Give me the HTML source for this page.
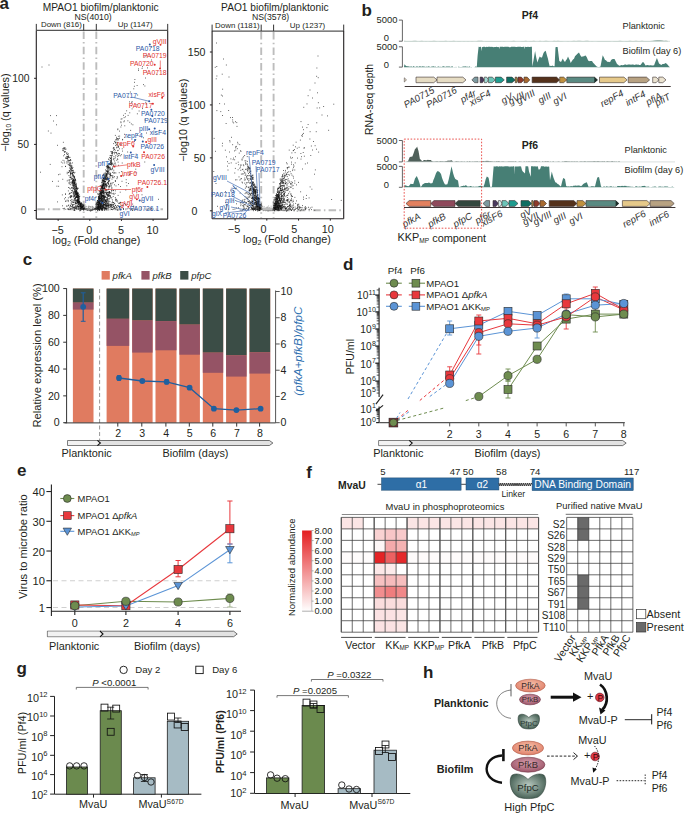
<!DOCTYPE html>
<html><head><meta charset="utf-8"><style>
html,body{margin:0;padding:0;background:#fff;width:685px;height:813px;overflow:hidden}
svg{display:block;font-family:"Liberation Sans",sans-serif}
</style></head><body>
<svg width="685" height="813" viewBox="0 0 685 813">
<rect width="685" height="813" fill="#fff"/>
<text x="-0.40" y="9.40" font-size="17.00" font-weight="bold" fill="#231f20">a</text>
<text x="100.60" y="10.57" font-size="10.20" text-anchor="middle" fill="#231f20">MPAO1 biofilm/planktonic</text>
<text x="93.10" y="19.64" font-size="8.70" text-anchor="middle" fill="#231f20">NS(4010)</text>
<text x="61.40" y="26.96" font-size="7.90" text-anchor="middle" fill="#231f20">Down (816)</text>
<text x="135.20" y="27.00" font-size="8.00" text-anchor="middle" fill="#231f20">Up (1147)</text>
<line x1="83.70" y1="31.40" x2="83.70" y2="218.10" stroke="#bdbdbd" stroke-width="1.90" stroke-dasharray="7.5 3.2 1.5 3.2"/>
<line x1="96.30" y1="31.40" x2="96.30" y2="218.10" stroke="#bdbdbd" stroke-width="1.90" stroke-dasharray="7.5 3.2 1.5 3.2"/>
<line x1="37.30" y1="209.30" x2="163.00" y2="209.30" stroke="#bdbdbd" stroke-width="1.90" stroke-dasharray="7.5 3.2 1.5 3.2"/>
<path d="M91.1 209.7h0M89.5 209.1h0M85.3 208.9h0M86.5 209.4h0M86.5 208.9h0M95.5 208.4h0M87.1 209.4h0M86.0 209.3h0M92.7 209.3h0M94.2 209.0h0M92.6 209.0h0M92.3 210.0h0M89.7 210.3h0M95.9 208.8h0M88.8 209.6h0M93.8 209.2h0M94.9 208.6h0M90.6 210.2h0M87.3 209.5h0M92.7 209.9h0M90.5 211.1h0M95.0 208.6h0M95.9 208.6h0M85.8 208.8h0M96.3 208.9h0M91.9 209.3h0M89.6 209.6h0M91.0 210.0h0M87.6 210.2h0M91.3 210.6h0M95.1 208.7h0M87.6 210.2h0M94.5 209.3h0M91.1 210.6h0M88.2 210.2h0M90.7 210.2h0M94.3 209.3h0M88.0 209.9h0M94.2 209.3h0M84.6 209.2h0M85.2 208.6h0M85.6 208.3h0M90.1 210.4h0M91.1 209.7h0M89.4 209.7h0M95.1 208.9h0M91.4 209.6h0M86.5 209.5h0M95.8 208.9h0M91.7 209.4h0M91.1 209.9h0M93.3 209.6h0M86.2 209.0h0M84.5 208.4h0M86.2 208.7h0M96.5 207.8h0M92.4 209.6h0M96.1 208.5h0M90.3 210.0h0M94.6 209.0h0M90.1 210.0h0M85.1 209.2h0M91.4 210.0h0M86.4 209.9h0M92.8 209.0h0M96.0 208.0h0M87.9 209.4h0M95.3 208.4h0M94.4 209.2h0M87.4 208.8h0M95.5 210.0h0M88.4 209.5h0M94.4 208.7h0M94.1 208.4h0M89.8 209.2h0M92.3 210.3h0M90.9 210.0h0M84.4 208.3h0M90.0 210.7h0M85.3 209.3h0M95.1 208.9h0M93.5 209.7h0M92.6 209.1h0M91.1 210.2h0M96.0 207.9h0M89.9 209.9h0M89.3 209.7h0M92.8 209.4h0M95.7 208.7h0M88.6 209.1h0" stroke="#555" stroke-width="0.90" stroke-linecap="round" fill="none"/>
<path d="M85.0 206.4h0M89.4 209.5h0M92.7 206.7h0M91.5 209.2h0M88.8 209.4h0M85.9 207.3h0M89.1 208.9h0M88.5 207.2h0M92.7 207.6h0M88.2 206.9h0M88.8 208.8h0M87.6 208.6h0M88.9 206.0h0M93.6 207.2h0M89.5 209.8h0M86.1 206.3h0M86.1 206.6h0M92.5 208.1h0M84.4 207.1h0M89.1 206.7h0M87.1 209.6h0M88.4 206.9h0M90.0 206.5h0M89.2 208.6h0M84.9 208.2h0M87.1 209.0h0M90.2 209.6h0M90.1 206.7h0M85.9 208.8h0M92.1 206.3h0M88.2 207.1h0M88.7 209.5h0M89.6 209.0h0M91.6 207.1h0M90.2 207.5h0M88.7 208.1h0M90.7 206.7h0M92.4 206.6h0M87.1 209.4h0M93.9 207.5h0" stroke="#9a9a9a" stroke-width="1.00" stroke-linecap="round" fill="none"/>
<path d="M78.5 201.7h0M75.9 192.8h0M83.5 208.8h0M78.6 197.8h0M76.3 188.8h0M83.4 207.2h0M80.8 206.6h0M76.2 190.3h0M78.1 208.8h0M76.1 197.2h0M80.6 202.2h0M74.8 189.8h0M78.8 202.6h0M73.5 179.1h0M73.9 185.6h0M78.1 201.2h0M79.0 197.2h0M74.1 186.7h0M67.1 158.7h0M83.4 208.9h0M83.1 208.5h0M77.8 199.1h0M74.9 193.1h0M72.5 202.1h0M78.2 200.6h0M78.4 194.8h0M70.2 197.3h0M73.8 183.2h0M74.3 209.4h0M72.5 174.2h0M76.0 187.9h0M82.6 205.8h0M82.7 206.7h0M71.0 163.9h0M73.6 200.2h0M74.6 180.7h0M77.3 200.5h0M83.7 210.0h0M69.9 193.3h0M71.5 165.9h0M77.7 205.9h0M65.5 201.2h0M71.6 168.1h0M81.3 203.6h0M77.0 209.1h0M71.9 183.7h0M78.1 199.9h0M75.8 203.9h0M79.2 194.8h0M74.9 186.9h0M76.0 196.0h0M72.8 174.9h0M70.6 165.0h0M67.5 158.2h0M70.9 168.6h0M80.2 210.3h0M63.6 149.0h0M80.3 204.6h0M75.9 190.3h0M66.8 156.4h0M67.1 157.0h0M76.5 193.0h0M82.4 206.4h0M78.5 195.6h0M77.9 192.7h0M73.8 191.7h0M73.1 193.3h0M77.4 196.4h0M74.1 183.1h0M72.9 167.5h0M77.9 192.8h0M81.9 206.7h0M73.7 207.6h0M83.6 205.9h0M66.9 163.0h0M73.7 196.8h0M80.4 205.3h0M80.8 204.6h0M76.5 191.9h0M69.4 188.1h0M73.3 175.9h0M84.2 209.0h0M79.2 198.7h0M78.8 206.9h0M81.0 208.6h0M76.5 208.9h0M74.4 208.0h0M71.3 196.1h0M79.5 203.4h0M82.3 207.4h0M77.2 201.2h0M77.3 194.8h0M79.1 204.4h0M80.7 203.8h0M69.7 171.6h0M68.3 197.9h0M77.9 201.0h0M78.3 198.3h0M83.8 208.2h0M80.2 208.5h0M77.6 202.5h0M68.6 205.6h0M70.8 175.9h0M77.7 200.7h0M77.0 194.6h0M80.7 203.6h0M78.7 209.2h0M76.4 193.2h0M64.7 162.9h0M84.1 206.1h0M71.4 170.8h0M71.2 173.5h0M72.8 170.5h0M70.9 160.3h0M83.0 209.5h0M71.2 169.3h0M73.3 184.6h0M72.7 178.7h0M84.3 208.3h0M76.8 203.0h0M71.9 178.7h0M74.7 177.1h0M80.0 206.3h0M76.7 191.6h0M76.6 185.0h0M77.2 193.2h0M64.2 161.0h0M64.3 208.3h0M71.1 196.6h0M79.3 204.3h0M74.1 201.9h0M72.5 183.2h0M80.9 209.9h0M78.3 202.2h0M69.9 170.5h0M73.8 207.8h0M57.4 201.9h0M75.6 189.8h0M81.4 209.6h0M65.1 149.5h0M71.5 204.1h0M70.3 172.1h0M75.2 192.2h0M79.0 196.6h0M81.0 209.0h0M67.1 200.2h0M78.5 202.9h0M78.0 198.9h0M65.9 157.4h0M74.6 182.2h0M78.4 201.0h0M77.4 192.0h0M77.8 197.5h0M81.0 208.1h0M78.5 193.6h0M77.8 202.9h0M69.1 157.3h0M74.7 183.1h0M72.8 208.7h0M71.8 167.7h0M70.6 205.2h0M75.2 181.0h0M76.7 193.2h0M68.5 153.9h0M81.3 202.8h0M81.3 207.4h0M80.5 204.2h0M74.0 197.1h0M70.4 195.7h0M74.1 182.9h0M73.8 184.7h0M67.0 152.8h0M75.3 197.6h0M69.4 179.8h0M79.6 201.8h0M71.0 177.9h0M77.3 205.3h0M68.3 200.4h0M81.0 206.6h0M63.0 160.3h0M63.0 150.6h0M73.8 180.5h0M78.7 199.3h0M77.5 201.7h0M73.0 196.2h0M77.4 198.0h0M64.5 154.6h0M75.2 208.2h0M70.6 209.1h0M81.5 203.2h0M80.6 203.6h0M74.4 181.9h0M71.0 179.5h0M65.8 209.3h0M74.1 185.8h0M64.4 152.3h0M73.4 171.9h0M78.1 200.7h0M82.9 205.0h0M63.1 208.5h0M70.7 163.0h0M80.4 206.6h0M76.3 203.2h0M75.5 180.0h0M70.3 169.2h0M73.7 180.5h0M82.4 206.7h0M78.6 199.4h0M74.9 172.4h0M74.5 196.1h0M82.6 208.8h0M70.8 174.2h0M70.1 196.6h0M82.8 206.7h0M78.0 199.9h0M77.3 189.4h0M79.0 200.9h0M83.3 205.0h0M77.8 206.8h0M80.2 208.2h0M76.6 201.9h0M72.7 191.0h0M74.7 187.6h0M74.9 210.2h0M79.3 198.8h0M71.0 208.7h0M80.8 207.3h0M70.7 206.2h0M67.0 206.2h0M66.8 206.0h0M76.7 196.6h0M70.0 157.4h0M70.1 176.0h0M71.2 171.1h0M76.8 193.5h0M73.9 181.5h0M74.0 179.7h0M76.5 188.9h0M76.5 197.3h0M76.2 196.7h0M73.3 195.1h0M77.3 196.6h0M80.4 206.5h0M77.6 194.9h0M75.8 180.8h0M75.8 193.3h0M69.6 168.0h0M70.6 205.8h0M63.7 155.8h0M81.7 207.7h0M67.9 159.7h0M77.7 194.8h0M77.3 194.2h0M74.3 206.8h0M80.2 205.8h0M73.5 186.8h0M68.3 190.9h0M74.9 187.1h0M71.0 173.4h0M76.0 205.5h0M79.1 202.3h0M76.0 185.8h0M80.4 205.8h0M68.1 160.4h0M83.6 209.9h0M75.7 200.2h0M82.1 204.3h0M66.0 149.1h0M76.9 188.2h0M78.7 203.9h0M72.2 199.9h0M72.8 180.7h0M77.1 192.8h0M69.9 177.4h0M79.0 206.7h0M76.3 187.4h0M75.5 203.1h0M73.3 183.3h0M78.8 196.0h0M81.4 207.4h0M74.2 178.9h0M75.3 202.4h0M69.6 193.4h0M81.0 204.5h0M78.7 203.8h0M79.4 201.5h0M68.5 156.8h0M73.2 181.2h0M78.9 197.0h0M73.0 204.4h0M71.6 206.6h0M79.2 200.6h0M74.4 183.2h0M75.6 207.8h0M70.2 172.3h0M68.5 156.0h0M75.9 208.3h0M77.1 188.1h0M82.1 208.3h0M78.7 201.2h0M79.8 202.4h0M75.3 179.1h0M77.0 197.1h0M72.4 182.6h0M84.3 207.9h0M84.9 205.0h0M77.3 193.9h0M75.8 194.1h0M74.8 192.4h0M76.5 207.1h0M76.1 183.7h0M77.3 197.5h0M69.9 162.0h0M66.5 158.3h0M75.6 203.2h0M74.4 178.7h0M78.6 206.6h0M78.1 204.8h0M81.1 205.6h0M73.6 204.8h0M80.9 206.4h0M76.7 193.8h0M69.9 165.9h0M76.0 200.2h0M77.2 197.5h0M80.0 204.6h0M73.0 175.1h0M76.4 196.6h0M74.0 180.6h0M72.2 179.0h0M69.7 163.3h0M75.9 184.3h0M73.5 188.5h0M74.8 182.0h0M76.4 196.0h0M64.2 151.6h0M78.4 197.3h0M70.8 193.1h0M75.6 194.3h0M72.4 181.2h0M75.8 192.3h0M74.4 183.6h0M75.5 188.2h0M77.0 209.0h0M74.9 200.2h0M64.1 147.5h0M74.7 198.9h0M72.5 172.9h0M78.7 204.7h0M73.3 172.5h0M75.6 193.1h0M70.6 167.9h0M75.5 197.6h0M77.5 202.6h0M78.5 196.9h0M65.4 151.8h0M67.4 157.9h0M71.4 187.8h0M75.6 186.3h0M81.9 204.0h0M67.0 158.3h0M74.2 189.4h0M72.5 175.9h0M74.3 193.1h0M76.4 191.9h0M77.5 195.5h0M73.6 194.2h0M80.3 210.0h0M76.0 186.0h0M83.0 204.6h0M77.9 188.5h0M73.6 176.9h0M72.6 181.6h0M74.8 199.0h0M78.2 204.0h0M70.1 170.9h0M69.1 194.3h0M76.4 186.6h0M75.4 201.2h0M81.8 208.7h0M83.0 208.7h0M66.6 153.2h0M68.2 156.2h0M75.8 182.8h0M75.2 184.6h0M72.8 206.4h0M72.3 185.6h0M75.5 191.6h0M70.6 200.6h0M83.6 208.4h0M72.8 172.0h0M67.7 208.9h0M72.9 180.1h0M82.0 204.6h0M74.3 185.6h0M69.4 165.1h0M81.8 203.7h0M73.7 176.8h0M81.5 207.2h0M63.1 150.5h0M74.4 210.4h0M81.5 207.6h0M70.9 166.2h0M76.2 190.1h0M70.8 174.1h0M70.3 197.1h0M73.8 175.6h0M71.0 166.4h0M68.9 157.8h0M68.0 161.0h0M70.6 160.2h0M73.9 202.4h0M68.1 162.8h0M69.0 165.0h0M74.2 173.1h0M82.8 206.8h0M73.5 179.7h0M75.2 184.5h0M75.3 179.4h0M72.6 173.7h0M69.8 160.4h0M76.2 190.4h0M73.7 182.7h0M65.5 193.9h0M74.4 200.2h0M80.1 205.6h0M79.9 210.8h0M74.6 191.3h0M72.4 162.9h0M83.2 209.1h0M81.1 207.5h0M67.0 154.1h0M80.0 207.4h0M76.1 188.1h0M65.5 197.6h0M80.5 204.7h0M70.6 159.5h0M68.9 175.6h0M68.4 209.2h0M72.4 184.7h0M82.3 207.1h0M77.3 195.6h0M75.7 185.8h0M69.8 209.4h0M70.9 165.7h0M80.2 208.6h0M75.4 196.0h0M76.0 188.3h0M72.2 182.0h0M79.2 202.7h0M70.8 169.4h0M68.2 201.6h0M83.8 209.2h0M77.0 195.4h0M72.9 202.0h0M81.4 207.2h0M72.4 180.8h0M72.6 173.4h0M71.6 170.1h0M67.5 156.5h0M83.3 205.6h0M80.2 208.7h0M75.5 203.0h0M73.1 172.7h0M73.7 180.0h0M68.6 172.6h0M76.8 196.2h0M68.2 164.5h0M76.1 200.0h0M80.2 209.1h0M75.7 206.7h0M76.3 201.1h0M82.3 209.4h0M77.8 193.2h0M77.3 196.0h0M71.1 172.7h0M79.4 205.8h0M74.0 193.4h0M74.1 182.3h0M76.4 194.5h0M83.0 205.6h0M74.5 191.1h0M63.4 148.3h0M73.1 192.3h0M77.0 200.7h0M68.5 160.9h0M69.5 207.1h0M78.4 202.7h0M76.0 193.7h0M74.0 210.4h0M64.8 148.3h0M70.1 163.1h0M70.7 184.7h0M74.6 188.4h0M75.9 191.7h0M76.8 190.6h0M78.1 195.6h0M80.8 206.5h0M74.8 204.3h0M76.8 188.3h0M73.4 181.8h0M77.1 195.7h0M76.9 193.4h0M77.7 200.5h0M74.6 194.5h0M70.8 177.4h0M77.0 197.6h0M69.7 180.9h0M73.5 180.6h0M74.1 184.2h0M76.3 193.7h0M74.2 195.8h0M76.9 206.8h0M75.2 188.9h0M78.3 198.2h0M75.3 198.7h0M77.5 201.6h0M79.3 201.5h0M77.5 197.1h0M72.6 190.7h0M71.6 201.8h0M80.4 203.6h0M71.0 208.1h0M73.2 175.0h0M77.6 193.5h0M73.0 189.1h0M76.3 193.9h0M71.6 190.6h0M65.4 194.3h0M79.0 199.5h0M78.4 202.5h0M76.7 207.9h0M67.5 154.4h0M77.4 193.6h0M68.4 187.5h0M73.8 188.1h0M78.7 201.7h0M72.3 168.4h0M75.9 194.2h0M76.8 193.9h0M81.9 207.5h0M74.6 207.8h0M77.1 189.0h0M72.0 177.0h0M72.7 205.7h0M75.3 190.2h0M68.2 209.2h0M78.9 196.7h0M64.9 151.4h0M67.2 172.3h0M77.3 195.2h0M71.2 182.0h0M78.4 195.3h0M76.3 200.7h0M75.8 192.2h0M74.3 198.7h0M77.9 200.3h0M80.5 204.7h0M82.0 206.0h0M69.2 170.6h0M70.7 174.1h0M71.3 199.8h0M76.7 194.4h0M72.1 182.7h0M77.4 199.7h0M69.5 165.0h0M78.0 202.9h0M76.2 191.1h0M79.1 205.8h0M80.4 206.7h0M79.3 202.5h0M81.7 206.7h0M68.3 157.3h0M78.0 206.7h0M73.6 185.5h0M73.1 183.4h0M72.0 188.1h0M75.0 180.6h0M80.3 206.1h0M81.9 208.6h0M72.2 168.7h0M79.4 197.0h0M73.0 170.3h0M71.5 167.3h0M72.7 207.3h0M73.2 180.1h0M75.1 179.7h0M74.3 184.3h0M73.0 170.4h0M70.8 182.8h0M78.1 206.8h0M67.2 173.7h0M76.5 187.0h0M77.9 199.7h0M83.2 206.3h0M71.1 203.1h0M77.1 199.9h0M74.3 191.0h0M71.8 178.8h0M79.8 196.3h0M79.3 202.0h0M77.4 202.9h0M80.4 206.9h0M62.6 205.8h0M68.2 180.1h0M75.7 192.1h0M72.5 205.1h0M75.9 186.1h0M80.6 203.4h0M74.3 177.3h0M78.0 188.2h0M74.5 176.5h0M81.6 205.6h0M75.5 191.4h0M75.3 208.1h0M75.9 184.1h0M75.6 194.8h0M81.4 207.8h0M81.4 204.9h0M72.4 182.7h0M62.8 163.0h0M72.1 187.6h0M74.5 177.5h0M75.6 198.6h0M76.7 203.7h0M67.2 180.9h0M52.5 181.4h0M74.6 189.8h0M57.4 145.3h0M73.6 192.8h0M69.0 183.1h0M62.3 194.9h0M73.1 186.9h0M78.6 206.4h0M74.1 185.7h0M73.1 188.0h0M76.9 206.4h0M40.5 172.2h0M68.3 172.3h0M72.3 204.9h0M81.1 205.4h0M76.7 196.6h0M64.6 198.9h0M58.3 181.2h0M62.4 148.9h0M72.1 166.1h0M71.5 195.7h0M78.7 208.2h0M61.3 162.1h0M66.0 201.2h0M74.7 183.8h0M66.9 161.7h0M58.4 174.7h0M56.9 186.2h0M78.9 209.2h0M65.1 147.9h0M65.7 158.4h0M68.8 205.0h0M73.1 182.0h0M63.3 142.3h0M74.6 195.6h0M75.8 197.5h0M82.7 207.5h0M80.8 204.8h0M70.3 188.9h0M50.4 115.6h0M65.6 166.3h0M62.8 179.3h0M64.5 148.8h0M65.6 166.5h0M78.3 196.3h0M71.5 196.7h0M74.7 196.1h0M79.0 206.6h0M76.3 191.6h0M73.9 207.6h0M58.7 186.3h0M69.3 183.9h0M60.0 174.2h0M80.7 206.4h0M77.4 201.2h0M70.6 173.4h0M74.8 182.7h0M72.2 170.9h0M69.5 160.5h0M73.5 202.4h0M51.0 133.1h0M70.4 177.6h0M76.8 207.9h0M76.4 196.8h0M71.5 192.5h0M79.4 203.5h0M72.8 207.0h0M79.0 207.2h0M69.2 182.3h0M70.8 197.7h0M62.0 166.7h0M50.2 164.4h0M75.6 206.2h0M106.0 178.9h0M103.1 181.7h0M98.6 207.8h0M112.2 153.4h0M102.1 183.3h0M107.4 179.8h0M104.2 189.0h0M105.0 202.2h0M114.1 208.1h0M119.4 208.0h0M112.1 151.5h0M99.3 203.3h0M115.3 181.0h0M110.7 204.6h0M112.2 169.0h0M112.0 202.8h0M100.5 205.9h0M107.1 192.8h0M97.5 201.1h0M106.3 170.4h0M117.0 207.5h0M98.0 206.5h0M108.9 187.3h0M100.1 185.8h0M96.2 204.7h0M100.9 195.8h0M117.3 209.9h0M101.5 206.9h0M106.5 205.7h0M102.6 196.3h0M117.8 159.4h0M107.1 166.8h0M102.0 203.8h0M98.5 198.8h0M102.9 186.1h0M104.6 187.6h0M116.7 199.3h0M99.9 199.5h0M98.3 208.3h0M101.9 190.6h0M115.2 207.9h0M105.6 208.6h0M102.3 193.2h0M103.8 182.8h0M101.2 190.4h0M105.3 184.3h0M104.8 186.8h0M113.1 204.4h0M100.8 196.8h0M103.8 205.7h0M100.7 193.9h0M103.7 206.3h0M103.4 175.6h0M97.5 200.7h0M100.8 206.5h0M104.1 176.6h0M101.1 200.7h0M98.4 197.1h0M103.1 186.5h0M99.2 200.2h0M98.4 205.1h0M103.5 184.4h0M110.1 174.6h0M104.9 204.4h0M100.7 201.1h0M105.6 184.7h0M107.0 176.1h0M114.9 158.6h0M98.1 200.2h0M105.3 181.1h0M110.2 163.5h0M102.0 196.3h0M101.3 197.5h0M103.4 195.9h0M102.5 200.4h0M103.1 180.5h0M97.1 208.3h0M105.5 181.6h0M105.1 184.8h0M105.4 197.1h0M109.0 169.0h0M99.6 210.2h0M104.3 202.3h0M101.2 195.3h0M105.5 169.9h0M100.7 206.0h0M101.3 196.5h0M107.5 177.9h0M102.5 208.5h0M106.4 192.9h0M101.5 202.6h0M107.5 198.3h0M97.7 207.8h0M107.2 170.8h0M111.1 157.7h0M101.4 187.2h0M107.1 174.2h0M123.2 208.5h0M109.1 198.8h0M105.1 186.8h0M98.5 209.2h0M102.0 192.0h0M111.1 160.7h0M103.4 178.3h0M101.9 200.0h0M102.1 206.9h0M102.7 187.9h0M111.1 159.9h0M103.2 202.4h0M115.3 157.2h0M100.9 191.3h0M97.9 204.4h0M117.6 158.9h0M97.7 202.2h0M105.7 201.3h0M96.8 206.0h0M106.0 194.0h0M102.9 191.5h0M103.8 207.6h0M100.2 200.5h0M110.5 206.6h0M107.3 168.1h0M109.5 168.1h0M103.3 206.9h0M102.0 195.4h0M112.0 205.6h0M110.6 195.9h0M102.8 196.6h0M98.8 204.6h0M100.6 208.6h0M108.8 166.2h0M99.2 191.9h0M96.5 202.8h0M100.6 190.1h0M105.1 175.2h0M112.2 152.9h0M97.1 204.1h0M99.8 201.6h0M105.6 203.8h0M109.3 195.7h0M104.7 181.7h0M108.1 172.5h0M105.8 202.0h0M110.7 183.2h0M110.6 162.7h0M106.4 190.9h0M110.8 168.4h0M116.6 152.6h0M98.2 204.2h0M110.2 197.6h0M105.0 186.5h0M106.0 177.7h0M107.6 200.1h0M105.8 200.6h0M97.8 209.6h0M106.5 175.6h0M108.9 201.8h0M102.1 190.4h0M106.9 184.8h0M110.8 207.2h0M102.6 205.5h0M111.5 205.4h0M102.3 198.3h0M102.0 194.8h0M104.7 210.4h0M105.1 176.6h0M100.8 194.2h0M109.5 157.7h0M103.2 188.8h0M102.8 187.8h0M102.0 187.8h0M119.7 136.1h0M108.6 192.6h0M103.0 183.7h0M97.4 208.1h0M101.9 191.9h0M105.7 182.0h0M120.3 202.3h0M101.1 189.2h0M113.7 143.6h0M108.4 205.3h0M110.0 201.7h0M99.3 206.2h0M129.1 208.5h0M121.1 144.5h0M98.9 205.1h0M119.0 203.3h0M103.1 204.0h0M105.2 172.8h0M102.3 206.5h0M101.9 187.6h0M111.7 159.4h0M108.3 203.8h0M103.1 192.2h0M106.8 204.9h0M102.8 186.2h0M102.0 201.5h0M108.5 186.3h0M107.5 182.3h0M103.7 201.7h0M98.7 194.4h0M102.1 202.1h0M106.2 171.2h0M107.3 192.6h0M109.5 173.9h0M103.4 196.9h0M103.6 174.7h0M101.5 185.2h0M98.7 207.5h0M105.4 205.1h0M118.3 136.3h0M96.0 208.6h0M101.5 190.3h0M98.8 197.0h0M107.4 175.0h0M100.5 201.1h0M109.1 178.5h0M100.0 195.4h0M103.6 195.6h0M103.7 183.5h0M120.2 192.2h0M113.8 177.7h0M102.2 208.0h0M101.7 186.7h0M99.1 205.2h0M102.9 182.5h0M104.6 185.6h0M109.4 186.6h0M108.4 159.1h0M106.1 206.4h0M102.2 189.9h0M100.9 190.3h0M110.8 205.2h0M99.9 197.9h0M110.1 177.9h0M104.5 177.0h0M98.4 206.8h0M105.3 205.3h0M114.5 152.3h0M97.4 200.5h0M102.5 209.7h0M101.5 210.1h0M96.6 209.5h0M100.5 201.1h0M108.7 189.5h0M99.7 200.8h0M104.8 204.6h0M105.5 185.0h0M107.2 208.1h0M106.4 184.8h0M104.3 197.9h0M101.6 208.6h0M101.7 200.1h0M112.1 183.0h0M104.5 177.5h0M117.7 156.6h0M101.0 189.9h0M131.9 209.4h0M103.7 185.5h0M108.8 196.3h0M110.9 161.3h0M107.0 174.5h0M105.7 177.8h0M105.9 202.9h0M101.1 209.8h0M101.0 207.0h0M100.1 208.2h0M111.3 207.7h0M109.6 207.3h0M107.0 205.3h0M108.7 209.9h0M102.2 190.9h0M103.4 190.1h0M105.5 178.9h0M100.5 208.7h0M110.2 168.3h0M103.7 185.3h0M120.3 202.5h0M105.6 189.5h0M114.4 149.5h0M123.4 209.5h0M108.5 202.0h0M107.8 177.9h0M101.7 201.9h0M117.8 142.8h0M108.3 194.9h0M102.1 186.6h0M99.4 203.1h0M103.4 185.0h0M104.1 186.2h0M105.2 204.1h0M106.7 205.0h0M103.4 191.5h0M98.0 202.8h0M102.0 201.0h0M118.0 139.8h0M101.3 206.3h0M102.5 185.5h0M112.3 155.3h0M110.4 174.7h0M102.0 187.6h0M111.6 163.2h0M101.9 188.3h0M103.0 178.7h0M98.0 209.6h0M115.8 143.2h0M106.0 178.8h0M101.2 207.4h0M98.8 200.3h0M104.9 204.4h0M103.5 197.2h0M106.7 173.6h0M98.1 206.4h0M99.1 206.9h0M101.1 198.4h0M98.9 197.8h0M109.9 204.7h0M120.1 144.3h0M107.7 194.9h0M115.3 205.4h0M101.3 197.4h0M101.6 202.4h0M98.2 207.9h0M96.0 209.2h0M99.2 197.0h0M99.4 195.3h0M107.7 178.2h0M99.2 200.9h0M101.0 191.8h0M98.8 208.8h0M103.1 180.9h0M102.0 188.5h0M102.2 195.4h0M111.5 160.3h0M108.4 173.5h0M100.0 198.9h0M99.6 201.0h0M104.2 191.1h0M102.7 185.2h0M115.7 145.5h0M101.0 192.5h0M100.6 205.6h0M113.4 165.3h0M97.4 204.1h0M110.1 160.6h0M100.3 204.2h0M102.2 195.4h0M104.1 195.8h0M109.4 192.6h0M103.9 206.7h0M98.4 205.6h0M98.7 199.8h0M104.7 182.3h0M106.2 178.3h0M110.1 184.9h0M112.0 179.1h0M114.8 203.9h0M103.7 204.5h0M103.9 181.0h0M100.8 203.9h0M112.2 199.6h0M103.5 192.0h0M105.4 205.8h0M109.9 205.2h0M107.2 173.2h0M116.9 142.3h0M108.3 204.2h0M106.8 167.9h0M99.4 194.4h0M97.9 210.1h0M127.8 204.5h0M132.5 210.5h0M100.9 206.2h0M99.2 198.5h0M105.6 208.2h0M106.9 185.9h0M112.4 201.1h0M104.3 193.7h0M105.7 200.0h0M104.7 178.1h0M100.9 185.5h0M97.1 207.4h0M104.1 205.3h0M103.3 204.3h0M102.8 185.0h0M102.5 202.3h0M111.6 163.5h0M107.3 204.0h0M106.4 174.4h0M99.6 202.0h0M103.0 191.2h0M100.8 207.6h0M103.0 205.9h0M104.9 200.6h0M102.6 208.1h0M99.4 203.8h0M99.7 196.6h0M101.9 199.2h0M100.0 206.8h0M97.7 210.3h0M99.0 196.9h0M101.8 182.1h0M99.7 201.1h0M97.9 203.0h0M113.7 208.7h0M102.5 206.6h0M117.7 201.9h0M116.7 207.3h0M111.5 161.4h0M106.1 202.1h0M99.8 207.5h0M105.6 176.0h0M107.1 197.5h0M101.5 202.5h0M112.5 204.7h0M103.3 193.7h0M112.1 164.4h0M106.4 175.6h0M99.9 200.9h0M114.7 161.0h0M108.8 181.7h0M110.9 151.6h0M102.9 187.6h0M103.0 193.7h0M104.1 173.4h0M112.2 154.1h0M101.5 209.3h0M107.5 201.7h0M98.6 204.7h0M99.4 202.9h0M99.2 209.2h0M113.2 196.5h0M100.3 201.5h0M112.2 163.8h0M106.9 193.4h0M107.9 194.6h0M103.4 188.0h0M118.6 146.0h0M108.2 208.6h0M107.0 199.2h0M107.2 178.4h0M117.3 177.7h0M111.8 197.7h0M107.2 205.1h0M104.9 205.0h0M102.0 209.3h0M107.1 178.6h0M108.5 181.7h0M113.2 205.9h0M113.9 164.3h0M106.6 193.9h0M99.9 198.4h0M99.3 198.2h0M111.7 209.2h0M99.7 204.4h0M103.0 191.7h0M103.9 184.3h0M96.0 204.2h0M112.1 151.9h0M104.7 177.8h0M105.2 190.0h0M101.3 204.3h0M102.0 190.4h0M103.6 208.2h0M123.7 205.1h0M99.7 197.1h0M101.1 192.1h0M102.6 186.2h0M102.3 198.2h0M96.0 207.0h0M107.3 171.8h0M111.2 158.7h0M109.4 193.1h0M110.6 205.9h0M109.3 191.7h0M100.8 193.5h0M108.8 164.3h0M108.6 196.2h0M103.5 199.8h0M103.9 196.5h0M105.3 178.9h0M99.2 201.4h0M103.9 201.9h0M113.0 209.4h0M99.6 206.7h0M108.1 183.1h0M109.0 194.0h0M108.9 198.8h0M106.1 201.1h0M100.6 191.8h0M105.0 208.1h0M105.1 207.6h0M112.1 188.0h0M100.6 198.0h0M116.6 137.3h0M107.5 206.2h0M96.8 207.7h0M100.4 198.4h0M108.1 166.7h0M111.7 153.2h0M106.9 207.0h0M102.4 210.0h0M106.9 209.9h0M110.3 192.8h0M113.2 148.3h0M108.2 200.2h0M103.5 179.6h0M102.5 202.2h0M98.6 206.8h0M113.7 159.7h0M114.3 206.6h0M101.9 190.9h0M103.7 180.2h0M108.3 167.9h0M103.7 183.4h0M104.1 184.4h0M128.2 201.8h0M104.7 197.7h0M111.0 198.0h0M100.7 197.7h0M104.2 188.7h0M104.4 183.4h0M101.4 204.1h0M95.4 208.7h0M105.1 196.4h0M98.6 201.7h0M106.2 176.4h0M103.1 202.3h0M105.9 179.0h0M110.8 161.2h0M102.5 188.7h0M105.6 208.7h0M107.9 182.6h0M116.3 144.7h0M100.9 193.3h0M101.2 196.6h0M99.4 193.7h0M118.6 165.3h0M99.8 205.4h0M101.0 193.9h0M104.9 207.0h0M118.1 150.4h0M104.0 188.5h0M115.8 200.5h0M97.4 204.4h0M101.5 193.9h0M110.3 173.1h0M110.8 155.5h0M102.3 199.2h0M106.5 208.5h0M105.0 175.4h0M106.6 175.2h0M115.0 166.8h0M106.7 199.3h0M119.6 131.1h0M122.0 206.0h0M117.8 129.7h0M108.1 183.4h0M98.9 204.1h0M102.2 192.2h0M102.7 192.1h0M99.6 210.1h0M105.0 181.6h0M100.5 207.3h0M108.7 181.0h0M103.3 196.4h0M100.1 206.0h0M99.2 207.6h0M99.9 195.9h0M106.8 201.9h0M99.6 198.7h0M107.6 172.0h0M97.6 208.1h0M101.9 182.5h0M102.3 186.8h0M109.5 163.6h0M133.8 206.2h0M100.8 201.6h0M98.5 199.3h0M118.9 206.6h0M98.7 207.0h0M102.6 186.5h0M110.1 155.7h0M105.0 197.2h0M104.5 192.7h0M104.2 177.9h0M103.5 192.2h0M117.1 200.5h0M104.6 198.5h0M110.9 169.6h0M105.4 185.0h0M117.9 210.3h0M106.3 185.2h0M109.8 192.9h0M103.4 193.4h0M103.7 201.1h0M103.1 204.6h0M101.8 198.8h0M105.5 203.5h0M104.4 195.2h0M105.5 200.2h0M105.5 174.7h0M101.6 197.4h0M102.7 181.7h0M104.7 178.6h0M103.2 186.1h0M107.0 209.9h0M115.1 142.0h0M100.9 207.8h0M105.7 200.5h0M107.7 165.4h0M102.1 198.2h0M113.7 206.1h0M99.4 202.5h0M97.1 205.6h0M111.0 162.6h0M100.5 204.5h0M101.7 208.9h0M101.1 186.8h0M101.6 187.0h0M107.6 171.5h0M101.8 192.6h0M100.9 188.5h0M101.2 204.8h0M110.4 164.6h0M108.4 171.0h0M98.0 209.3h0M104.0 178.1h0M107.1 200.3h0M109.1 172.3h0M103.2 207.5h0M98.1 202.1h0M102.0 208.3h0M103.8 195.4h0M101.3 195.6h0M109.0 170.6h0M99.2 201.0h0M97.4 208.6h0M102.3 187.9h0M113.8 172.2h0M104.2 200.6h0M102.4 187.4h0M105.3 177.5h0M110.7 183.8h0M102.4 186.5h0M106.6 205.8h0M103.2 203.6h0M103.0 205.5h0M98.3 206.1h0M102.4 202.1h0M104.4 179.1h0M105.7 173.4h0M103.0 199.0h0M119.5 207.4h0M119.4 138.2h0M96.1 206.2h0M111.3 164.6h0M107.7 194.8h0M98.4 202.1h0M97.9 208.1h0M113.7 202.6h0M110.1 169.6h0M104.6 204.2h0M103.6 205.8h0M104.0 191.1h0M99.0 197.5h0M118.7 147.0h0M98.3 203.9h0M101.8 205.5h0M104.8 196.9h0M108.5 167.8h0M103.5 183.1h0M101.8 207.0h0M105.7 179.2h0M106.8 176.7h0M101.3 196.1h0M99.9 199.4h0M107.1 173.5h0M112.3 207.2h0M103.3 178.4h0M101.4 187.8h0M99.9 198.8h0M107.4 169.3h0M103.8 192.8h0M99.2 197.1h0M113.9 156.7h0M105.4 192.5h0M102.1 202.4h0M102.1 188.4h0M102.9 189.1h0M108.4 184.3h0M99.7 208.8h0M99.9 207.5h0M105.8 196.7h0M100.2 207.4h0M141.3 207.2h0M101.1 206.1h0M111.3 155.9h0M113.5 150.1h0M102.4 180.9h0M103.0 199.8h0M101.5 192.6h0M101.4 193.7h0M109.4 167.4h0M100.4 190.2h0M97.8 202.4h0M100.0 188.7h0M101.9 197.8h0M108.9 206.8h0M98.3 201.5h0M102.9 184.8h0M103.9 183.8h0M102.7 195.6h0M100.8 203.2h0M104.0 205.1h0M107.0 173.3h0M114.3 208.1h0M100.2 204.3h0M118.5 205.9h0M110.5 164.3h0M100.9 207.9h0M108.6 192.1h0M98.4 207.2h0M99.0 200.9h0M98.0 206.6h0M109.4 205.2h0M107.8 199.0h0M123.4 208.8h0M98.3 198.3h0M107.2 208.2h0M101.2 202.9h0M99.3 202.8h0M103.7 190.2h0M102.6 205.1h0M108.7 183.9h0M125.4 204.7h0M115.4 152.4h0M108.6 206.1h0M101.4 194.5h0M101.1 203.5h0M102.8 185.5h0M98.4 196.3h0M100.8 206.1h0M102.3 200.1h0M99.3 198.9h0M122.5 151.1h0M104.2 197.5h0M106.7 185.7h0M98.8 203.7h0M106.0 201.0h0M104.1 187.8h0M98.7 204.9h0M104.7 184.7h0M107.7 171.9h0M97.1 209.0h0M113.8 170.2h0M98.2 204.6h0M102.2 184.4h0M124.6 203.6h0M108.6 167.1h0M102.7 185.3h0M105.7 176.7h0M103.8 200.0h0M108.7 179.0h0M110.3 175.8h0M104.9 201.0h0M115.8 155.7h0M107.1 179.1h0M107.9 202.8h0M96.7 203.6h0M120.8 206.3h0M104.1 174.4h0M117.5 138.5h0M127.2 208.8h0M101.3 199.7h0M101.7 204.1h0M103.9 188.5h0M100.5 193.5h0M108.6 207.6h0M115.5 142.5h0M106.7 209.2h0M102.6 207.9h0M106.9 200.2h0M107.8 192.2h0M115.2 150.3h0M110.3 204.3h0M99.4 203.6h0M104.3 180.8h0M111.7 155.9h0M108.1 206.7h0M116.9 140.0h0M97.9 194.1h0M106.4 202.2h0M97.9 208.5h0M103.5 200.3h0M111.6 190.8h0M104.6 180.0h0M100.9 199.4h0M98.0 193.7h0M99.1 202.1h0M112.4 172.4h0M98.4 208.3h0M97.5 202.3h0M108.0 177.1h0M110.4 175.7h0M108.8 205.8h0M103.8 207.9h0M109.0 174.6h0M113.7 158.7h0M106.3 171.6h0M109.0 194.9h0M97.0 204.0h0M102.6 179.7h0M106.8 203.3h0M113.6 206.8h0M98.2 207.2h0M104.7 188.2h0M107.7 167.9h0M106.4 201.5h0M103.5 178.2h0M105.8 199.9h0M111.6 204.8h0M108.9 188.9h0M116.3 153.0h0M102.3 203.9h0M115.3 180.9h0M109.7 195.8h0M105.9 201.0h0M111.0 158.2h0M112.7 202.4h0M115.5 163.1h0M112.5 207.6h0M107.4 199.3h0M106.5 174.8h0M103.5 181.3h0M112.6 177.6h0M103.9 204.4h0M108.1 166.4h0M104.5 208.2h0M100.6 198.6h0M104.5 199.6h0M101.7 193.7h0M103.9 194.6h0M100.3 205.5h0M106.4 179.6h0M99.0 197.4h0M99.9 208.0h0M109.0 159.7h0M99.7 193.4h0M103.4 197.4h0M99.2 202.8h0M105.3 206.1h0M102.6 201.5h0M116.0 199.5h0M101.5 186.7h0M99.8 201.8h0M103.1 198.7h0M101.2 202.7h0M105.7 183.5h0M114.3 176.6h0M104.3 209.7h0M98.8 200.0h0M104.7 178.2h0M102.1 209.1h0M112.7 209.7h0M105.0 188.7h0M106.2 204.4h0M98.7 205.2h0M98.0 201.1h0M103.5 184.2h0M100.5 207.8h0M110.2 167.2h0M109.7 185.6h0M114.0 147.6h0M98.4 204.2h0M110.7 173.6h0M100.8 203.5h0M104.5 207.4h0M106.5 197.7h0M108.1 183.3h0M100.9 192.8h0M113.2 166.2h0M108.2 167.1h0M101.6 194.7h0M104.0 188.2h0M100.7 194.7h0M99.2 207.7h0M108.8 178.8h0M103.5 207.3h0M118.5 155.7h0M98.6 202.6h0M106.5 194.3h0M102.1 180.0h0M117.0 147.1h0M104.9 201.9h0M111.6 209.5h0M101.7 197.2h0M115.8 209.0h0M111.2 185.7h0M116.6 147.8h0M102.4 192.5h0M99.9 191.9h0M110.5 158.4h0M117.7 150.7h0M102.6 187.7h0M112.0 151.9h0M104.4 202.6h0M102.0 208.7h0M98.1 205.6h0M108.1 167.6h0M107.6 197.0h0M100.7 193.7h0M98.6 209.2h0M101.9 200.3h0M109.1 167.3h0M101.9 202.6h0M101.3 191.8h0M102.4 175.6h0M107.4 205.8h0M102.4 189.0h0M110.8 158.5h0M98.8 196.2h0M103.1 198.1h0M101.4 200.3h0M118.8 138.5h0M101.3 199.0h0M115.6 205.5h0M98.3 202.5h0M107.9 165.4h0M102.0 186.0h0M108.5 204.8h0M106.0 205.9h0M104.9 197.6h0M101.2 208.7h0M107.3 166.1h0M109.5 191.6h0M103.7 183.9h0M106.9 192.5h0M117.5 205.7h0M114.1 148.8h0M99.9 198.6h0M99.2 209.7h0M100.9 201.5h0M106.9 203.5h0M116.3 206.4h0M99.2 206.3h0M102.0 200.9h0M110.0 196.1h0M115.6 199.1h0M100.2 194.7h0M109.0 203.7h0M104.5 181.6h0M99.6 191.0h0M114.4 153.8h0M101.5 199.4h0M104.2 196.8h0M135.8 139.6h0M110.8 162.2h0M108.1 195.3h0M118.5 184.6h0M104.0 192.6h0M124.8 125.8h0M126.7 110.8h0M127.6 136.9h0M142.0 194.8h0M98.3 207.4h0M103.5 184.4h0M109.1 164.7h0M125.4 116.8h0M117.2 176.6h0M142.6 108.6h0M106.3 208.8h0M134.5 141.6h0M126.7 157.9h0M106.4 186.7h0M99.7 203.6h0M106.2 187.2h0M143.6 137.8h0M127.9 120.8h0M118.2 139.8h0M101.8 205.6h0M121.1 175.8h0M116.8 138.6h0M117.2 145.1h0M113.6 202.6h0M115.3 190.8h0M129.8 112.8h0M124.3 120.9h0M102.0 196.2h0M99.6 206.3h0M124.6 134.3h0M126.8 185.8h0M108.4 205.5h0M115.3 135.4h0M99.8 209.4h0M111.4 175.7h0M131.3 105.8h0M110.4 196.2h0M115.1 193.4h0M105.9 190.1h0M136.7 172.8h0M102.5 210.2h0M132.9 124.8h0M130.7 130.4h0M105.4 207.9h0M102.1 192.3h0M131.8 102.4h0M136.8 192.8h0M138.6 68.9h0M103.4 203.7h0M142.1 68.4h0M104.4 208.7h0M108.2 193.4h0M111.2 193.7h0M103.4 180.7h0M122.0 181.3h0M128.1 115.4h0M141.4 201.0h0M101.5 205.1h0M111.8 169.7h0M129.6 101.9h0M144.8 57.1h0M129.9 174.4h0M107.6 203.3h0M107.9 195.5h0M133.8 88.8h0M146.4 133.0h0M103.0 196.0h0M136.1 154.2h0M97.8 206.3h0M102.9 207.2h0M122.6 139.9h0M112.8 193.7h0M116.8 160.3h0M121.6 125.2h0M130.0 174.8h0M111.9 184.0h0M114.4 184.8h0M119.0 203.4h0M137.3 113.8h0M112.6 168.6h0M100.4 196.2h0M99.1 206.2h0M105.8 184.3h0M115.6 181.1h0M100.9 192.3h0M109.9 164.1h0M113.6 147.8h0M112.6 167.2h0M111.7 157.2h0M154.9 180.6h0M115.9 173.0h0M111.4 188.0h0M163.7 119.3h0M111.6 206.5h0M107.1 165.8h0M97.3 207.1h0M123.3 175.9h0M111.0 186.3h0M106.4 174.6h0M108.0 196.3h0M114.4 207.9h0M103.8 204.7h0M128.4 183.5h0M128.7 97.2h0M105.4 208.6h0M109.9 192.8h0M98.0 208.6h0M150.7 56.3h0M111.3 204.3h0M116.7 139.3h0M120.9 127.0h0M121.0 122.7h0M122.7 139.4h0M134.9 79.5h0M118.1 147.4h0M158.5 199.3h0M116.9 178.7h0M113.6 190.5h0M139.1 111.0h0M107.6 170.8h0M98.1 205.1h0M112.6 152.9h0M113.1 152.6h0M107.8 172.0h0M122.0 118.8h0M103.1 195.8h0M114.0 173.5h0M112.2 163.2h0M97.8 210.8h0M100.0 204.6h0M99.6 208.8h0M104.3 188.1h0M104.5 196.9h0M113.7 193.3h0M126.2 179.7h0M126.2 182.6h0M98.9 203.2h0M109.4 191.8h0M108.0 166.1h0M117.9 128.9h0M117.1 144.1h0M123.9 121.8h0M144.9 86.0h0M115.3 197.6h0M109.0 201.0h0M122.2 163.0h0M101.4 198.8h0M119.8 203.1h0M118.1 162.1h0M112.7 176.1h0M110.1 169.3h0M135.8 169.2h0M120.4 186.5h0M145.5 78.0h0M142.6 66.7h0M121.4 171.6h0M103.4 198.4h0M124.4 137.3h0M134.5 82.3h0M103.8 180.7h0M109.1 180.4h0M105.8 189.8h0M132.7 204.1h0M114.0 194.6h0M104.5 179.2h0M104.2 199.0h0M111.8 162.7h0M105.0 208.9h0M106.3 206.7h0M102.4 195.3h0M132.1 108.9h0M103.1 190.4h0M116.0 185.9h0M113.6 204.6h0M105.0 181.6h0M99.7 202.3h0M123.6 115.3h0M106.2 180.1h0M137.7 95.0h0M120.9 121.8h0M124.1 117.6h0M109.8 176.9h0M100.3 202.8h0M159.4 130.4h0M100.6 206.1h0M119.5 148.8h0M145.9 56.1h0M104.6 181.3h0M109.1 195.1h0M122.2 205.3h0M98.8 198.7h0M133.1 206.3h0M107.8 190.0h0M111.0 175.6h0M100.4 192.4h0M107.5 205.2h0M146.8 55.4h0M108.6 169.0h0M106.3 166.5h0M99.5 209.8h0M145.0 119.9h0M114.8 172.6h0M107.4 167.1h0M99.7 198.3h0M102.5 197.0h0M151.6 60.0h0M129.8 122.3h0M132.1 101.6h0M109.7 180.9h0M105.7 191.9h0M115.8 165.0h0M112.8 175.8h0M125.8 190.0h0M143.4 84.6h0M99.6 209.2h0M106.3 183.4h0M115.4 139.9h0M109.2 198.8h0M130.2 172.2h0M109.0 180.8h0M137.1 85.5h0M104.3 199.4h0M130.3 92.0h0M117.2 154.8h0M106.6 207.1h0M105.8 208.7h0M116.2 201.3h0M114.3 163.2h0M137.4 134.8h0M119.1 155.1h0M138.6 70.4h0M108.3 171.4h0M113.2 182.6h0M146.3 104.0h0M105.0 175.2h0M120.7 155.8h0M137.0 104.6h0M117.0 153.7h0M118.5 153.4h0M144.8 162.0h0M99.6 195.9h0M102.3 180.5h0M121.3 154.6h0M106.6 177.0h0M106.3 193.6h0M119.4 153.5h0M151.4 208.7h0M145.8 102.3h0M107.7 195.1h0M122.2 148.8h0M118.2 146.4h0M113.1 190.7h0M103.6 178.3h0M106.8 189.6h0M104.8 196.5h0M134.3 86.3h0M104.9 177.7h0M107.3 179.4h0M118.1 195.4h0M131.3 123.9h0M109.5 186.9h0M121.1 119.1h0M114.7 141.4h0M102.8 206.7h0M151.6 47.0h0M119.2 172.7h0M127.7 152.0h0M111.6 165.0h0M102.5 192.7h0M99.5 200.2h0M157.0 74.6h0M110.1 175.1h0M147.5 67.9h0M114.5 203.4h0M104.0 185.6h0M125.2 113.6h0M106.0 195.3h0M105.8 184.8h0M146.3 72.2h0M111.8 190.3h0M106.2 189.9h0M111.3 192.1h0M107.1 185.8h0M56.5 115.6h0M53.5 121.0h0M56.5 124.8h0M48.3 131.0h0M42.0 67.0h0M49.0 65.0h0" stroke="#111" stroke-width="0.80" stroke-linecap="round" fill="none"/>
<line x1="36.30" y1="30.40" x2="167.70" y2="30.40" stroke="#555" stroke-width="1.40"/>
<line x1="36.30" y1="30.40" x2="36.30" y2="23.90" stroke="#333" stroke-width="1.00"/>
<line x1="83.70" y1="30.40" x2="83.70" y2="23.90" stroke="#333" stroke-width="1.00"/>
<line x1="96.30" y1="30.40" x2="96.30" y2="23.90" stroke="#333" stroke-width="1.00"/>
<line x1="167.70" y1="30.40" x2="167.70" y2="23.90" stroke="#333" stroke-width="1.00"/>
<line x1="36.30" y1="30.40" x2="36.30" y2="219.10" stroke="#231f20" stroke-width="1.10"/>
<line x1="167.70" y1="30.40" x2="167.70" y2="219.10" stroke="#231f20" stroke-width="1.10"/>
<line x1="36.30" y1="219.10" x2="167.70" y2="219.10" stroke="#231f20" stroke-width="1.10"/>
<line x1="34.10" y1="78.30" x2="36.30" y2="78.30" stroke="#231f20" stroke-width="1.00"/>
<text x="29.50" y="81.90" font-size="10.30" text-anchor="end" fill="#231f20">100</text>
<line x1="34.10" y1="144.40" x2="36.30" y2="144.40" stroke="#231f20" stroke-width="1.00"/>
<text x="29.00" y="148.00" font-size="10.30" text-anchor="end" fill="#231f20">50</text>
<line x1="34.10" y1="210.50" x2="36.30" y2="210.50" stroke="#231f20" stroke-width="1.00"/>
<text x="26.60" y="214.10" font-size="10.30" text-anchor="end" fill="#231f20">0</text>
<line x1="58.15" y1="219.10" x2="58.15" y2="220.90" stroke="#231f20" stroke-width="1.00"/>
<text x="57.65" y="233.78" font-size="10.80" text-anchor="middle" fill="#231f20">−5</text>
<line x1="89.80" y1="219.10" x2="89.80" y2="220.90" stroke="#231f20" stroke-width="1.00"/>
<text x="89.30" y="233.78" font-size="10.80" text-anchor="middle" fill="#231f20">0</text>
<line x1="121.45" y1="219.10" x2="121.45" y2="220.90" stroke="#231f20" stroke-width="1.00"/>
<text x="120.95" y="233.78" font-size="10.80" text-anchor="middle" fill="#231f20">5</text>
<line x1="153.10" y1="219.10" x2="153.10" y2="220.90" stroke="#231f20" stroke-width="1.00"/>
<text x="152.60" y="233.78" font-size="10.80" text-anchor="middle" fill="#231f20">10</text>
<text x="96.5" y="243.6" font-size="10.8" text-anchor="middle" fill="#231f20">log<tspan font-size="7" dy="2">2</tspan><tspan dy="-2"> (Fold change)</tspan></text>
<text transform="translate(9.4 112.7) rotate(-90)" x="0" y="0" font-size="10.8" text-anchor="middle" fill="#231f20">−log<tspan font-size="6.5" dy="1.5">10</tspan><tspan dy="-1.5"> (q values)</tspan></text>
<line x1="160.30" y1="60.50" x2="160.30" y2="68.10" stroke="#e0312f" stroke-width="0.60"/>
<line x1="132.50" y1="97.20" x2="149.20" y2="101.30" stroke="#2a57a5" stroke-width="0.60"/>
<line x1="114.10" y1="166.50" x2="127.50" y2="164.80" stroke="#e0312f" stroke-width="0.60"/>
<line x1="105.50" y1="189.50" x2="131.00" y2="189.50" stroke="#e0312f" stroke-width="0.60"/>
<line x1="98.00" y1="200.00" x2="102.50" y2="202.90" stroke="#2a57a5" stroke-width="0.60"/>
<text x="159.70" y="44.08" font-size="6.80" text-anchor="middle" fill="#e0312f">gVIII</text>
<circle cx="160.50" cy="44.80" r="1.00" fill="#e0312f" stroke="none" stroke-width="1.00"/>
<text x="147.70" y="50.88" font-size="6.80" text-anchor="middle" fill="#2a57a5">PA0718</text>
<circle cx="149.80" cy="44.40" r="1.00" fill="#2a57a5" stroke="none" stroke-width="1.00"/>
<text x="154.70" y="58.38" font-size="6.80" text-anchor="middle" fill="#e0312f">PA0719</text>
<text x="141.80" y="66.18" font-size="6.80" text-anchor="middle" fill="#e0312f">PA0720</text>
<circle cx="154.70" cy="64.70" r="1.00" fill="#e0312f" stroke="none" stroke-width="1.00"/>
<text x="154.70" y="74.78" font-size="6.80" text-anchor="middle" fill="#e0312f">PA0718</text>
<circle cx="160.00" cy="68.50" r="1.00" fill="#e0312f" stroke="none" stroke-width="1.00"/>
<text x="156.60" y="96.58" font-size="6.80" text-anchor="middle" fill="#e0312f">xisF6</text>
<circle cx="162.10" cy="97.70" r="1.00" fill="#e0312f" stroke="none" stroke-width="1.00"/>
<text x="125.20" y="98.18" font-size="6.80" text-anchor="middle" fill="#2a57a5">PA0717</text>
<circle cx="149.20" cy="101.30" r="1.00" fill="#2a57a5" stroke="none" stroke-width="1.00"/>
<text x="140.60" y="107.68" font-size="6.80" text-anchor="middle" fill="#e0312f">PA0717</text>
<circle cx="152.90" cy="103.80" r="1.00" fill="#e0312f" stroke="none" stroke-width="1.00"/>
<text x="152.90" y="115.78" font-size="6.80" text-anchor="middle" fill="#2a57a5">PA0720</text>
<circle cx="151.40" cy="109.70" r="1.00" fill="#2a57a5" stroke="none" stroke-width="1.00"/>
<text x="156.00" y="122.78" font-size="6.80" text-anchor="middle" fill="#2a57a5">PA0719</text>
<circle cx="152.30" cy="116.10" r="1.00" fill="#2a57a5" stroke="none" stroke-width="1.00"/>
<text x="143.70" y="130.78" font-size="6.80" text-anchor="middle" fill="#2a57a5">pIII</text>
<circle cx="149.20" cy="129.20" r="1.00" fill="#2a57a5" stroke="none" stroke-width="1.00"/>
<text x="157.80" y="135.08" font-size="6.80" text-anchor="middle" fill="#2a57a5">xisF4</text>
<circle cx="154.70" cy="128.60" r="1.00" fill="#2a57a5" stroke="none" stroke-width="1.00"/>
<text x="133.80" y="138.38" font-size="6.80" text-anchor="middle" fill="#2a57a5">repF4</text>
<circle cx="135.00" cy="139.90" r="1.00" fill="#2a57a5" stroke="none" stroke-width="1.00"/>
<text x="152.30" y="142.08" font-size="6.80" text-anchor="middle" fill="#e0312f">gIII</text>
<circle cx="146.10" cy="142.10" r="1.00" fill="#e0312f" stroke="none" stroke-width="1.00"/>
<text x="125.80" y="145.98" font-size="6.80" text-anchor="middle" fill="#e0312f">repF6</text>
<circle cx="133.20" cy="146.40" r="1.00" fill="#e0312f" stroke="none" stroke-width="1.00"/>
<text x="152.30" y="149.18" font-size="6.80" text-anchor="middle" fill="#2a57a5">PA0726</text>
<circle cx="142.80" cy="141.50" r="1.00" fill="#2a57a5" stroke="none" stroke-width="1.00"/>
<text x="130.80" y="159.08" font-size="6.80" text-anchor="middle" fill="#2a57a5">intF4</text>
<circle cx="130.80" cy="152.60" r="1.00" fill="#2a57a5" stroke="none" stroke-width="1.00"/>
<text x="153.10" y="158.68" font-size="6.80" text-anchor="middle" fill="#e0312f">PA0726</text>
<circle cx="144.00" cy="152.20" r="1.00" fill="#e0312f" stroke="none" stroke-width="1.00"/>
<text x="103.40" y="165.58" font-size="6.80" text-anchor="middle" fill="#2a57a5">pfiT</text>
<circle cx="109.20" cy="163.70" r="1.00" fill="#2a57a5" stroke="none" stroke-width="1.00"/>
<text x="133.80" y="166.88" font-size="6.80" text-anchor="middle" fill="#e0312f">pfkB</text>
<circle cx="114.10" cy="166.50" r="1.00" fill="#e0312f" stroke="none" stroke-width="1.00"/>
<text x="157.60" y="172.18" font-size="6.80" text-anchor="middle" fill="#2a57a5">gVIII</text>
<circle cx="154.10" cy="164.90" r="1.00" fill="#2a57a5" stroke="none" stroke-width="1.00"/>
<text x="129.50" y="176.48" font-size="6.80" text-anchor="middle" fill="#e0312f">intF6</text>
<circle cx="121.20" cy="176.00" r="1.00" fill="#e0312f" stroke="none" stroke-width="1.00"/>
<text x="99.60" y="178.68" font-size="6.80" text-anchor="middle" fill="#2a57a5">pfiA</text>
<circle cx="108.40" cy="179.00" r="1.00" fill="#2a57a5" stroke="none" stroke-width="1.00"/>
<text x="152.30" y="185.38" font-size="6.80" text-anchor="middle" fill="#e0312f">PA0726.1</text>
<circle cx="147.40" cy="187.00" r="1.00" fill="#e0312f" stroke="none" stroke-width="1.00"/>
<text x="94.40" y="190.98" font-size="6.80" text-anchor="middle" fill="#e0312f">pfpC</text>
<circle cx="105.50" cy="189.50" r="1.00" fill="#e0312f" stroke="none" stroke-width="1.00"/>
<text x="137.50" y="191.88" font-size="6.80" text-anchor="middle" fill="#e0312f">pf6r</text>
<text x="134.40" y="198.68" font-size="6.80" text-anchor="middle" fill="#e0312f">gVI</text>
<circle cx="136.90" cy="199.30" r="1.00" fill="#e0312f" stroke="none" stroke-width="1.00"/>
<text x="147.40" y="201.08" font-size="6.80" text-anchor="middle" fill="#2a57a5">gVII</text>
<circle cx="139.70" cy="200.60" r="1.00" fill="#2a57a5" stroke="none" stroke-width="1.00"/>
<text x="90.50" y="200.98" font-size="6.80" text-anchor="middle" fill="#2a57a5">pf4r</text>
<circle cx="102.50" cy="202.90" r="1.00" fill="#2a57a5" stroke="none" stroke-width="1.00"/>
<text x="126.40" y="205.98" font-size="6.80" text-anchor="middle" fill="#e0312f">gVII</text>
<circle cx="128.30" cy="206.70" r="1.00" fill="#e0312f" stroke="none" stroke-width="1.00"/>
<text x="144.50" y="210.68" font-size="6.80" text-anchor="middle" fill="#2a57a5">PA0726.1</text>
<circle cx="119.70" cy="206.70" r="1.00" fill="#2a57a5" stroke="none" stroke-width="1.00"/>
<text x="124.60" y="216.48" font-size="6.80" text-anchor="middle" fill="#2a57a5">gVI</text>
<circle cx="120.50" cy="209.50" r="1.00" fill="#2a57a5" stroke="none" stroke-width="1.00"/>
<text x="274.80" y="10.57" font-size="10.20" text-anchor="middle" fill="#231f20">PAO1 biofilm/planktonic</text>
<text x="270.60" y="20.04" font-size="8.70" text-anchor="middle" fill="#231f20">NS(3578)</text>
<text x="237.40" y="27.96" font-size="7.90" text-anchor="middle" fill="#231f20">Down (1181)</text>
<text x="307.50" y="28.00" font-size="8.00" text-anchor="middle" fill="#231f20">Up (1237)</text>
<line x1="261.20" y1="32.10" x2="261.20" y2="217.80" stroke="#bdbdbd" stroke-width="1.90" stroke-dasharray="7.5 3.2 1.5 3.2"/>
<line x1="273.60" y1="32.10" x2="273.60" y2="217.80" stroke="#bdbdbd" stroke-width="1.90" stroke-dasharray="7.5 3.2 1.5 3.2"/>
<line x1="267.00" y1="210.30" x2="342.00" y2="210.30" stroke="#bdbdbd" stroke-width="1.90" stroke-dasharray="7.5 3.2 1.5 3.2"/>
<path d="M270.0 210.0h0M268.2 209.2h0M270.9 210.0h0M265.3 209.2h0M268.6 210.3h0M265.8 209.7h0M261.3 208.6h0M266.9 210.0h0M263.6 210.4h0M265.4 210.7h0M273.5 208.9h0M267.4 209.5h0M269.5 210.2h0M268.1 209.9h0M264.7 210.0h0M271.3 210.0h0M273.1 208.8h0M263.5 209.7h0M265.1 209.2h0M267.9 210.9h0M267.5 210.0h0M265.9 209.9h0M266.8 210.6h0M268.5 210.3h0M268.9 210.1h0M268.5 210.4h0M263.2 210.7h0M270.6 209.9h0M273.2 208.7h0M272.1 210.2h0M269.2 210.5h0M266.0 210.2h0M266.8 209.9h0M264.0 209.6h0M261.5 208.7h0M264.2 209.9h0M261.4 209.1h0M267.7 209.9h0M268.6 210.8h0M271.5 209.8h0M264.3 209.2h0M268.4 209.6h0M265.8 209.3h0M266.8 210.1h0M270.6 209.8h0M266.8 209.3h0M263.1 209.6h0M268.4 210.5h0M262.0 209.0h0M268.1 210.5h0M263.8 209.7h0M265.8 209.9h0M270.8 210.0h0M273.3 208.6h0M272.4 208.9h0M263.7 209.4h0M270.0 210.6h0M264.1 210.0h0M263.6 209.2h0M261.9 208.7h0" stroke="#666" stroke-width="0.90" stroke-linecap="round" fill="none"/>
<path d="M262.9 209.6h0M265.9 209.5h0M268.7 206.0h0M265.3 208.7h0M264.1 206.6h0M273.5 207.5h0M269.2 208.0h0M273.4 207.0h0M261.4 208.9h0M269.7 209.8h0M262.4 206.8h0M266.9 207.3h0M262.6 206.6h0M261.5 207.9h0M262.7 206.1h0M262.2 209.2h0M269.1 207.6h0M271.1 206.2h0M266.2 210.2h0M261.7 206.7h0M267.0 207.6h0M261.8 209.8h0M270.9 208.6h0M266.2 208.5h0M267.3 208.6h0M265.0 209.7h0M267.5 207.1h0M268.3 209.5h0M267.2 207.5h0M267.8 209.1h0" stroke="#a0a0a0" stroke-width="1.00" stroke-linecap="round" fill="none"/>
<path d="M248.1 166.2h0M252.0 209.8h0M260.0 210.6h0M254.6 200.2h0M242.1 160.1h0M251.9 175.8h0M254.2 204.6h0M251.7 204.5h0M255.3 209.3h0M253.7 206.0h0M252.4 197.5h0M253.1 209.5h0M252.2 203.6h0M255.0 208.7h0M246.9 205.9h0M259.2 204.2h0M254.6 199.6h0M253.6 207.8h0M260.4 205.9h0M251.7 185.1h0M248.7 181.0h0M258.0 206.3h0M246.8 176.1h0M257.7 197.4h0M257.5 199.5h0M251.9 182.9h0M259.2 198.8h0M256.4 201.9h0M259.2 209.1h0M256.1 186.6h0M242.3 169.6h0M258.9 198.4h0M257.7 206.6h0M245.7 162.7h0M250.3 204.3h0M254.5 186.3h0M254.1 207.8h0M259.7 208.2h0M245.8 209.3h0M260.0 208.2h0M256.8 199.4h0M256.3 196.5h0M255.0 203.9h0M256.6 208.2h0M248.9 182.5h0M253.9 187.7h0M257.2 205.1h0M258.0 197.6h0M249.2 205.6h0M244.9 172.9h0M253.1 182.2h0M259.9 209.3h0M258.8 205.0h0M259.6 208.2h0M262.5 209.0h0M255.2 186.3h0M245.8 184.7h0M261.1 207.4h0M254.1 208.6h0M255.5 193.6h0M251.2 178.9h0M257.3 210.1h0M255.0 195.9h0M260.0 205.0h0M258.9 199.9h0M256.6 199.0h0M257.3 199.1h0M254.9 187.2h0M257.0 204.2h0M242.9 169.3h0M259.1 206.6h0M253.1 179.0h0M252.5 185.2h0M253.4 191.8h0M259.1 207.4h0M258.1 204.4h0M253.1 194.0h0M252.5 205.5h0M248.9 178.6h0M256.2 208.8h0M233.1 209.4h0M238.5 207.8h0M257.1 190.1h0M259.7 206.9h0M249.5 207.8h0M259.4 205.6h0M252.1 203.2h0M259.2 198.7h0M252.5 208.6h0M248.5 206.9h0M255.7 192.6h0M251.8 200.8h0M253.5 193.1h0M249.7 193.7h0M246.4 202.7h0M255.1 193.5h0M258.5 209.2h0M251.9 202.9h0M251.3 176.7h0M258.2 199.4h0M254.6 208.3h0M256.4 204.5h0M251.3 176.7h0M251.6 190.7h0M253.2 196.7h0M254.9 190.6h0M256.8 187.5h0M253.5 188.8h0M246.6 208.4h0M260.0 208.0h0M252.0 177.3h0M252.1 208.1h0M249.0 167.5h0M257.7 194.9h0M259.0 208.3h0M258.2 199.0h0M254.8 193.1h0M258.5 203.5h0M251.3 207.7h0M236.3 208.0h0M255.3 191.5h0M257.3 198.5h0M256.1 202.7h0M256.1 189.7h0M255.6 191.9h0M251.8 207.3h0M240.2 210.2h0M243.3 164.8h0M252.3 201.5h0M257.9 194.7h0M258.6 198.5h0M251.8 198.2h0M247.3 161.4h0M257.3 201.0h0M248.5 207.9h0M254.8 198.9h0M256.2 201.4h0M253.0 184.7h0M235.8 200.5h0M256.8 205.1h0M254.3 198.2h0M253.1 189.5h0M257.6 198.8h0M260.0 207.9h0M257.6 202.5h0M261.6 205.7h0M255.3 190.9h0M257.4 209.7h0M253.2 192.2h0M258.1 199.0h0M256.9 207.2h0M247.3 164.1h0M260.8 208.7h0M251.0 179.3h0M255.7 202.6h0M249.6 171.0h0M247.2 182.7h0M244.7 155.5h0M252.2 206.9h0M257.6 197.8h0M243.9 171.2h0M253.9 198.9h0M255.3 195.7h0M261.3 203.9h0M255.4 200.9h0M253.3 182.2h0M257.1 197.8h0M244.3 208.9h0M249.6 168.9h0M256.2 189.4h0M253.5 189.6h0M252.9 205.6h0M255.3 189.9h0M247.8 201.2h0M260.5 204.9h0M240.1 193.1h0M249.2 190.8h0M259.4 208.6h0M257.8 202.5h0M253.9 208.7h0M258.8 202.8h0M259.7 209.3h0M245.0 199.3h0M250.3 178.6h0M248.1 199.2h0M251.7 193.4h0M242.9 205.5h0M250.5 188.6h0M252.6 208.7h0M257.9 203.3h0M255.3 193.6h0M258.1 200.6h0M241.0 202.6h0M259.6 199.7h0M240.3 202.8h0M257.1 196.9h0M256.7 203.9h0M256.4 204.7h0M253.0 189.3h0M259.1 200.5h0M252.3 181.9h0M251.9 183.5h0M253.2 203.4h0M256.8 209.3h0M244.2 204.6h0M256.0 203.3h0M261.1 204.7h0M259.7 210.3h0M242.0 201.2h0M252.9 187.0h0M252.4 178.3h0M253.0 175.2h0M252.1 196.8h0M226.2 205.4h0M251.1 195.4h0M233.4 158.1h0M252.8 201.4h0M253.8 184.9h0M252.1 187.0h0M253.7 185.3h0M257.4 203.7h0M241.9 210.8h0M252.0 209.4h0M251.1 193.3h0M250.6 188.1h0M252.8 199.4h0M253.4 189.8h0M246.0 192.6h0M253.2 187.3h0M248.1 197.1h0M220.8 209.9h0M256.3 190.9h0M254.3 209.2h0M257.5 205.9h0M253.6 198.6h0M245.0 160.8h0M257.2 195.7h0M253.6 192.6h0M257.9 195.3h0M247.6 175.6h0M248.9 175.8h0M255.6 191.1h0M249.2 203.1h0M255.7 210.4h0M248.8 194.6h0M257.9 202.7h0M251.4 181.2h0M255.5 207.8h0M258.8 206.7h0M250.7 189.5h0M255.4 204.4h0M250.0 197.0h0M257.7 211.0h0M252.5 175.3h0M250.6 195.0h0M259.7 208.5h0M255.5 210.1h0M248.0 168.4h0M256.0 194.4h0M260.7 208.8h0M243.5 209.5h0M256.2 193.0h0M243.3 208.2h0M254.6 188.8h0M251.0 193.7h0M241.0 204.2h0M257.9 203.4h0M256.9 203.8h0M259.8 204.4h0M252.8 200.6h0M257.3 206.6h0M252.3 177.6h0M244.5 201.3h0M248.2 208.6h0M253.5 204.7h0M254.4 199.8h0M258.6 205.7h0M249.8 168.7h0M260.5 208.1h0M251.5 208.5h0M257.9 203.6h0M252.0 198.2h0M255.3 192.2h0M251.8 198.4h0M254.0 202.0h0M249.9 190.0h0M253.7 209.3h0M259.3 206.9h0M258.1 198.0h0M258.0 199.0h0M256.4 207.6h0M260.0 207.5h0M254.1 209.4h0M254.9 187.9h0M251.9 192.2h0M256.8 200.5h0M259.3 206.3h0M240.8 170.3h0M255.3 192.4h0M240.8 205.7h0M259.4 206.8h0M250.4 186.6h0M246.0 202.7h0M246.1 169.6h0M252.6 195.2h0M255.6 207.3h0M226.4 209.0h0M254.3 190.1h0M258.2 197.1h0M255.0 209.5h0M251.3 186.2h0M260.9 209.1h0M244.1 207.2h0M244.2 204.7h0M256.5 205.6h0M248.6 167.2h0M259.1 209.8h0M250.7 194.5h0M252.8 182.7h0M242.0 159.2h0M258.8 210.3h0M249.2 189.2h0M250.4 175.2h0M254.9 185.1h0M259.4 203.1h0M257.9 201.6h0M254.2 191.2h0M254.7 195.1h0M256.2 198.1h0M253.2 182.9h0M250.6 179.2h0M250.6 202.2h0M257.8 201.0h0M261.0 209.5h0M255.7 205.0h0M236.3 188.2h0M253.9 198.0h0M260.7 208.4h0M255.4 187.2h0M250.5 203.5h0M248.0 192.8h0M226.6 206.9h0M256.8 209.7h0M252.4 183.4h0M256.4 189.0h0M252.8 188.4h0M243.8 165.7h0M243.2 206.1h0M252.9 198.4h0M250.8 202.6h0M256.2 202.6h0M259.9 208.2h0M252.6 197.2h0M257.2 198.4h0M258.7 210.6h0M249.3 196.1h0M253.8 185.3h0M247.2 168.3h0M250.0 183.3h0M255.6 196.3h0M249.2 190.5h0M259.5 210.4h0M254.1 184.7h0M259.3 201.7h0M259.6 206.0h0M256.8 201.7h0M256.6 203.3h0M254.8 189.4h0M254.3 197.7h0M257.7 204.0h0M249.2 175.4h0M258.6 201.5h0M253.2 209.8h0M251.8 188.9h0M257.1 198.0h0M252.6 193.2h0M253.7 208.2h0M252.4 205.2h0M257.2 192.1h0M251.5 185.5h0M252.7 201.9h0M256.8 201.9h0M260.1 209.6h0M251.2 180.0h0M258.2 202.6h0M245.1 193.6h0M257.3 208.7h0M255.4 200.4h0M255.0 195.6h0M253.2 177.7h0M258.0 203.9h0M253.5 195.9h0M257.8 207.5h0M255.5 198.5h0M226.3 204.8h0M248.9 203.6h0M256.1 203.3h0M243.7 206.1h0M246.8 197.3h0M255.0 192.9h0M255.4 208.5h0M258.9 204.9h0M248.2 167.3h0M254.8 204.3h0M248.9 201.6h0M250.1 183.1h0M254.2 209.6h0M257.9 202.7h0M257.0 209.6h0M259.1 201.8h0M250.4 176.9h0M253.1 197.7h0M257.7 205.1h0M258.5 207.8h0M257.8 190.2h0M255.8 197.6h0M258.2 202.3h0M253.8 199.6h0M252.7 183.3h0M251.7 189.0h0M253.4 198.8h0M253.2 207.0h0M248.0 209.5h0M254.1 207.1h0M253.5 191.1h0M249.4 200.8h0M259.4 204.5h0M256.4 196.9h0M257.5 190.9h0M252.6 209.4h0M255.1 199.4h0M254.0 183.5h0M255.5 191.6h0M258.9 201.7h0M240.9 165.1h0M255.2 202.1h0M242.8 203.1h0M257.1 206.5h0M253.6 190.8h0M247.5 206.7h0M252.3 208.3h0M254.8 200.1h0M257.1 205.6h0M253.2 189.3h0M251.0 176.2h0M257.9 206.6h0M241.6 178.6h0M257.8 204.0h0M253.8 194.4h0M255.3 190.0h0M259.9 207.6h0M252.0 187.6h0M259.9 209.9h0M247.6 178.3h0M251.4 202.1h0M255.4 200.7h0M256.1 199.5h0M256.7 203.7h0M247.3 198.6h0M253.8 206.2h0M260.5 204.5h0M252.8 182.3h0M258.7 198.2h0M252.5 205.9h0M255.0 190.3h0M254.5 195.9h0M245.0 208.8h0M252.8 193.9h0M255.1 202.8h0M257.8 207.9h0M250.3 171.6h0M258.6 205.8h0M254.9 191.4h0M255.0 191.7h0M259.4 210.4h0M248.7 168.9h0M252.5 203.1h0M250.6 173.4h0M253.3 194.0h0M259.9 206.1h0M250.0 188.3h0M258.2 201.3h0M254.5 191.9h0M255.8 206.2h0M259.5 208.1h0M260.8 206.8h0M250.9 171.1h0M249.3 202.1h0M247.4 206.2h0M257.3 207.0h0M255.7 206.8h0M258.0 206.7h0M255.8 187.6h0M253.1 197.5h0M252.6 197.9h0M249.5 172.5h0M255.1 200.5h0M256.3 198.9h0M254.7 207.1h0M252.9 177.0h0M249.0 180.1h0M255.6 198.0h0M256.3 191.9h0M247.8 166.7h0M259.1 198.7h0M252.4 191.5h0M259.1 207.1h0M246.1 163.9h0M257.4 192.3h0M257.8 209.1h0M254.2 203.1h0M255.2 197.4h0M252.3 205.3h0M256.8 204.1h0M258.3 198.3h0M254.2 184.8h0M245.2 202.2h0M255.1 209.0h0M247.2 156.6h0M245.5 164.1h0M216.9 110.6h0M246.7 176.8h0M254.5 202.8h0M232.7 119.9h0M228.2 211.1h0M216.2 78.8h0M246.7 192.9h0M254.9 197.1h0M257.0 201.3h0M237.0 126.4h0M252.3 179.0h0M252.8 184.4h0M214.1 138.4h0M215.2 67.3h0M237.3 148.7h0M252.9 179.4h0M249.5 190.9h0M242.8 174.0h0M222.7 89.2h0M239.8 168.2h0M254.7 190.8h0M257.0 205.7h0M220.6 195.7h0M245.3 179.8h0M237.7 142.3h0M255.5 202.2h0M258.9 208.0h0M239.2 153.1h0M235.7 146.9h0M256.8 198.0h0M258.2 209.2h0M224.6 104.0h0M247.3 165.0h0M257.2 206.8h0M247.9 171.8h0M235.4 121.7h0M259.0 208.2h0M250.4 182.4h0M245.3 188.2h0M248.1 187.1h0M219.7 103.6h0M244.8 183.1h0M231.2 162.9h0M246.5 177.9h0M248.7 187.6h0M239.0 176.9h0M252.5 201.6h0M238.7 164.7h0M234.9 209.2h0M245.9 160.9h0M249.9 168.8h0M254.6 197.0h0M233.7 122.9h0M232.8 121.9h0M230.8 190.1h0M244.3 180.0h0M240.4 167.0h0M235.5 188.8h0M227.5 166.1h0M236.6 203.8h0M236.3 146.4h0M220.7 193.9h0M253.3 188.7h0M254.5 192.3h0M229.8 140.6h0M252.5 186.7h0M253.4 192.9h0M233.1 200.2h0M225.3 150.2h0M232.7 144.7h0M248.7 209.9h0M251.2 185.9h0M256.2 206.7h0M229.6 152.0h0M216.9 76.0h0M235.8 150.1h0M256.4 206.5h0M256.1 197.9h0M235.5 156.7h0M234.4 150.9h0M251.8 184.7h0M226.1 196.0h0M236.1 163.3h0M245.7 169.3h0M252.5 198.2h0M233.4 190.9h0M249.0 197.3h0M241.3 174.1h0M247.7 170.6h0M243.8 202.4h0M242.5 200.2h0M248.4 173.5h0M258.6 200.7h0M250.4 189.1h0M250.6 190.6h0M249.4 190.0h0M247.7 169.9h0M234.8 173.0h0M253.5 189.4h0M213.8 171.5h0M220.8 111.6h0M249.7 193.7h0M249.1 187.0h0M245.1 196.7h0M247.4 179.6h0M240.8 179.0h0M253.2 190.6h0M235.8 147.9h0M246.4 186.3h0M222.2 74.2h0M239.8 144.6h0M227.4 161.7h0M236.9 179.8h0M253.4 199.9h0M254.0 195.4h0M251.7 202.3h0M238.1 169.8h0M235.4 179.9h0M230.9 158.9h0M259.5 206.0h0M248.0 169.9h0M241.0 151.3h0M221.3 95.1h0M226.1 123.5h0M250.8 209.7h0M257.5 205.4h0M257.3 208.3h0M245.2 175.4h0M247.9 193.9h0M253.4 210.7h0M248.6 201.5h0M240.4 150.8h0M244.8 178.1h0M216.8 66.5h0M243.1 173.8h0M256.8 195.4h0M222.4 115.5h0M228.6 209.2h0M255.0 186.9h0M242.0 182.1h0M241.0 165.1h0M253.1 208.7h0M247.0 198.6h0M226.4 156.9h0M251.1 207.4h0M253.6 190.6h0M228.7 110.5h0M242.9 157.9h0M222.3 145.9h0M242.4 210.0h0M256.5 196.7h0M229.0 163.4h0M234.7 159.8h0M225.6 191.7h0M217.4 206.3h0M259.1 208.8h0M225.6 202.6h0M257.2 192.7h0M230.6 117.6h0M232.5 117.5h0M216.0 183.5h0M239.9 180.0h0M245.8 174.1h0M222.6 143.3h0M235.3 168.4h0M253.6 188.9h0M231.4 137.3h0M257.7 201.5h0M253.8 193.8h0M244.7 172.8h0M254.5 203.3h0M246.4 182.9h0M251.2 205.6h0M258.6 204.6h0M258.0 209.5h0M249.2 205.4h0M238.0 143.9h0M230.0 141.9h0M252.9 203.9h0M249.8 167.7h0M246.2 187.0h0M215.4 151.3h0M243.7 156.7h0M233.1 159.6h0M255.3 194.6h0M242.4 182.9h0M228.0 170.0h0M238.2 162.2h0M236.8 122.6h0M257.9 209.1h0M244.1 199.8h0M245.6 204.8h0M257.1 199.2h0M254.5 189.6h0M276.5 203.7h0M292.7 170.6h0M280.5 186.8h0M276.3 193.9h0M285.7 182.9h0M302.5 205.6h0M293.6 207.5h0M289.4 205.4h0M278.9 196.4h0M298.8 206.1h0M292.2 209.6h0M277.1 207.9h0M287.1 167.8h0M278.5 194.2h0M285.3 172.0h0M285.6 175.8h0M275.2 209.5h0M279.4 183.5h0M276.2 198.1h0M310.3 208.0h0M281.0 206.7h0M290.9 199.9h0M277.2 201.3h0M288.4 167.2h0M276.0 210.1h0M286.9 210.8h0M274.0 208.3h0M286.0 179.4h0M284.1 198.6h0M282.8 210.2h0M286.6 208.7h0M282.0 181.3h0M281.3 190.6h0M278.9 198.4h0M274.0 203.5h0M285.3 208.3h0M279.0 195.3h0M277.9 209.8h0M283.3 191.4h0M273.9 207.0h0M283.1 208.3h0M284.6 185.9h0M276.9 199.1h0M277.8 209.7h0M287.7 200.6h0M280.2 189.0h0M274.7 209.6h0M291.5 210.4h0M278.6 210.6h0M276.4 205.0h0M295.6 209.1h0M278.0 210.0h0M275.7 201.8h0M279.5 203.9h0M288.5 189.8h0M280.0 192.6h0M278.9 203.6h0M275.2 202.1h0M306.7 208.0h0M278.6 200.8h0M277.9 207.7h0M277.0 195.4h0M275.3 204.0h0M285.0 202.3h0M274.9 204.8h0M279.9 192.2h0M287.4 206.9h0M275.4 199.3h0M280.5 188.3h0M287.6 195.4h0M278.0 206.5h0M279.8 209.8h0M287.4 210.0h0M281.1 207.5h0M275.8 205.4h0M279.3 208.0h0M284.3 204.9h0M278.4 197.9h0M278.7 208.3h0M280.4 205.5h0M279.7 191.3h0M283.6 206.9h0M287.6 204.2h0M275.8 203.6h0M281.6 182.7h0M292.4 196.4h0M289.5 204.8h0M290.8 183.4h0M277.7 207.8h0M275.6 203.3h0M279.3 205.1h0M285.6 181.2h0M280.3 202.3h0M284.5 188.0h0M280.1 200.7h0M273.9 199.8h0M280.8 188.7h0M280.6 190.3h0M278.3 208.6h0M290.1 203.4h0M293.3 201.6h0M277.1 196.0h0M277.7 191.2h0M306.2 198.5h0M283.2 201.2h0M282.6 178.8h0M277.4 207.6h0M279.4 197.3h0M274.3 208.3h0M287.3 197.5h0M279.5 198.7h0M275.7 206.0h0M282.6 207.4h0M280.0 206.7h0M276.8 194.2h0M276.5 209.6h0M281.6 209.8h0M278.9 188.0h0M290.8 184.2h0M289.1 201.4h0M281.1 178.8h0M294.2 210.7h0M287.3 172.5h0M301.1 207.7h0M286.7 204.0h0M283.2 182.7h0M281.8 176.8h0M284.1 202.5h0M283.4 189.7h0M289.0 202.3h0M284.6 193.4h0M287.7 206.5h0M277.0 195.7h0M275.0 199.7h0M276.6 199.3h0M279.6 205.3h0M277.8 194.9h0M275.1 197.9h0M278.5 207.0h0M276.3 195.8h0M281.2 204.9h0M289.7 202.2h0M277.2 197.9h0M290.8 194.0h0M284.0 198.3h0M284.4 207.1h0M277.5 205.7h0M281.1 203.8h0M280.1 179.1h0M278.5 197.0h0M292.0 175.2h0M284.4 175.5h0M277.0 210.7h0M282.3 185.7h0M279.1 204.6h0M282.8 175.4h0M274.7 203.5h0M285.3 208.4h0M274.4 207.7h0M274.5 210.4h0M278.6 207.6h0M281.5 208.9h0M278.7 188.3h0M296.5 200.9h0M276.0 197.3h0M285.1 196.7h0M289.8 205.5h0M277.1 208.3h0M278.4 202.0h0M299.9 208.0h0M287.2 201.8h0M292.9 169.2h0M283.8 199.4h0M278.4 209.0h0M276.8 203.1h0M277.7 199.4h0M291.1 210.2h0M277.6 195.8h0M278.4 207.8h0M278.5 200.6h0M275.7 204.6h0M277.8 203.3h0M278.7 203.1h0M281.1 210.5h0M277.9 206.5h0M280.6 208.6h0M281.1 196.2h0M282.3 182.9h0M278.3 207.6h0M282.9 180.4h0M278.7 201.0h0M279.9 210.6h0M290.9 209.4h0M281.6 206.0h0M277.7 194.9h0M286.9 174.1h0M293.5 167.3h0M280.6 202.2h0M287.0 185.3h0M281.6 205.6h0M278.0 206.9h0M288.3 171.8h0M274.5 208.5h0M282.7 176.9h0M276.3 208.2h0M277.0 201.3h0M277.3 206.6h0M278.8 207.9h0M284.1 191.2h0M295.2 209.1h0M277.2 205.6h0M278.4 192.5h0M282.4 188.7h0M278.4 209.1h0M280.3 194.0h0M282.6 208.2h0M281.1 206.8h0M283.1 182.5h0M280.9 204.9h0M299.0 207.4h0M279.7 202.3h0M282.2 205.7h0M273.7 205.0h0M281.6 208.9h0M279.6 206.6h0M280.3 201.4h0M314.8 210.3h0M282.7 175.9h0M277.3 195.2h0M275.0 198.9h0M292.1 207.3h0M283.9 178.5h0M282.4 192.4h0M281.8 181.7h0M280.5 183.1h0M305.5 208.5h0M275.5 207.7h0M283.6 199.1h0M280.7 208.9h0M279.9 200.9h0M284.6 189.5h0M303.2 210.0h0M273.2 202.1h0M285.5 183.6h0M278.4 205.3h0M280.7 206.5h0M276.5 201.7h0M279.6 205.8h0M297.4 208.9h0M284.4 180.7h0M274.1 210.3h0M299.0 208.9h0M279.1 191.1h0M290.5 200.7h0M280.7 198.3h0M281.8 207.4h0M276.1 197.6h0M275.1 207.4h0M284.6 194.3h0M289.5 207.8h0M277.4 206.8h0M305.3 206.6h0M281.3 197.1h0M293.1 200.2h0M277.4 202.4h0M275.6 203.0h0M273.8 207.6h0M277.5 199.5h0M276.2 200.4h0M279.8 198.6h0M283.3 178.3h0M279.6 192.8h0M279.5 200.5h0M279.9 204.0h0M281.8 203.0h0M283.3 185.3h0M275.0 197.8h0M293.4 204.0h0M283.4 197.1h0M278.7 209.2h0M276.5 194.3h0M276.1 209.2h0M280.8 186.3h0M286.7 207.9h0M292.0 206.2h0M311.5 209.6h0M280.5 203.3h0M291.2 207.3h0M293.3 205.8h0M277.5 199.7h0M290.5 208.8h0M275.7 209.5h0M278.4 196.4h0M280.4 184.9h0M304.3 207.9h0M276.1 203.9h0M275.2 209.6h0M276.0 207.8h0M278.4 195.0h0M276.8 205.3h0M297.8 204.4h0M276.4 198.6h0M285.1 188.2h0M275.5 208.3h0M278.4 188.5h0M282.3 201.7h0M275.3 208.5h0M291.2 200.7h0M278.6 193.9h0M278.4 202.1h0M285.8 188.3h0M279.9 206.3h0M281.8 192.8h0M277.7 206.7h0M283.9 186.5h0M291.0 194.1h0M277.6 189.5h0M277.6 192.2h0M288.0 200.1h0M277.3 200.9h0M292.7 208.6h0M283.9 173.3h0M274.0 202.0h0M277.4 199.0h0M278.8 195.8h0M275.9 204.0h0M278.3 196.3h0M283.3 202.2h0M285.4 208.8h0M291.3 210.3h0M297.7 206.8h0M282.4 185.9h0M275.0 206.7h0M279.2 194.7h0M283.3 207.0h0M289.2 206.5h0M296.8 208.5h0M281.7 209.3h0M286.9 179.5h0M286.2 190.4h0M281.9 202.9h0M283.6 170.5h0M278.1 189.0h0M288.8 209.2h0M278.8 195.1h0M285.5 206.8h0M281.0 188.7h0M275.4 205.1h0M277.4 188.3h0M280.5 207.1h0M284.4 177.5h0M278.5 205.2h0M279.7 195.2h0M281.7 185.4h0M286.9 208.2h0M273.4 205.7h0M281.9 198.6h0M277.4 198.5h0M300.3 210.7h0M284.5 176.3h0M283.0 176.5h0M291.5 200.1h0M276.8 199.3h0M277.6 201.4h0M279.1 209.3h0M278.0 209.4h0M282.5 204.5h0M280.1 200.6h0M284.8 208.1h0M282.6 198.2h0M281.4 199.8h0M284.5 188.8h0M287.4 199.6h0M274.7 205.7h0M289.4 209.2h0M277.9 210.1h0M282.6 190.0h0M273.0 209.2h0M286.0 175.9h0M286.5 200.4h0M276.8 202.0h0M274.4 203.3h0M275.6 207.1h0M281.8 199.0h0M305.7 209.4h0M274.1 209.4h0M297.2 211.1h0M279.3 210.3h0M276.8 206.0h0M277.3 198.8h0M279.2 208.1h0M276.3 198.1h0M277.4 196.7h0M281.4 190.4h0M281.9 180.4h0M303.4 199.3h0M275.2 203.2h0M291.2 181.8h0M281.8 192.4h0M280.5 190.7h0M276.3 200.0h0M276.8 195.0h0M279.6 199.4h0M279.7 208.0h0M282.9 202.6h0M276.1 209.3h0M297.7 207.5h0M278.3 205.9h0M281.3 190.7h0M279.9 196.9h0M276.2 208.7h0M278.6 207.3h0M276.7 196.9h0M277.2 204.7h0M278.2 199.3h0M281.9 189.9h0M279.2 205.4h0M281.8 179.6h0M290.2 205.2h0M278.8 200.8h0M288.2 206.8h0M280.1 201.2h0M278.5 208.2h0M275.9 203.4h0M281.4 196.9h0M277.3 202.2h0M281.5 196.5h0M277.5 194.6h0M280.0 199.9h0M290.6 204.6h0M275.8 195.7h0M274.1 200.4h0M277.5 201.9h0M285.6 189.1h0M277.2 203.8h0M279.5 198.8h0M309.1 209.4h0M279.9 207.9h0M280.4 208.6h0M279.4 206.3h0M278.8 188.1h0M286.9 188.4h0M282.3 207.1h0M301.4 209.8h0M283.9 182.7h0M285.6 208.7h0M277.6 192.5h0M279.1 195.9h0M286.6 174.1h0M277.1 199.2h0M282.3 196.4h0M280.8 198.4h0M279.6 192.7h0M281.8 206.1h0M285.9 209.0h0M274.3 205.6h0M282.9 195.4h0M276.3 202.8h0M273.7 207.3h0M280.8 207.9h0M285.5 204.0h0M281.3 207.9h0M277.6 199.9h0M289.7 208.2h0M281.7 193.5h0M275.4 207.8h0M299.2 206.4h0M281.3 181.3h0M275.7 209.6h0M277.5 208.5h0M287.1 187.1h0M273.2 210.0h0M291.0 183.8h0M275.1 199.7h0M275.9 195.6h0M287.8 199.8h0M283.5 201.0h0M281.0 200.9h0M280.0 209.5h0M276.1 202.4h0M277.4 206.7h0M277.7 190.3h0M279.0 193.8h0M284.9 200.6h0M279.7 199.5h0M279.0 196.8h0M287.1 189.9h0M282.9 202.4h0M282.6 205.9h0M277.7 203.7h0M275.6 203.9h0M276.4 196.7h0M276.2 203.8h0M275.6 201.5h0M276.6 207.5h0M276.2 200.2h0M278.0 206.4h0M276.6 206.3h0M280.4 205.9h0M275.9 206.5h0M277.3 203.9h0M277.2 203.1h0M280.4 182.2h0M285.1 192.2h0M276.6 204.5h0M300.3 207.3h0M280.3 205.9h0M281.1 208.3h0M282.8 190.6h0M275.6 202.1h0M274.1 208.1h0M312.0 207.2h0M294.8 183.2h0M280.9 194.4h0M283.2 196.7h0M297.4 205.6h0M284.0 204.7h0M278.4 196.2h0M276.6 198.5h0M286.0 207.6h0M289.5 175.1h0M275.3 200.4h0M277.9 205.0h0M310.1 186.9h0M294.8 170.0h0M284.5 193.8h0M275.8 205.1h0M281.3 190.9h0M282.0 195.4h0M280.7 206.9h0M281.0 183.5h0M281.1 199.7h0M293.2 176.3h0M278.5 191.3h0M284.2 193.3h0M277.2 191.9h0M283.8 200.2h0M276.1 207.8h0M275.3 207.3h0M274.4 208.5h0M277.1 200.0h0M277.5 199.2h0M275.3 205.5h0M281.2 202.4h0M285.0 174.2h0M280.0 187.1h0M284.0 206.9h0M284.7 195.4h0M283.1 185.4h0M290.5 209.2h0M290.4 187.1h0M280.6 183.0h0M277.2 196.9h0M275.4 208.8h0M286.5 174.4h0M292.9 208.9h0M295.1 207.1h0M275.3 208.1h0M278.5 196.4h0M291.6 195.6h0M278.1 205.3h0M280.9 188.2h0M305.4 207.8h0M284.3 195.8h0M277.2 204.4h0M283.2 180.2h0M275.9 203.5h0M284.9 183.9h0M279.2 186.2h0M285.9 210.1h0M283.6 191.3h0M282.8 174.5h0M278.0 207.3h0M294.2 209.6h0M275.3 206.9h0M278.0 205.6h0M282.7 200.8h0M276.4 207.2h0M282.0 195.6h0M274.6 206.0h0M277.0 209.4h0M276.6 203.4h0M287.7 200.8h0M283.4 206.3h0M279.1 203.5h0M277.6 209.8h0M282.3 187.5h0M275.8 208.4h0M289.2 167.1h0M276.8 206.5h0M283.4 193.1h0M287.5 167.5h0M298.3 209.5h0M277.8 201.8h0M274.8 211.0h0M277.4 206.0h0M274.1 210.0h0M285.3 179.7h0M280.9 200.7h0M275.8 204.8h0M280.7 190.3h0M305.1 209.7h0M292.1 205.2h0M288.0 210.1h0M274.8 205.1h0M279.8 203.3h0M280.1 200.1h0M276.0 202.3h0M286.4 211.1h0M297.2 208.1h0M274.5 203.9h0M290.5 206.8h0M288.8 188.5h0M280.5 185.1h0M276.0 198.7h0M278.4 202.4h0M277.3 197.9h0M275.9 208.2h0M274.5 207.1h0M280.9 180.6h0M291.1 158.3h0M301.8 135.6h0M275.7 205.4h0M293.2 145.2h0M295.1 152.6h0M319.7 107.9h0M288.7 193.4h0M316.7 76.3h0M314.4 174.2h0M275.6 209.6h0M318.7 152.1h0M282.1 200.1h0M277.5 202.4h0M286.8 199.9h0M293.2 150.7h0M289.8 191.8h0M309.9 139.0h0M315.3 169.9h0M287.0 184.2h0M303.4 133.4h0M296.1 142.2h0M285.0 192.1h0M302.6 134.4h0M279.1 190.9h0M288.8 199.1h0M309.1 197.9h0M341.2 200.4h0M288.0 195.0h0M303.8 107.3h0M277.1 200.6h0M278.9 193.1h0M303.4 129.7h0M293.1 185.6h0M272.5 210.0h0M281.3 199.9h0M316.8 122.8h0M299.1 147.3h0M304.3 156.2h0M291.6 162.1h0M286.3 182.7h0M279.1 206.4h0M282.5 183.0h0M289.7 205.6h0M290.6 157.1h0M276.2 205.7h0M287.0 187.6h0M287.4 168.8h0M274.4 207.8h0M298.0 204.8h0M292.0 184.0h0M312.6 98.0h0M279.4 187.5h0M302.5 127.1h0M287.2 163.9h0M278.2 194.3h0M285.6 183.6h0M318.3 102.7h0M279.6 205.6h0M280.7 201.7h0M285.2 202.4h0M289.0 180.9h0M303.6 197.1h0M306.9 127.6h0M308.5 207.3h0M284.7 206.7h0M318.2 77.7h0M304.6 147.8h0M293.0 188.6h0M294.8 180.9h0M280.6 188.9h0M294.6 149.6h0M308.1 95.7h0M301.0 121.6h0M294.9 197.4h0M292.6 157.7h0M283.9 194.9h0M295.7 203.4h0M290.2 171.7h0M295.2 162.9h0M286.5 195.8h0M282.3 205.2h0M290.6 206.3h0M277.3 196.6h0M294.0 166.1h0M278.6 197.5h0M276.6 206.9h0M286.9 188.0h0M305.3 163.9h0M298.8 204.2h0M308.1 124.5h0M307.0 103.9h0M282.3 189.5h0M280.9 208.3h0M303.9 148.1h0M298.6 182.4h0M301.5 156.7h0M278.4 204.2h0M275.3 206.1h0M295.6 146.8h0M281.4 194.3h0M301.0 159.1h0M291.9 152.9h0M300.3 140.1h0M278.6 203.6h0M289.0 186.7h0M297.2 148.2h0M289.6 182.2h0M307.6 163.0h0M284.1 185.7h0M313.6 141.5h0M284.1 179.0h0M275.8 205.5h0M280.3 180.1h0M316.5 149.2h0M283.3 183.0h0M300.9 153.5h0M276.6 209.3h0M281.8 195.6h0M276.5 204.0h0M315.1 145.7h0M285.0 190.0h0M288.2 178.8h0M311.3 146.0h0M317.1 108.0h0M283.1 181.2h0M296.6 184.9h0M287.4 190.3h0M331.7 199.5h0M279.8 197.3h0M303.2 152.5h0M292.0 196.5h0M302.6 169.0h0M284.2 202.0h0M310.1 131.7h0M280.7 209.1h0M292.6 182.4h0M277.7 197.6h0M281.4 186.1h0M293.4 178.1h0M274.6 205.1h0M291.1 187.4h0M291.2 195.9h0M279.6 207.1h0M276.5 201.8h0M311.9 189.2h0M293.5 164.8h0M310.8 155.5h0M284.1 210.4h0M274.8 207.3h0M302.3 136.3h0M287.3 176.6h0M282.4 181.6h0M278.6 198.0h0M275.2 204.5h0M328.7 130.3h0M282.2 179.8h0M279.8 184.3h0M302.2 207.8h0M293.6 150.4h0M279.5 199.9h0M284.6 199.7h0M297.6 158.1h0M306.4 195.4h0M291.1 173.7h0M286.5 162.8h0M299.5 207.9h0M317.6 92.8h0M278.3 205.0h0M276.9 207.9h0M312.6 150.0h0M285.4 170.4h0M278.5 203.4h0M323.7 106.5h0M288.6 206.2h0M282.8 204.1h0M316.2 131.7h0M287.9 180.9h0M291.5 198.3h0M288.0 183.2h0M288.7 208.6h0M283.1 183.4h0M316.9 68.0h0M300.7 191.8h0M289.2 150.1h0M291.5 164.2h0M292.2 202.0h0M279.0 197.9h0M281.5 198.6h0M277.1 201.1h0M288.2 174.6h0M333.8 104.2h0M283.4 194.5h0M327.5 115.9h0M292.0 186.0h0M280.4 186.1h0M276.0 201.3h0M277.4 207.0h0M216.5 43.0h0M223.5 59.0h0M226.3 65.0h0M229.0 77.0h0M222.5 96.0h0M318.0 56.0h0M315.0 83.0h0M310.0 90.0h0M322.0 115.0h0" stroke="#111" stroke-width="0.80" stroke-linecap="round" fill="none"/>
<rect x="262.50" y="207.50" width="10.00" height="3.00" fill="#bcbcbc" stroke="none" stroke-width="1.00"/>
<line x1="212.10" y1="31.10" x2="343.70" y2="31.10" stroke="#555" stroke-width="1.40"/>
<line x1="212.10" y1="31.10" x2="212.10" y2="24.60" stroke="#333" stroke-width="1.00"/>
<line x1="261.20" y1="31.10" x2="261.20" y2="24.60" stroke="#333" stroke-width="1.00"/>
<line x1="273.60" y1="31.10" x2="273.60" y2="24.60" stroke="#333" stroke-width="1.00"/>
<line x1="343.70" y1="31.10" x2="343.70" y2="24.60" stroke="#333" stroke-width="1.00"/>
<line x1="212.10" y1="31.10" x2="212.10" y2="218.80" stroke="#231f20" stroke-width="1.10"/>
<line x1="343.70" y1="31.10" x2="343.70" y2="218.80" stroke="#231f20" stroke-width="1.10"/>
<line x1="212.10" y1="218.80" x2="343.70" y2="218.80" stroke="#231f20" stroke-width="1.10"/>
<line x1="209.90" y1="52.00" x2="212.10" y2="52.00" stroke="#231f20" stroke-width="1.00"/>
<line x1="209.90" y1="104.93" x2="212.10" y2="104.93" stroke="#231f20" stroke-width="1.00"/>
<line x1="209.90" y1="157.87" x2="212.10" y2="157.87" stroke="#231f20" stroke-width="1.00"/>
<line x1="209.90" y1="210.80" x2="212.10" y2="210.80" stroke="#231f20" stroke-width="1.00"/>
<text x="205.50" y="55.71" font-size="10.60" text-anchor="end" fill="#231f20">150</text>
<text x="205.50" y="108.64" font-size="10.60" text-anchor="end" fill="#231f20">100</text>
<text x="205.50" y="161.58" font-size="10.60" text-anchor="end" fill="#231f20">50</text>
<text x="197.50" y="214.51" font-size="10.60" text-anchor="end" fill="#231f20">0</text>
<line x1="235.05" y1="218.80" x2="235.05" y2="220.60" stroke="#231f20" stroke-width="1.00"/>
<text x="234.00" y="233.38" font-size="10.80" text-anchor="middle" fill="#231f20">−5</text>
<line x1="266.80" y1="218.80" x2="266.80" y2="220.60" stroke="#231f20" stroke-width="1.00"/>
<text x="263.50" y="233.38" font-size="10.80" text-anchor="middle" fill="#231f20">0</text>
<line x1="298.55" y1="218.80" x2="298.55" y2="220.60" stroke="#231f20" stroke-width="1.00"/>
<text x="294.20" y="233.38" font-size="10.80" text-anchor="middle" fill="#231f20">5</text>
<line x1="330.30" y1="218.80" x2="330.30" y2="220.60" stroke="#231f20" stroke-width="1.00"/>
<text x="327.70" y="233.38" font-size="10.80" text-anchor="middle" fill="#231f20">10</text>
<text x="287" y="243.2" font-size="10.8" text-anchor="middle" fill="#231f20">log<tspan font-size="7" dy="2">2</tspan><tspan dy="-2"> (Fold change)</tspan></text>
<text transform="translate(186.5 120.2) rotate(-90)" x="0" y="0" font-size="10.8" text-anchor="middle" fill="#231f20">−log10 (q values)</text>
<text x="255.00" y="154.68" font-size="6.80" text-anchor="middle" fill="#2a57a5">repF4</text>
<text x="263.70" y="165.18" font-size="6.80" text-anchor="middle" fill="#2a57a5">PA0719</text>
<text x="267.80" y="172.48" font-size="6.80" text-anchor="middle" fill="#2a57a5">PA0717</text>
<text x="219.90" y="180.38" font-size="6.80" text-anchor="middle" fill="#2a57a5">gVIII</text>
<text x="222.90" y="197.08" font-size="6.80" text-anchor="middle" fill="#2a57a5">PA0718</text>
<text x="229.90" y="202.88" font-size="6.80" text-anchor="middle" fill="#2a57a5">gIII</text>
<text x="224.60" y="209.58" font-size="6.80" text-anchor="middle" fill="#2a57a5">gVI</text>
<text x="217.00" y="215.98" font-size="6.80" text-anchor="middle" fill="#2a57a5">gIX</text>
<text x="234.50" y="218.08" font-size="6.80" text-anchor="middle" fill="#2a57a5">PA0726</text>
<line x1="249.00" y1="156.00" x2="254.00" y2="205.00" stroke="#2a57a5" stroke-width="0.60"/>
<line x1="256.00" y1="166.00" x2="258.00" y2="206.00" stroke="#2a57a5" stroke-width="0.60"/>
<line x1="259.00" y1="173.00" x2="260.00" y2="207.00" stroke="#2a57a5" stroke-width="0.60"/>
<line x1="227.00" y1="181.00" x2="250.00" y2="193.00" stroke="#2a57a5" stroke-width="0.60"/>
<line x1="233.00" y1="186.00" x2="253.00" y2="204.00" stroke="#2a57a5" stroke-width="0.60"/>
<line x1="232.00" y1="196.00" x2="251.00" y2="206.00" stroke="#2a57a5" stroke-width="0.60"/>
<line x1="236.00" y1="201.00" x2="244.00" y2="203.00" stroke="#2a57a5" stroke-width="0.60"/>
<line x1="231.00" y1="207.00" x2="246.00" y2="210.00" stroke="#2a57a5" stroke-width="0.60"/>
<line x1="225.00" y1="213.00" x2="250.00" y2="210.00" stroke="#2a57a5" stroke-width="0.60"/>
<line x1="244.00" y1="214.00" x2="252.00" y2="205.00" stroke="#2a57a5" stroke-width="0.60"/>
<text transform="translate(232.8 189) rotate(-60)" font-size="6" text-anchor="middle" fill="#2a57a5" y="2">gV</text>
<text x="361.40" y="15.70" font-size="17.00" font-weight="bold" fill="#231f20">b</text>
<text x="530.00" y="19.48" font-size="10.50" text-anchor="middle" fill="#231f20" font-weight="bold">Pf4</text>
<text x="622.50" y="28.62" font-size="9.20" text-anchor="start" fill="#231f20">Planktonic</text>
<text x="622.50" y="53.82" font-size="9.20" text-anchor="start" fill="#231f20">Biofilm (day 6)</text>
<text x="530.00" y="148.68" font-size="10.50" text-anchor="middle" fill="#231f20" font-weight="bold">Pf6</text>
<text x="624.50" y="152.62" font-size="9.20" text-anchor="start" fill="#231f20">Planktonic</text>
<text x="624.50" y="173.32" font-size="9.20" text-anchor="start" fill="#231f20">Biofilm (day 6)</text>
<text transform="translate(369.60 99.40) rotate(-90.00)" x="0" y="3.64" font-size="10.40" text-anchor="middle" fill="#231f20">RNA-seq depth</text>
<line x1="402.40" y1="20.10" x2="402.40" y2="41.20" stroke="#555" stroke-width="0.90"/>
<line x1="398.90" y1="20.10" x2="402.40" y2="20.10" stroke="#555" stroke-width="0.90"/>
<line x1="398.90" y1="41.20" x2="402.40" y2="41.20" stroke="#555" stroke-width="0.90"/>
<text x="387.00" y="23.39" font-size="9.40" text-anchor="middle" fill="#231f20">5000</text>
<text x="386.30" y="40.89" font-size="9.40" text-anchor="middle" fill="#231f20">0</text>
<line x1="402.40" y1="46.80" x2="402.40" y2="67.10" stroke="#555" stroke-width="0.90"/>
<line x1="398.90" y1="46.80" x2="402.40" y2="46.80" stroke="#555" stroke-width="0.90"/>
<line x1="398.90" y1="67.10" x2="402.40" y2="67.10" stroke="#555" stroke-width="0.90"/>
<text x="387.00" y="50.09" font-size="9.40" text-anchor="middle" fill="#231f20">5000</text>
<text x="386.30" y="67.79" font-size="9.40" text-anchor="middle" fill="#231f20">0</text>
<path d="M404.0 41.4 L404.0 40.8 L406.0 41.0 L408.0 40.9 L410.0 41.1 L412.0 41.1 L414.0 40.7 L416.0 40.7 L418.0 41.2 L420.0 40.9 L422.0 40.8 L424.0 41.3 L426.0 41.0 L428.0 41.2 L430.0 41.0 L432.0 41.1 L434.0 40.8 L436.0 41.1 L438.0 41.2 L440.0 41.0 L442.0 41.1 L444.0 41.1 L446.0 40.7 L448.0 41.2 L450.0 41.1 L452.0 40.9 L454.0 40.7 L456.0 41.2 L458.0 41.0 L460.0 41.1 L462.0 41.2 L464.0 41.1 L466.0 41.3 L468.0 40.9 L470.0 41.2 L472.0 41.0 L474.0 41.3 L476.0 41.2 L478.0 40.8 L480.0 40.8 L482.0 40.8 L484.0 41.3 L486.0 41.0 L488.0 41.1 L490.0 40.9 L492.0 41.0 L494.0 40.9 L496.0 40.9 L498.0 41.1 L500.0 41.1 L502.0 41.2 L504.0 41.1 L506.0 41.3 L508.0 41.2 L510.0 41.3 L512.0 41.1 L514.0 40.8 L516.0 41.2 L518.0 41.3 L520.0 41.2 L522.0 41.0 L524.0 41.1 L526.0 40.8 L528.0 41.2 L530.0 41.0 L532.0 40.9 L534.0 40.7 L536.0 41.2 L538.0 41.3 L540.0 40.8 L542.0 41.2 L544.0 40.9 L546.0 40.8 L548.0 40.9 L550.0 41.2 L552.0 41.2 L554.0 40.7 L556.0 41.1 L558.0 40.7 L560.0 41.1 L562.0 40.9 L564.0 41.2 L566.0 41.3 L568.0 41.0 L570.0 41.3 L572.0 40.9 L574.0 40.7 L576.0 41.1 L578.0 40.7 L580.0 40.8 L582.0 40.9 L584.0 41.1 L586.0 40.8 L588.0 40.7 L590.0 41.2 L592.0 40.9 L594.0 41.3 L596.0 41.2 L598.0 40.9 L600.0 41.0 L602.0 41.0 L604.0 41.1 L606.0 41.1 L608.0 41.0 L610.0 41.1 L612.0 41.3 L614.0 41.0 L616.0 41.0 L618.0 41.1 L620.0 40.8 L622.0 40.9 L624.0 41.3 L626.0 41.0 L628.0 41.0 L630.0 40.7 L632.0 40.9 L634.0 41.0 L636.0 40.7 L638.0 41.1 L640.0 41.1 L642.0 40.7 L644.0 41.1 L646.0 41.0 L648.0 41.1 L650.0 40.9 L652.5 40.7 L655.0 40.3 L657.3 39.9 L659.7 39.9 L662.0 40.3 L664.0 40.7 L666.0 40.6 L668.0 41.0 L668.0 41.4 Z" fill="#9fb5ae" stroke="none" stroke-width="1.00"/>
<line x1="404.00" y1="41.30" x2="670.00" y2="41.30" stroke="#c9d6d2" stroke-width="0.80"/>
<path d="M404.0 67.2 L404.0 67.0 L404.5 64.3 L406.0 66.1 L407.0 66.2 L408.0 66.3 L409.0 66.4 L410.0 66.7 L410.9 66.4 L411.8 66.5 L412.7 66.9 L413.6 66.1 L414.5 66.7 L415.4 66.9 L416.3 66.4 L417.2 66.3 L418.1 66.9 L419.0 66.4 L419.9 66.3 L420.8 66.6 L421.7 66.8 L422.6 66.2 L423.5 66.5 L424.4 66.5 L425.3 67.0 L426.2 66.6 L427.2 67.0 L428.1 66.3 L429.0 66.5 L429.9 66.8 L430.8 67.0 L431.7 66.6 L432.6 66.4 L433.5 66.3 L434.4 66.7 L435.3 66.4 L436.2 67.0 L437.1 67.0 L438.0 66.4 L438.9 66.5 L439.8 67.0 L440.7 66.8 L441.6 67.0 L442.5 66.5 L443.4 66.3 L444.3 66.5 L445.2 67.0 L446.1 66.5 L447.0 66.6 L447.9 66.6 L448.8 66.6 L449.7 66.6 L450.6 67.1 L451.5 66.4 L452.4 66.2 L453.3 67.2 L454.2 67.1 L455.1 67.2 L456.0 66.7 L456.9 67.2 L457.8 67.2 L458.7 66.5 L459.6 67.0 L460.6 67.1 L461.5 66.9 L462.4 66.8 L463.3 66.5 L464.2 66.6 L465.1 66.5 L466.0 66.3 L466.9 66.9 L467.8 66.6 L468.7 67.1 L469.6 66.3 L470.5 67.2 L471.4 67.0 L472.3 67.2 L473.2 67.2 L474.1 67.2 L475.0 66.9 L475.9 66.3 L476.8 67.0 L477.6 55.7 L478.6 46.8 L479.8 47.0 L481.0 46.8 L481.4 51.2 L481.9 47.2 L482.8 46.9 L483.7 46.8 L484.6 46.8 L485.5 47.2 L486.5 46.8 L487.4 47.1 L488.3 46.8 L489.2 46.8 L490.1 46.8 L491.0 47.1 L491.9 46.8 L492.8 47.1 L493.7 47.2 L494.6 47.1 L495.6 47.1 L496.5 46.8 L497.4 46.9 L498.3 47.2 L499.2 46.8 L499.6 49.3 L500.0 46.8 L500.9 46.8 L501.9 46.8 L502.8 46.8 L503.7 47.1 L504.7 46.8 L505.6 46.8 L506.5 46.8 L507.5 46.8 L508.4 46.8 L509.3 47.3 L510.3 47.2 L511.2 46.8 L512.1 46.8 L513.1 46.8 L514.0 46.8 L515.0 46.8 L515.9 46.9 L516.8 46.9 L517.8 46.8 L518.7 46.8 L519.6 46.8 L520.6 46.8 L521.5 46.9 L522.4 47.0 L523.4 46.8 L524.3 46.8 L524.7 49.2 L525.1 46.8 L526.1 46.9 L527.0 47.1 L528.0 46.8 L529.0 47.1 L530.0 46.9 L530.9 46.8 L531.9 46.8 L532.3 66.5 L533.5 60.2 L535.1 51.1 L536.2 57.2 L537.4 62.5 L538.5 59.2 L539.7 56.4 L540.9 57.4 L542.0 57.6 L543.5 52.9 L544.6 51.6 L545.7 50.7 L547.0 55.4 L547.9 58.5 L548.8 62.7 L549.7 66.3 L550.7 65.8 L551.7 66.0 L552.6 65.6 L553.6 66.3 L554.6 66.2 L555.5 47.2 L556.5 47.1 L557.6 47.0 L559.3 61.0 L561.0 62.1 L562.8 58.6 L563.9 60.8 L565.0 62.0 L566.0 60.3 L567.0 59.1 L568.0 56.5 L568.9 58.4 L569.8 60.3 L570.7 62.9 L571.9 60.9 L573.0 59.5 L574.0 58.7 L575.0 56.3 L576.0 55.3 L577.0 54.2 L578.0 53.3 L579.0 52.5 L580.5 55.6 L582.0 57.3 L582.9 56.1 L583.8 56.4 L584.7 55.7 L585.6 55.5 L586.8 57.3 L588.0 60.2 L589.0 61.2 L590.0 61.1 L591.0 61.1 L592.0 61.1 L593.1 62.8 L594.1 63.7 L595.2 65.1 L597.0 66.7 L598.2 66.9 L599.3 66.9 L600.5 66.4 L601.6 60.8 L602.7 55.2 L603.9 57.5 L605.0 59.9 L606.0 60.3 L607.0 61.5 L608.0 62.1 L609.0 61.7 L610.0 62.2 L611.0 60.2 L612.0 59.2 L613.2 59.1 L614.5 58.9 L615.8 61.4 L617.0 64.0 L618.1 64.8 L619.2 65.7 L620.3 65.6 L621.4 65.1 L622.6 65.2 L623.7 64.9 L624.8 64.6 L625.8 64.5 L626.9 64.9 L627.9 64.4 L629.0 64.5 L630.0 64.5 L631.0 64.8 L632.0 64.5 L633.0 64.4 L634.0 64.8 L635.0 65.0 L636.0 64.3 L637.0 64.7 L638.2 64.5 L639.3 65.1 L640.5 64.9 L641.8 63.2 L643.0 61.7 L644.2 63.3 L645.5 65.5 L646.4 65.3 L647.3 65.1 L648.2 65.2 L649.1 65.2 L650.0 65.6 L651.0 64.9 L652.0 65.8 L653.0 65.3 L654.0 65.4 L655.0 62.8 L655.9 60.6 L656.9 58.1 L658.0 60.7 L659.0 63.5 L660.2 64.2 L661.4 64.9 L662.5 64.0 L663.5 64.0 L664.5 63.8 L665.6 63.0 L666.7 63.8 L667.9 64.9 L669.0 66.4 L669.8 67.0 L669.8 67.2 Z" fill="#477f75" stroke="none" stroke-width="1.00"/>
<polygon points="404.3,77.8 406.5,79.9 404.3,82.0" fill="#e6dcc3" stroke="#3a3030" stroke-width="0.50"/>
<polygon points="416.0,77.1 433.8,77.1 437.0,79.9 433.8,82.7 416.0,82.7" fill="#e6dcc3" stroke="#3a3030" stroke-width="0.60" stroke-linejoin="round"/>
<polygon points="437.0,77.1 462.8,77.1 466.0,79.9 462.8,82.7 437.0,82.7" fill="#e6dcc3" stroke="#3a3030" stroke-width="0.60" stroke-linejoin="round"/>
<polygon points="478.0,77.1 474.6,77.1 471.9,79.9 474.6,82.7 478.0,82.7" fill="#7d9aa0" stroke="#3a3030" stroke-width="0.60" stroke-linejoin="round"/>
<polygon points="480.1,77.1 482.4,77.1 484.3,79.9 482.4,82.7 480.1,82.7" fill="#4a3a5e" stroke="#3a3030" stroke-width="0.60" stroke-linejoin="round"/>
<polygon points="484.3,77.1 486.6,77.1 488.4,79.9 486.6,82.7 484.3,82.7" fill="#a5dcd6" stroke="#3a3030" stroke-width="0.60" stroke-linejoin="round"/>
<polygon points="488.4,77.1 492.2,77.1 495.4,79.9 492.2,82.7 488.4,82.7" fill="#6cc4b8" stroke="#3a3030" stroke-width="0.60" stroke-linejoin="round"/>
<polygon points="495.4,77.1 501.1,77.1 504.3,79.9 501.1,82.7 495.4,82.7" fill="#1f9c8f" stroke="#3a3030" stroke-width="0.60" stroke-linejoin="round"/>
<polygon points="506.6,77.1 512.0,77.1 515.2,79.9 512.0,82.7 506.6,82.7" fill="#0f6e63" stroke="#3a3030" stroke-width="0.60" stroke-linejoin="round"/>
<polygon points="515.2,77.1 516.7,77.1 518.0,79.9 516.7,82.7 515.2,82.7" fill="#a08040" stroke="#3a3030" stroke-width="0.60" stroke-linejoin="round"/>
<polygon points="518.0,77.1 521.3,77.1 524.0,79.9 521.3,82.7 518.0,82.7" fill="#8e3a2a" stroke="#3a3030" stroke-width="0.60" stroke-linejoin="round"/>
<polygon points="524.0,77.1 527.2,77.1 529.8,79.9 527.2,82.7 524.0,82.7" fill="#a86a30" stroke="#3a3030" stroke-width="0.60" stroke-linejoin="round"/>
<polygon points="532.1,77.1 556.5,77.1 559.7,79.9 556.5,82.7 532.1,82.7" fill="#55321c" stroke="#3a3030" stroke-width="0.60" stroke-linejoin="round"/>
<polygon points="559.7,77.1 563.6,77.1 566.8,79.9 563.6,82.7 559.7,82.7" fill="#c0913f" stroke="#3a3030" stroke-width="0.60" stroke-linejoin="round"/>
<polygon points="566.8,77.1 594.3,77.1 597.5,79.9 594.3,82.7 566.8,82.7" fill="#5a8a82" stroke="#3a3030" stroke-width="0.60" stroke-linejoin="round"/>
<polygon points="594.3,76.8 597.5,79.9 594.3,83.0" fill="#1e2e2a" stroke="none" stroke-width="1.00"/>
<polygon points="599.5,77.1 623.9,77.1 627.1,79.9 623.9,82.7 599.5,82.7" fill="#e6c98a" stroke="#3a3030" stroke-width="0.60" stroke-linejoin="round"/>
<polygon points="628.2,77.1 646.4,77.1 649.6,79.9 646.4,82.7 628.2,82.7" fill="#b8a282" stroke="#3a3030" stroke-width="0.60" stroke-linejoin="round"/>
<polygon points="652.7,77.1 656.1,77.1 658.8,79.9 656.1,82.7 652.7,82.7" fill="#ebe3d0" stroke="#3a3030" stroke-width="0.60" stroke-linejoin="round"/>
<polygon points="658.8,77.1 662.8,77.1 666.0,79.9 662.8,82.7 658.8,82.7" fill="#ebe3d0" stroke="#3a3030" stroke-width="0.60" stroke-linejoin="round"/>
<line x1="404.70" y1="86.50" x2="670.70" y2="86.50" stroke="#3d3535" stroke-width="1.10"/>
<text transform="translate(406.0 108.3) rotate(-29)" font-size="9.6" font-style="italic" fill="#333">PA0715</text>
<text transform="translate(428.5 108.3) rotate(-29)" font-size="9.6" font-style="italic" fill="#333">PA0716</text>
<text transform="translate(462.4 103.2) rotate(-29)" font-size="9.6" font-style="italic" fill="#333">pf4r</text>
<text transform="translate(471.6 106.2) rotate(-29)" font-size="9.6" font-style="italic" fill="#333">xisF4</text>
<text transform="translate(503.3 104.2) rotate(-29)" font-size="9.6" font-style="italic" fill="#333">gV</text>
<text transform="translate(510.4 105.2) rotate(-29)" font-size="9.6" font-style="italic" fill="#333">gVII</text>
<text transform="translate(518.6 104.6) rotate(-29)" font-size="9.6" font-style="italic" fill="#333">gVIII</text>
<text transform="translate(540.2 103.9) rotate(-29)" font-size="9.6" font-style="italic" fill="#333">gIII</text>
<text transform="translate(554.9 105.0) rotate(-29)" font-size="9.6" font-style="italic" fill="#333">gVI</text>
<text transform="translate(602.4 107.3) rotate(-29)" font-size="9.6" font-style="italic" fill="#333">repF4</text>
<text transform="translate(627.7 106.2) rotate(-29)" font-size="9.6" font-style="italic" fill="#333">intF4</text>
<text transform="translate(648.1 105.8) rotate(-29)" font-size="9.6" font-style="italic" fill="#333">pfiA</text>
<text transform="translate(657.1 106.6) rotate(-29)" font-size="9.6" font-style="italic" fill="#333">pfiT</text>
<line x1="402.40" y1="140.50" x2="402.40" y2="161.90" stroke="#555" stroke-width="0.90"/>
<line x1="398.90" y1="140.50" x2="402.40" y2="140.50" stroke="#555" stroke-width="0.90"/>
<line x1="398.90" y1="161.90" x2="402.40" y2="161.90" stroke="#555" stroke-width="0.90"/>
<text x="387.00" y="143.79" font-size="9.40" text-anchor="middle" fill="#231f20">5000</text>
<text x="386.30" y="161.79" font-size="9.40" text-anchor="middle" fill="#231f20">0</text>
<line x1="402.40" y1="166.40" x2="402.40" y2="187.30" stroke="#555" stroke-width="0.90"/>
<line x1="398.90" y1="166.40" x2="402.40" y2="166.40" stroke="#555" stroke-width="0.90"/>
<line x1="398.90" y1="187.30" x2="402.40" y2="187.30" stroke="#555" stroke-width="0.90"/>
<text x="387.00" y="169.69" font-size="9.40" text-anchor="middle" fill="#231f20">5000</text>
<text x="386.30" y="187.79" font-size="9.40" text-anchor="middle" fill="#231f20">0</text>
<path d="M404.0 162.0 L404.0 161.9 L405.0 162.0 L406.0 161.9 L407.0 161.4 L408.0 161.3 L408.9 159.1 L409.8 156.9 L411.1 156.8 L412.4 156.5 L413.7 153.0 L415.0 149.1 L416.1 148.2 L417.1 146.5 L418.5 150.9 L419.9 159.1 L420.9 159.8 L422.0 160.9 L422.9 160.9 L423.8 160.0 L424.8 160.0 L425.8 160.2 L426.8 160.2 L427.8 159.8 L428.8 160.0 L429.8 160.1 L430.8 160.1 L432.0 161.3 L433.0 161.6 L434.0 161.8 L435.0 161.5 L436.0 161.6 L437.0 161.3 L438.0 161.4 L439.0 161.7 L440.0 161.3 L441.0 161.3 L442.0 161.6 L443.0 161.3 L444.0 161.7 L445.0 161.2 L446.0 161.3 L447.0 161.1 L448.0 160.6 L449.0 160.7 L450.0 160.5 L450.9 160.6 L451.8 160.2 L453.0 161.8 L453.9 161.9 L454.8 161.7 L455.7 161.6 L456.6 161.3 L457.5 161.6 L458.4 161.5 L459.3 161.8 L460.2 161.7 L461.1 161.6 L462.0 161.4 L462.9 161.7 L463.8 161.7 L464.7 161.4 L465.6 161.9 L466.5 161.7 L467.4 161.3 L468.3 161.9 L469.2 161.3 L470.1 161.5 L471.0 161.8 L471.9 161.7 L472.8 161.6 L473.7 161.7 L474.6 161.6 L475.5 161.5 L476.4 161.4 L477.3 161.3 L478.2 161.8 L479.1 161.8 L480.0 161.6 L481.0 161.7 L482.0 161.3 L483.0 161.1 L484.0 161.1 L485.0 161.4 L486.0 160.8 L487.0 161.1 L488.0 160.8 L489.0 161.3 L490.0 161.2 L491.0 161.3 L492.0 161.5 L492.9 161.6 L493.8 161.8 L494.7 161.5 L495.6 161.8 L496.5 161.3 L497.4 161.4 L498.3 161.3 L499.2 161.3 L500.1 161.8 L501.0 161.8 L501.9 161.4 L502.8 161.4 L503.7 161.5 L504.6 161.8 L505.5 161.8 L506.4 161.8 L507.3 161.7 L508.2 161.4 L509.1 161.5 L510.0 161.4 L510.9 161.6 L511.8 161.6 L512.7 161.4 L513.6 161.4 L514.5 161.8 L515.4 161.3 L516.3 161.8 L517.2 161.9 L518.1 161.9 L519.0 161.5 L519.9 161.6 L520.8 161.7 L521.7 161.7 L522.6 161.9 L523.5 161.7 L524.5 161.5 L525.4 161.9 L526.3 161.6 L527.2 161.7 L528.1 161.8 L529.0 161.3 L529.9 161.8 L530.8 161.7 L531.7 161.6 L532.6 161.6 L533.5 161.6 L534.4 161.4 L535.3 161.6 L536.2 161.3 L537.1 161.6 L538.0 161.7 L538.9 161.6 L539.8 161.6 L540.7 161.9 L541.6 161.9 L542.5 161.3 L543.4 161.8 L544.3 161.7 L545.2 161.3 L546.1 161.5 L547.0 161.4 L547.9 161.3 L548.8 161.6 L549.7 161.9 L550.6 161.5 L551.5 161.9 L552.4 161.7 L553.3 161.3 L554.2 161.9 L555.1 161.7 L556.0 161.9 L556.9 161.8 L557.8 161.8 L558.7 161.5 L559.6 161.8 L560.5 161.9 L561.4 161.9 L562.3 161.6 L563.2 161.8 L564.1 161.6 L565.0 161.3 L565.9 161.3 L566.8 161.3 L567.7 161.4 L568.6 161.4 L569.5 161.6 L570.4 161.7 L571.3 161.6 L572.2 161.5 L573.1 161.7 L574.0 161.5 L574.9 161.6 L575.8 161.8 L576.7 161.5 L577.6 161.4 L578.5 161.9 L579.4 161.8 L580.3 161.5 L581.2 161.5 L582.1 161.6 L583.0 161.7 L583.9 161.4 L584.8 161.3 L585.7 161.4 L586.6 161.8 L587.5 161.4 L588.5 161.6 L589.4 161.4 L590.3 161.4 L591.2 161.4 L592.1 161.5 L593.0 161.4 L593.9 161.3 L594.8 161.3 L595.7 161.4 L596.6 161.6 L597.5 161.3 L598.4 161.3 L599.3 161.6 L600.2 161.5 L601.1 161.7 L602.0 161.3 L602.9 161.5 L603.8 161.5 L604.7 161.3 L605.6 161.9 L606.5 161.4 L607.4 161.3 L608.3 161.6 L609.2 161.4 L610.1 161.7 L611.0 161.5 L611.9 161.3 L612.8 161.3 L613.7 161.8 L614.6 161.4 L615.5 161.8 L616.4 161.6 L617.3 161.9 L618.2 161.5 L619.1 161.4 L620.0 161.6 L620.0 162.0 Z" fill="#4f605a" stroke="none" stroke-width="1.00"/>
<line x1="404.00" y1="161.90" x2="675.00" y2="161.90" stroke="#cfd8d5" stroke-width="0.80"/>
<path d="M404.2 187.3 L404.2 186.8 L404.6 185.1 L406.0 185.6 L407.2 185.9 L408.5 186.2 L409.6 185.2 L410.6 183.8 L412.0 183.9 L413.3 183.9 L415.0 178.6 L415.9 177.3 L416.8 176.1 L418.5 180.1 L419.6 183.3 L420.6 187.0 L421.7 186.1 L422.7 184.3 L423.8 183.8 L424.9 183.1 L425.9 183.1 L427.0 182.9 L427.9 183.1 L428.9 182.5 L429.9 183.0 L430.8 183.5 L432.5 182.9 L433.4 180.0 L434.3 178.0 L436.0 173.2 L436.9 171.7 L437.8 171.1 L439.5 171.9 L441.0 174.0 L442.0 177.7 L443.0 180.5 L444.0 182.8 L445.0 184.5 L446.2 184.6 L447.4 184.3 L448.7 179.4 L450.0 173.7 L451.5 166.3 L453.2 173.6 L454.2 176.7 L455.3 179.0 L456.6 179.7 L458.0 180.5 L459.0 187.0 L460.0 186.7 L460.9 186.6 L461.9 186.1 L462.9 186.0 L463.9 185.6 L464.8 185.9 L465.8 185.1 L467.5 186.4 L468.5 186.6 L469.4 186.6 L470.4 186.0 L471.3 186.2 L472.3 186.7 L473.2 186.5 L474.2 186.7 L475.1 186.7 L476.1 186.4 L477.0 186.8 L478.0 186.6 L479.4 186.0 L480.7 185.7 L482.0 186.0 L483.3 186.9 L484.5 183.9 L485.6 179.6 L486.8 176.5 L487.7 176.9 L488.6 177.8 L490.3 187.1 L492.0 186.8 L493.2 171.6 L493.7 166.3 L494.6 166.4 L495.6 166.4 L496.5 166.3 L497.4 166.3 L498.3 166.7 L499.3 166.3 L500.2 166.4 L501.1 166.3 L502.1 166.6 L503.0 166.4 L503.9 166.6 L504.9 166.3 L505.8 166.3 L506.7 166.3 L507.6 166.3 L508.6 166.6 L509.5 166.3 L509.8 167.6 L510.1 166.7 L511.1 166.3 L512.0 166.7 L513.0 166.3 L514.0 166.3 L514.2 174.8 L514.6 166.6 L515.5 166.4 L516.4 166.4 L517.3 166.5 L518.3 166.6 L519.2 166.3 L520.1 166.4 L521.0 166.3 L522.0 170.2 L523.0 171.8 L524.0 172.5 L525.0 173.6 L525.5 166.3 L526.4 166.3 L527.3 166.3 L528.2 166.5 L529.0 171.6 L530.8 176.7 L531.0 166.3 L532.0 166.3 L532.9 166.3 L533.9 166.5 L534.9 166.3 L535.9 166.4 L536.8 166.4 L537.8 166.3 L538.5 169.4 L539.5 169.4 L540.4 168.4 L541.0 166.3 L541.9 166.3 L542.8 166.3 L543.7 166.3 L544.6 166.7 L545.6 166.5 L546.5 166.6 L547.4 166.7 L548.3 166.4 L549.2 166.7 L550.0 180.3 L551.8 171.4 L552.7 175.0 L553.6 178.1 L555.3 182.3 L556.5 182.8 L557.6 184.0 L558.8 184.6 L559.9 185.8 L561.0 186.4 L562.1 181.7 L563.2 178.1 L565.0 179.1 L566.2 186.0 L567.2 186.6 L568.1 186.3 L569.0 186.5 L570.0 186.6 L571.1 185.9 L572.2 186.4 L573.2 185.8 L574.3 185.7 L575.4 185.5 L576.7 185.7 L578.0 185.5 L579.0 185.5 L580.0 185.7 L581.0 186.3 L582.0 185.5 L583.0 184.3 L584.0 183.5 L585.0 183.1 L586.8 182.2 L588.5 186.8 L589.4 186.8 L590.4 186.8 L591.3 186.3 L592.2 186.2 L593.1 186.3 L594.1 186.5 L595.0 186.5 L596.1 182.1 L597.3 177.6 L599.0 176.9 L600.0 181.4 L601.0 186.6 L601.9 187.0 L602.8 186.9 L603.7 186.5 L604.6 186.4 L605.5 187.0 L606.4 186.3 L607.3 186.4 L608.2 186.8 L609.1 186.8 L610.0 186.5 L610.9 186.3 L611.9 186.4 L612.8 186.9 L613.8 186.6 L614.7 187.0 L615.6 186.8 L616.6 186.9 L617.5 186.0 L618.5 186.1 L619.4 185.9 L620.4 186.2 L621.3 186.1 L622.2 185.8 L623.2 186.2 L624.1 185.7 L625.1 185.9 L626.0 185.8 L627.0 186.5 L628.0 186.3 L629.0 186.4 L630.0 186.4 L631.0 186.7 L631.9 186.8 L632.9 186.8 L633.8 187.0 L634.8 186.9 L635.7 186.3 L636.7 186.2 L637.6 186.7 L638.6 186.7 L639.6 186.4 L640.5 186.7 L641.5 186.4 L642.4 186.1 L643.4 186.0 L644.3 185.8 L645.3 186.3 L646.2 186.7 L647.2 186.8 L648.1 186.5 L649.1 186.8 L650.0 187.2 L650.9 187.1 L651.8 186.9 L652.8 186.7 L653.7 186.8 L654.6 186.5 L655.5 186.5 L656.5 186.9 L657.4 187.2 L658.3 186.8 L659.2 186.6 L660.2 186.6 L661.1 186.6 L662.0 186.9 L662.9 186.6 L663.9 187.1 L664.8 186.3 L665.7 186.5 L666.6 186.6 L667.6 186.5 L668.5 186.9 L669.4 186.9 L670.4 187.1 L671.3 186.9 L672.3 186.4 L673.2 187.0 L674.2 187.0 L674.2 187.3 Z" fill="#477f75" stroke="none" stroke-width="1.00"/>
<polygon points="430.8,200.6 409.2,200.6 406.0,203.5 409.2,206.4 430.8,206.4" fill="#e3815f" stroke="#3a3030" stroke-width="0.60" stroke-linejoin="round"/>
<polygon points="455.0,200.6 434.0,200.6 430.8,203.5 434.0,206.4 455.0,206.4" fill="#8f4a5c" stroke="#3a3030" stroke-width="0.60" stroke-linejoin="round"/>
<polygon points="480.2,200.6 458.2,200.6 455.0,203.5 458.2,206.4 480.2,206.4" fill="#34483f" stroke="#3a3030" stroke-width="0.60" stroke-linejoin="round"/>
<polygon points="489.6,200.6 486.0,200.6 483.0,203.5 486.0,206.4 489.6,206.4" fill="#7d9aa0" stroke="#3a3030" stroke-width="0.60" stroke-linejoin="round"/>
<polygon points="493.0,200.6 496.0,200.6 498.4,203.5 496.0,206.4 493.0,206.4" fill="#4a3a5e" stroke="#3a3030" stroke-width="0.60" stroke-linejoin="round"/>
<polygon points="498.4,200.6 500.4,200.6 502.0,203.5 500.4,206.4 498.4,206.4" fill="#d8efec" stroke="#3a3030" stroke-width="0.60" stroke-linejoin="round"/>
<polygon points="502.0,200.6 505.9,200.6 509.0,203.5 505.9,206.4 502.0,206.4" fill="#6cc4b8" stroke="#3a3030" stroke-width="0.60" stroke-linejoin="round"/>
<polygon points="509.0,200.6 514.8,200.6 518.0,203.5 514.8,206.4 509.0,206.4" fill="#1f9c8f" stroke="#3a3030" stroke-width="0.60" stroke-linejoin="round"/>
<polygon points="521.0,200.6 528.5,200.6 531.7,203.5 528.5,206.4 521.0,206.4" fill="#0f6e63" stroke="#3a3030" stroke-width="0.60" stroke-linejoin="round"/>
<polygon points="531.7,200.6 533.0,200.6 534.0,203.5 533.0,206.4 531.7,206.4" fill="#a08040" stroke="#3a3030" stroke-width="0.60" stroke-linejoin="round"/>
<polygon points="534.0,200.6 537.3,200.6 540.0,203.5 537.3,206.4 534.0,206.4" fill="#8e3a2a" stroke="#3a3030" stroke-width="0.60" stroke-linejoin="round"/>
<polygon points="540.0,200.6 543.6,200.6 546.5,203.5 543.6,206.4 540.0,206.4" fill="#a86a30" stroke="#3a3030" stroke-width="0.60" stroke-linejoin="round"/>
<polygon points="549.2,200.6 573.8,200.6 577.0,203.5 573.8,206.4 549.2,206.4" fill="#55321c" stroke="#3a3030" stroke-width="0.60" stroke-linejoin="round"/>
<polygon points="577.0,200.6 582.8,200.6 586.0,203.5 582.8,206.4 577.0,206.4" fill="#c0913f" stroke="#3a3030" stroke-width="0.60" stroke-linejoin="round"/>
<polygon points="586.0,200.6 615.6,200.6 618.8,203.5 615.6,206.4 586.0,206.4" fill="#5a8a82" stroke="#3a3030" stroke-width="0.60" stroke-linejoin="round"/>
<polygon points="615.6,200.3 618.8,203.5 615.6,206.7" fill="#1e2e2a" stroke="none" stroke-width="1.00"/>
<polygon points="622.4,200.6 646.9,200.6 650.1,203.5 646.9,206.4 622.4,206.4" fill="#e6c98a" stroke="#3a3030" stroke-width="0.60" stroke-linejoin="round"/>
<polygon points="650.1,200.6 671.0,200.6 674.2,203.5 671.0,206.4 650.1,206.4" fill="#b8a282" stroke="#3a3030" stroke-width="0.60" stroke-linejoin="round"/>
<line x1="404.00" y1="207.50" x2="675.40" y2="207.50" stroke="#3d3535" stroke-width="1.10"/>
<text transform="translate(404.5 227.7) rotate(-29)" font-size="9.6" font-style="italic" fill="#333">pfkA</text>
<text transform="translate(429.9 227.7) rotate(-29)" font-size="9.6" font-style="italic" fill="#333">pfkB</text>
<text transform="translate(455.3 227.7) rotate(-29)" font-size="9.6" font-style="italic" fill="#333">pfpC</text>
<text transform="translate(477.2 224.2) rotate(-29)" font-size="9.6" font-style="italic" fill="#333">pf6r</text>
<text transform="translate(483.3 226.8) rotate(-29)" font-size="9.6" font-style="italic" fill="#333">xisF6</text>
<text transform="translate(522.0 218.8) rotate(-29)" font-size="9.6" font-style="italic" fill="#333">gV</text>
<text transform="translate(524.7 225.8) rotate(-29)" font-size="9.6" font-style="italic" fill="#333">gVII</text>
<text transform="translate(535.2 225.8) rotate(-29)" font-size="9.6" font-style="italic" fill="#333">gVIII</text>
<text transform="translate(555.3 224.1) rotate(-29)" font-size="9.6" font-style="italic" fill="#333">gIII</text>
<text transform="translate(571.1 225.0) rotate(-29)" font-size="9.6" font-style="italic" fill="#333">gVI</text>
<text transform="translate(624.8 227.8) rotate(-29)" font-size="9.6" font-style="italic" fill="#333">repF6</text>
<text transform="translate(651.3 226.6) rotate(-29)" font-size="9.6" font-style="italic" fill="#333">intF6</text>
<rect x="404.20" y="139.10" width="77.40" height="89.10" fill="none" stroke="#e8413c" stroke-width="0.90" stroke-dasharray="1.6 1.6"/>
<text x="397.5" y="241.4" font-size="10.9" fill="#231f20">KKP<tspan font-size="6.6" dy="1.6">MP</tspan><tspan dy="-1.5"> component</tspan></text>
<text x="22.80" y="264.80" font-size="17.00" font-weight="bold" fill="#231f20">c</text>
<rect x="101.60" y="271.00" width="8.20" height="8.60" fill="#e07b60" stroke="none" stroke-width="1.00"/>
<text x="112.60" y="278.66" font-size="9.60" text-anchor="start" fill="#231f20" font-style="italic">pfkA</text>
<rect x="141.40" y="271.00" width="8.20" height="8.60" fill="#955365" stroke="none" stroke-width="1.00"/>
<text x="152.40" y="278.66" font-size="9.60" text-anchor="start" fill="#231f20" font-style="italic">pfkB</text>
<rect x="180.20" y="271.00" width="8.20" height="8.60" fill="#3b4d46" stroke="none" stroke-width="1.00"/>
<text x="191.20" y="278.66" font-size="9.60" text-anchor="start" fill="#231f20" font-style="italic">pfpC</text>
<rect x="72.90" y="288.55" width="20.60" height="134.15" fill="#e07b60" stroke="none" stroke-width="1.00"/>
<rect x="72.90" y="288.55" width="20.60" height="14.05" fill="#3b4d46" stroke="none" stroke-width="1.00"/>
<rect x="72.90" y="302.60" width="20.60" height="7.00" fill="#955365" stroke="none" stroke-width="1.00"/>
<rect x="106.60" y="288.55" width="22.60" height="134.15" fill="#e07b60" stroke="none" stroke-width="1.00"/>
<rect x="106.60" y="288.55" width="22.60" height="30.25" fill="#3b4d46" stroke="none" stroke-width="1.00"/>
<rect x="106.60" y="318.80" width="22.60" height="27.10" fill="#955365" stroke="none" stroke-width="1.00"/>
<rect x="132.20" y="288.55" width="20.40" height="134.15" fill="#e07b60" stroke="none" stroke-width="1.00"/>
<rect x="132.20" y="288.55" width="20.40" height="31.95" fill="#3b4d46" stroke="none" stroke-width="1.00"/>
<rect x="132.20" y="320.50" width="20.40" height="32.10" fill="#955365" stroke="none" stroke-width="1.00"/>
<rect x="155.50" y="288.55" width="21.00" height="134.15" fill="#e07b60" stroke="none" stroke-width="1.00"/>
<rect x="155.50" y="288.55" width="21.00" height="32.55" fill="#3b4d46" stroke="none" stroke-width="1.00"/>
<rect x="155.50" y="321.10" width="21.00" height="29.20" fill="#955365" stroke="none" stroke-width="1.00"/>
<rect x="179.40" y="288.55" width="20.50" height="134.15" fill="#e07b60" stroke="none" stroke-width="1.00"/>
<rect x="179.40" y="288.55" width="20.50" height="36.05" fill="#3b4d46" stroke="none" stroke-width="1.00"/>
<rect x="179.40" y="324.60" width="20.50" height="30.10" fill="#955365" stroke="none" stroke-width="1.00"/>
<rect x="202.80" y="288.55" width="20.40" height="134.15" fill="#e07b60" stroke="none" stroke-width="1.00"/>
<rect x="202.80" y="288.55" width="20.40" height="64.05" fill="#3b4d46" stroke="none" stroke-width="1.00"/>
<rect x="202.80" y="352.60" width="20.40" height="20.20" fill="#955365" stroke="none" stroke-width="1.00"/>
<rect x="226.10" y="288.55" width="20.50" height="134.15" fill="#e07b60" stroke="none" stroke-width="1.00"/>
<rect x="226.10" y="288.55" width="20.50" height="66.75" fill="#3b4d46" stroke="none" stroke-width="1.00"/>
<rect x="226.10" y="355.30" width="20.50" height="21.30" fill="#955365" stroke="none" stroke-width="1.00"/>
<rect x="249.50" y="288.55" width="20.70" height="134.15" fill="#e07b60" stroke="none" stroke-width="1.00"/>
<rect x="249.50" y="288.55" width="20.70" height="63.75" fill="#3b4d46" stroke="none" stroke-width="1.00"/>
<rect x="249.50" y="352.30" width="20.70" height="21.30" fill="#955365" stroke="none" stroke-width="1.00"/>
<line x1="99.60" y1="289.00" x2="99.60" y2="441.00" stroke="#8a8a8a" stroke-width="0.90" stroke-dasharray="4 2.5"/>
<line x1="66.60" y1="288.30" x2="66.60" y2="423.20" stroke="#333" stroke-width="1.00"/>
<line x1="63.20" y1="422.70" x2="66.60" y2="422.70" stroke="#333" stroke-width="1.00"/>
<text x="59.70" y="426.41" font-size="10.60" text-anchor="end" fill="#231f20">0</text>
<line x1="63.20" y1="395.87" x2="66.60" y2="395.87" stroke="#333" stroke-width="1.00"/>
<text x="59.70" y="399.58" font-size="10.60" text-anchor="end" fill="#231f20">20</text>
<line x1="63.20" y1="369.04" x2="66.60" y2="369.04" stroke="#333" stroke-width="1.00"/>
<text x="59.70" y="372.75" font-size="10.60" text-anchor="end" fill="#231f20">40</text>
<line x1="63.20" y1="342.21" x2="66.60" y2="342.21" stroke="#333" stroke-width="1.00"/>
<text x="59.70" y="345.92" font-size="10.60" text-anchor="end" fill="#231f20">60</text>
<line x1="63.20" y1="315.38" x2="66.60" y2="315.38" stroke="#333" stroke-width="1.00"/>
<text x="59.70" y="319.09" font-size="10.60" text-anchor="end" fill="#231f20">80</text>
<line x1="63.20" y1="288.55" x2="66.60" y2="288.55" stroke="#333" stroke-width="1.00"/>
<text x="59.70" y="292.26" font-size="10.60" text-anchor="end" fill="#231f20">100</text>
<text transform="translate(36.90 355.40) rotate(-90.00)" x="0" y="3.92" font-size="11.20" text-anchor="middle" fill="#231f20">Relative expression level (%)</text>
<line x1="64.50" y1="422.90" x2="275.60" y2="422.90" stroke="#333" stroke-width="1.00"/>
<line x1="117.80" y1="422.90" x2="117.80" y2="426.60" stroke="#333" stroke-width="1.00"/>
<text x="118.10" y="437.01" font-size="10.60" text-anchor="middle" fill="#231f20">2</text>
<line x1="141.80" y1="422.90" x2="141.80" y2="426.60" stroke="#333" stroke-width="1.00"/>
<text x="142.10" y="437.01" font-size="10.60" text-anchor="middle" fill="#231f20">3</text>
<line x1="165.90" y1="422.90" x2="165.90" y2="426.60" stroke="#333" stroke-width="1.00"/>
<text x="166.20" y="437.01" font-size="10.60" text-anchor="middle" fill="#231f20">4</text>
<line x1="189.30" y1="422.90" x2="189.30" y2="426.60" stroke="#333" stroke-width="1.00"/>
<text x="189.60" y="437.01" font-size="10.60" text-anchor="middle" fill="#231f20">5</text>
<line x1="212.80" y1="422.90" x2="212.80" y2="426.60" stroke="#333" stroke-width="1.00"/>
<text x="213.10" y="437.01" font-size="10.60" text-anchor="middle" fill="#231f20">6</text>
<line x1="236.70" y1="422.90" x2="236.70" y2="426.60" stroke="#333" stroke-width="1.00"/>
<text x="237.00" y="437.01" font-size="10.60" text-anchor="middle" fill="#231f20">7</text>
<line x1="259.60" y1="422.90" x2="259.60" y2="426.60" stroke="#333" stroke-width="1.00"/>
<text x="259.90" y="437.01" font-size="10.60" text-anchor="middle" fill="#231f20">8</text>
<line x1="275.60" y1="290.50" x2="275.60" y2="423.00" stroke="#555" stroke-width="1.00"/>
<line x1="275.60" y1="422.70" x2="279.70" y2="422.70" stroke="#555" stroke-width="1.00"/>
<text x="280.60" y="426.41" font-size="10.60" text-anchor="start" fill="#231f20">0</text>
<line x1="275.60" y1="396.46" x2="279.70" y2="396.46" stroke="#555" stroke-width="1.00"/>
<text x="280.60" y="400.17" font-size="10.60" text-anchor="start" fill="#231f20">2</text>
<line x1="275.60" y1="370.22" x2="279.70" y2="370.22" stroke="#555" stroke-width="1.00"/>
<text x="280.60" y="373.93" font-size="10.60" text-anchor="start" fill="#231f20">4</text>
<line x1="275.60" y1="343.98" x2="279.70" y2="343.98" stroke="#555" stroke-width="1.00"/>
<text x="280.60" y="347.69" font-size="10.60" text-anchor="start" fill="#231f20">6</text>
<line x1="275.60" y1="317.74" x2="279.70" y2="317.74" stroke="#555" stroke-width="1.00"/>
<text x="280.60" y="321.45" font-size="10.60" text-anchor="start" fill="#231f20">8</text>
<line x1="275.60" y1="291.50" x2="279.70" y2="291.50" stroke="#555" stroke-width="1.00"/>
<text x="280.60" y="295.21" font-size="10.60" text-anchor="start" fill="#231f20">10</text>
<text transform="translate(297.9 351.1) rotate(-90)" x="0" y="4.0" font-size="11.7" text-anchor="middle" fill="#2e6fb0" font-style="italic">(pfkA+pfkB)/pfpC</text>
<polyline points="119.0,378.0 142.3,381.0 166.6,381.8 189.6,387.7 213.9,408.7 236.4,410.1 260.6,408.7" fill="none" stroke="#1f5f9f" stroke-width="1.30"/>
<line x1="119.00" y1="375.80" x2="119.00" y2="380.20" stroke="#1f5f9f" stroke-width="1.20"/>
<line x1="117.00" y1="375.80" x2="121.00" y2="375.80" stroke="#1f5f9f" stroke-width="1.00"/>
<line x1="117.00" y1="380.20" x2="121.00" y2="380.20" stroke="#1f5f9f" stroke-width="1.00"/>
<circle cx="119.00" cy="378.00" r="2.90" fill="#1f5f9f" stroke="none" stroke-width="1.00"/>
<line x1="142.30" y1="379.80" x2="142.30" y2="382.20" stroke="#1f5f9f" stroke-width="1.20"/>
<line x1="140.30" y1="379.80" x2="144.30" y2="379.80" stroke="#1f5f9f" stroke-width="1.00"/>
<line x1="140.30" y1="382.20" x2="144.30" y2="382.20" stroke="#1f5f9f" stroke-width="1.00"/>
<circle cx="142.30" cy="381.00" r="2.90" fill="#1f5f9f" stroke="none" stroke-width="1.00"/>
<line x1="166.60" y1="379.60" x2="166.60" y2="384.00" stroke="#1f5f9f" stroke-width="1.20"/>
<line x1="164.60" y1="379.60" x2="168.60" y2="379.60" stroke="#1f5f9f" stroke-width="1.00"/>
<line x1="164.60" y1="384.00" x2="168.60" y2="384.00" stroke="#1f5f9f" stroke-width="1.00"/>
<circle cx="166.60" cy="381.80" r="2.90" fill="#1f5f9f" stroke="none" stroke-width="1.00"/>
<line x1="189.60" y1="386.20" x2="189.60" y2="389.20" stroke="#1f5f9f" stroke-width="1.20"/>
<line x1="187.60" y1="386.20" x2="191.60" y2="386.20" stroke="#1f5f9f" stroke-width="1.00"/>
<line x1="187.60" y1="389.20" x2="191.60" y2="389.20" stroke="#1f5f9f" stroke-width="1.00"/>
<circle cx="189.60" cy="387.70" r="2.90" fill="#1f5f9f" stroke="none" stroke-width="1.00"/>
<line x1="213.90" y1="407.90" x2="213.90" y2="409.50" stroke="#1f5f9f" stroke-width="1.20"/>
<line x1="211.90" y1="407.90" x2="215.90" y2="407.90" stroke="#1f5f9f" stroke-width="1.00"/>
<line x1="211.90" y1="409.50" x2="215.90" y2="409.50" stroke="#1f5f9f" stroke-width="1.00"/>
<circle cx="213.90" cy="408.70" r="2.90" fill="#1f5f9f" stroke="none" stroke-width="1.00"/>
<line x1="236.40" y1="409.50" x2="236.40" y2="410.70" stroke="#1f5f9f" stroke-width="1.20"/>
<line x1="234.40" y1="409.50" x2="238.40" y2="409.50" stroke="#1f5f9f" stroke-width="1.00"/>
<line x1="234.40" y1="410.70" x2="238.40" y2="410.70" stroke="#1f5f9f" stroke-width="1.00"/>
<circle cx="236.40" cy="410.10" r="2.90" fill="#1f5f9f" stroke="none" stroke-width="1.00"/>
<line x1="260.60" y1="408.10" x2="260.60" y2="409.30" stroke="#1f5f9f" stroke-width="1.20"/>
<line x1="258.60" y1="408.10" x2="262.60" y2="408.10" stroke="#1f5f9f" stroke-width="1.00"/>
<line x1="258.60" y1="409.30" x2="262.60" y2="409.30" stroke="#1f5f9f" stroke-width="1.00"/>
<circle cx="260.60" cy="408.70" r="2.90" fill="#1f5f9f" stroke="none" stroke-width="1.00"/>
<line x1="83.20" y1="292.80" x2="83.20" y2="321.30" stroke="#1f5f9f" stroke-width="1.20"/>
<line x1="80.80" y1="292.80" x2="85.60" y2="292.80" stroke="#1f5f9f" stroke-width="1.00"/>
<line x1="80.80" y1="321.30" x2="85.60" y2="321.30" stroke="#1f5f9f" stroke-width="1.00"/>
<circle cx="83.20" cy="306.80" r="2.90" fill="#1f5f9f" stroke="none" stroke-width="1.00"/>
<polygon points="67.6,440.5 269.4,440.5 272.9,443.0 269.4,445.5 67.6,445.5" fill="#e2e2e2" stroke="#3a3a3a" stroke-width="0.70"/>
<rect x="68.00" y="440.90" width="31.60" height="4.20" fill="#f2f2f2" stroke="none" stroke-width="1.00"/>
<polyline points="97.4,440.3 100.4,443.0 97.4,445.7" fill="none" stroke="#111" stroke-width="1.10"/>
<text x="61.50" y="457.42" font-size="10.90" text-anchor="start" fill="#231f20">Planktonic</text>
<text x="162.50" y="457.42" font-size="10.90" text-anchor="start" fill="#231f20">Biofilm (days)</text>
<text x="342.90" y="269.60" font-size="17.00" font-weight="bold" fill="#231f20">d</text>
<text x="395.20" y="274.33" font-size="9.80" text-anchor="middle" fill="#231f20">Pf4</text>
<text x="417.70" y="274.33" font-size="9.80" text-anchor="middle" fill="#231f20">Pf6</text>
<line x1="386.00" y1="283.20" x2="401.80" y2="283.20" stroke="#6e8c4f" stroke-width="1.10"/>
<circle cx="394.00" cy="283.20" r="4.00" fill="#6e8c4f" stroke="#2a2a2a" stroke-width="0.60"/>
<line x1="408.80" y1="283.20" x2="425.00" y2="283.20" stroke="#6e8c4f" stroke-width="1.10"/>
<rect x="412.00" y="279.30" width="7.80" height="7.80" fill="#6e8c4f" stroke="#2a2a2a" stroke-width="0.60"/>
<text x="426.30" y="286.56" font-size="9.60" text-anchor="start" fill="#231f20">MPAO1</text>
<line x1="386.00" y1="294.90" x2="401.80" y2="294.90" stroke="#e8383d" stroke-width="1.10"/>
<circle cx="394.00" cy="294.90" r="4.00" fill="#e8383d" stroke="#2a2a2a" stroke-width="0.60"/>
<line x1="408.80" y1="294.90" x2="425.00" y2="294.90" stroke="#e8383d" stroke-width="1.10"/>
<rect x="412.00" y="291.00" width="7.80" height="7.80" fill="#e8383d" stroke="#2a2a2a" stroke-width="0.60"/>
<text x="426.3" y="298.30" font-size="9.6" fill="#231f20">MPAO1 Δ<tspan font-style="italic">pfkA</tspan></text>
<line x1="386.00" y1="306.30" x2="401.80" y2="306.30" stroke="#5b94d6" stroke-width="1.10"/>
<circle cx="394.00" cy="306.30" r="4.00" fill="#5b94d6" stroke="#2a2a2a" stroke-width="0.60"/>
<line x1="408.80" y1="306.30" x2="425.00" y2="306.30" stroke="#5b94d6" stroke-width="1.10"/>
<rect x="412.00" y="302.40" width="7.80" height="7.80" fill="#5b94d6" stroke="#2a2a2a" stroke-width="0.60"/>
<text x="426.3" y="309.70" font-size="9.6" fill="#231f20">MPAO1 ΔKK<tspan font-size="6.0" dy="1.6">MP</tspan></text>
<line x1="379.10" y1="287.70" x2="379.10" y2="397.00" stroke="#222" stroke-width="1.10"/>
<line x1="379.10" y1="406.60" x2="379.10" y2="423.00" stroke="#222" stroke-width="1.10"/>
<line x1="375.30" y1="295.10" x2="379.10" y2="295.10" stroke="#222" stroke-width="1.30"/>
<line x1="376.70" y1="307.05" x2="379.10" y2="307.05" stroke="#222" stroke-width="0.80"/>
<line x1="376.70" y1="304.04" x2="379.10" y2="304.04" stroke="#222" stroke-width="0.80"/>
<line x1="376.70" y1="301.90" x2="379.10" y2="301.90" stroke="#222" stroke-width="0.80"/>
<line x1="376.70" y1="300.25" x2="379.10" y2="300.25" stroke="#222" stroke-width="0.80"/>
<line x1="376.70" y1="298.89" x2="379.10" y2="298.89" stroke="#222" stroke-width="0.80"/>
<line x1="376.70" y1="297.75" x2="379.10" y2="297.75" stroke="#222" stroke-width="0.80"/>
<line x1="376.70" y1="296.76" x2="379.10" y2="296.76" stroke="#222" stroke-width="0.80"/>
<line x1="376.70" y1="295.88" x2="379.10" y2="295.88" stroke="#222" stroke-width="0.80"/>
<text x="368.33" y="299.47" font-size="10.20" text-anchor="end" fill="#231f20">10</text>
<text x="368.53" y="295.19" font-size="7.00" fill="#231f20">11</text>
<line x1="375.30" y1="311.90" x2="379.10" y2="311.90" stroke="#222" stroke-width="1.30"/>
<line x1="376.70" y1="323.85" x2="379.10" y2="323.85" stroke="#222" stroke-width="0.80"/>
<line x1="376.70" y1="320.84" x2="379.10" y2="320.84" stroke="#222" stroke-width="0.80"/>
<line x1="376.70" y1="318.70" x2="379.10" y2="318.70" stroke="#222" stroke-width="0.80"/>
<line x1="376.70" y1="317.05" x2="379.10" y2="317.05" stroke="#222" stroke-width="0.80"/>
<line x1="376.70" y1="315.69" x2="379.10" y2="315.69" stroke="#222" stroke-width="0.80"/>
<line x1="376.70" y1="314.55" x2="379.10" y2="314.55" stroke="#222" stroke-width="0.80"/>
<line x1="376.70" y1="313.56" x2="379.10" y2="313.56" stroke="#222" stroke-width="0.80"/>
<line x1="376.70" y1="312.68" x2="379.10" y2="312.68" stroke="#222" stroke-width="0.80"/>
<text x="367.81" y="316.27" font-size="10.20" text-anchor="end" fill="#231f20">10</text>
<text x="368.01" y="311.99" font-size="7.00" fill="#231f20">10</text>
<line x1="375.30" y1="329.00" x2="379.10" y2="329.00" stroke="#222" stroke-width="1.30"/>
<line x1="376.70" y1="340.95" x2="379.10" y2="340.95" stroke="#222" stroke-width="0.80"/>
<line x1="376.70" y1="337.94" x2="379.10" y2="337.94" stroke="#222" stroke-width="0.80"/>
<line x1="376.70" y1="335.80" x2="379.10" y2="335.80" stroke="#222" stroke-width="0.80"/>
<line x1="376.70" y1="334.15" x2="379.10" y2="334.15" stroke="#222" stroke-width="0.80"/>
<line x1="376.70" y1="332.79" x2="379.10" y2="332.79" stroke="#222" stroke-width="0.80"/>
<line x1="376.70" y1="331.65" x2="379.10" y2="331.65" stroke="#222" stroke-width="0.80"/>
<line x1="376.70" y1="330.66" x2="379.10" y2="330.66" stroke="#222" stroke-width="0.80"/>
<line x1="376.70" y1="329.78" x2="379.10" y2="329.78" stroke="#222" stroke-width="0.80"/>
<text x="371.71" y="333.37" font-size="10.20" text-anchor="end" fill="#231f20">10</text>
<text x="371.91" y="329.09" font-size="7.00" fill="#231f20">9</text>
<line x1="375.30" y1="346.10" x2="379.10" y2="346.10" stroke="#222" stroke-width="1.30"/>
<line x1="376.70" y1="358.05" x2="379.10" y2="358.05" stroke="#222" stroke-width="0.80"/>
<line x1="376.70" y1="355.04" x2="379.10" y2="355.04" stroke="#222" stroke-width="0.80"/>
<line x1="376.70" y1="352.90" x2="379.10" y2="352.90" stroke="#222" stroke-width="0.80"/>
<line x1="376.70" y1="351.25" x2="379.10" y2="351.25" stroke="#222" stroke-width="0.80"/>
<line x1="376.70" y1="349.89" x2="379.10" y2="349.89" stroke="#222" stroke-width="0.80"/>
<line x1="376.70" y1="348.75" x2="379.10" y2="348.75" stroke="#222" stroke-width="0.80"/>
<line x1="376.70" y1="347.76" x2="379.10" y2="347.76" stroke="#222" stroke-width="0.80"/>
<line x1="376.70" y1="346.88" x2="379.10" y2="346.88" stroke="#222" stroke-width="0.80"/>
<text x="371.71" y="350.47" font-size="10.20" text-anchor="end" fill="#231f20">10</text>
<text x="371.91" y="346.19" font-size="7.00" fill="#231f20">8</text>
<line x1="375.30" y1="363.20" x2="379.10" y2="363.20" stroke="#222" stroke-width="1.30"/>
<line x1="376.70" y1="375.15" x2="379.10" y2="375.15" stroke="#222" stroke-width="0.80"/>
<line x1="376.70" y1="372.14" x2="379.10" y2="372.14" stroke="#222" stroke-width="0.80"/>
<line x1="376.70" y1="370.00" x2="379.10" y2="370.00" stroke="#222" stroke-width="0.80"/>
<line x1="376.70" y1="368.35" x2="379.10" y2="368.35" stroke="#222" stroke-width="0.80"/>
<line x1="376.70" y1="366.99" x2="379.10" y2="366.99" stroke="#222" stroke-width="0.80"/>
<line x1="376.70" y1="365.85" x2="379.10" y2="365.85" stroke="#222" stroke-width="0.80"/>
<line x1="376.70" y1="364.86" x2="379.10" y2="364.86" stroke="#222" stroke-width="0.80"/>
<line x1="376.70" y1="363.98" x2="379.10" y2="363.98" stroke="#222" stroke-width="0.80"/>
<text x="371.71" y="367.57" font-size="10.20" text-anchor="end" fill="#231f20">10</text>
<text x="371.91" y="363.29" font-size="7.00" fill="#231f20">7</text>
<line x1="375.30" y1="381.10" x2="379.10" y2="381.10" stroke="#222" stroke-width="1.30"/>
<line x1="376.70" y1="393.05" x2="379.10" y2="393.05" stroke="#222" stroke-width="0.80"/>
<line x1="376.70" y1="390.04" x2="379.10" y2="390.04" stroke="#222" stroke-width="0.80"/>
<line x1="376.70" y1="387.90" x2="379.10" y2="387.90" stroke="#222" stroke-width="0.80"/>
<line x1="376.70" y1="386.25" x2="379.10" y2="386.25" stroke="#222" stroke-width="0.80"/>
<line x1="376.70" y1="384.89" x2="379.10" y2="384.89" stroke="#222" stroke-width="0.80"/>
<line x1="376.70" y1="383.75" x2="379.10" y2="383.75" stroke="#222" stroke-width="0.80"/>
<line x1="376.70" y1="382.76" x2="379.10" y2="382.76" stroke="#222" stroke-width="0.80"/>
<line x1="376.70" y1="381.88" x2="379.10" y2="381.88" stroke="#222" stroke-width="0.80"/>
<text x="371.71" y="385.47" font-size="10.20" text-anchor="end" fill="#231f20">10</text>
<text x="371.91" y="381.19" font-size="7.00" fill="#231f20">6</text>
<line x1="376.70" y1="289.95" x2="379.10" y2="289.95" stroke="#222" stroke-width="0.80"/>
<text x="371.71" y="396.57" font-size="10.20" text-anchor="end" fill="#231f20">10</text>
<text x="371.91" y="392.29" font-size="7.00" fill="#231f20">5</text>
<line x1="376.10" y1="409.20" x2="379.10" y2="409.20" stroke="#222" stroke-width="1.20"/>
<line x1="376.10" y1="422.60" x2="379.10" y2="422.60" stroke="#222" stroke-width="1.20"/>
<line x1="376.70" y1="418.57" x2="379.10" y2="418.57" stroke="#222" stroke-width="0.80"/>
<line x1="376.70" y1="416.21" x2="379.10" y2="416.21" stroke="#222" stroke-width="0.80"/>
<line x1="376.70" y1="414.53" x2="379.10" y2="414.53" stroke="#222" stroke-width="0.80"/>
<line x1="376.70" y1="413.23" x2="379.10" y2="413.23" stroke="#222" stroke-width="0.80"/>
<line x1="376.70" y1="412.17" x2="379.10" y2="412.17" stroke="#222" stroke-width="0.80"/>
<line x1="376.70" y1="411.28" x2="379.10" y2="411.28" stroke="#222" stroke-width="0.80"/>
<line x1="376.70" y1="410.50" x2="379.10" y2="410.50" stroke="#222" stroke-width="0.80"/>
<line x1="376.70" y1="409.81" x2="379.10" y2="409.81" stroke="#222" stroke-width="0.80"/>
<text x="371.71" y="412.57" font-size="10.20" text-anchor="end" fill="#231f20">10</text>
<text x="371.91" y="408.29" font-size="7.00" fill="#231f20">1</text>
<text x="371.71" y="426.37" font-size="10.20" text-anchor="end" fill="#231f20">10</text>
<text x="371.91" y="422.09" font-size="7.00" fill="#231f20">0</text>
<line x1="375.90" y1="404.20" x2="383.10" y2="394.60" stroke="#222" stroke-width="1.10"/>
<line x1="375.90" y1="411.00" x2="383.10" y2="405.40" stroke="#222" stroke-width="1.10"/>
<text transform="translate(350.60 356.60) rotate(-90.00)" x="0" y="3.71" font-size="10.60" text-anchor="middle" fill="#231f20">PFU/ml</text>
<line x1="379.10" y1="422.60" x2="624.80" y2="422.60" stroke="#555" stroke-width="1.10"/>
<line x1="449.70" y1="422.60" x2="449.70" y2="426.40" stroke="#555" stroke-width="1.00"/>
<text x="449.70" y="438.01" font-size="10.60" text-anchor="middle" fill="#231f20">2</text>
<line x1="478.80" y1="422.60" x2="478.80" y2="426.40" stroke="#555" stroke-width="1.00"/>
<text x="478.80" y="438.01" font-size="10.60" text-anchor="middle" fill="#231f20">3</text>
<line x1="508.00" y1="422.60" x2="508.00" y2="426.40" stroke="#555" stroke-width="1.00"/>
<text x="508.00" y="438.01" font-size="10.60" text-anchor="middle" fill="#231f20">4</text>
<line x1="537.10" y1="422.60" x2="537.10" y2="426.40" stroke="#555" stroke-width="1.00"/>
<text x="537.10" y="438.01" font-size="10.60" text-anchor="middle" fill="#231f20">5</text>
<line x1="566.20" y1="422.60" x2="566.20" y2="426.40" stroke="#555" stroke-width="1.00"/>
<text x="566.20" y="438.01" font-size="10.60" text-anchor="middle" fill="#231f20">6</text>
<line x1="595.30" y1="422.60" x2="595.30" y2="426.40" stroke="#555" stroke-width="1.00"/>
<text x="595.30" y="438.01" font-size="10.60" text-anchor="middle" fill="#231f20">7</text>
<line x1="623.80" y1="422.60" x2="623.80" y2="426.40" stroke="#555" stroke-width="1.00"/>
<text x="623.80" y="438.01" font-size="10.60" text-anchor="middle" fill="#231f20">8</text>
<polyline points="396.5,418.5 400.0,412.5" fill="none" stroke="#5b94d6" stroke-width="1.00" stroke-dasharray="3 2.6"/>
<polyline points="408.0,399.0 446.5,333.5" fill="none" stroke="#5b94d6" stroke-width="1.00" stroke-dasharray="3 2.6"/>
<polyline points="397.0,419.5 409.0,409.5" fill="none" stroke="#e8383d" stroke-width="1.00" stroke-dasharray="3 2.6"/>
<polyline points="419.8,400.5 445.5,379.0" fill="none" stroke="#e8383d" stroke-width="1.00" stroke-dasharray="3 2.6"/>
<polyline points="397.5,420.2 410.7,410.5" fill="none" stroke="#5b94d6" stroke-width="1.00" stroke-dasharray="3 2.6"/>
<polyline points="429.8,396.5 445.5,385.0" fill="none" stroke="#5b94d6" stroke-width="1.00" stroke-dasharray="3 2.6"/>
<polyline points="397.0,420.5 444.0,408.0" fill="none" stroke="#6e8c4f" stroke-width="1.00" stroke-dasharray="3 2.6"/>
<polyline points="465.8,400.6 476.0,397.4" fill="none" stroke="#6e8c4f" stroke-width="1.00" stroke-dasharray="3 2.6"/>
<rect x="405.00" y="392.00" width="40.00" height="14.00" fill="none" stroke="none" stroke-width="1.00"/>
<polyline points="508.0,389.5 537.1,346.0 566.2,319.1 595.3,314.1 623.8,314.1" fill="none" stroke="#6e8c4f" stroke-width="1.00"/>
<line x1="508.00" y1="381.00" x2="508.00" y2="398.00" stroke="#6e8c4f" stroke-width="0.90"/>
<line x1="505.50" y1="381.00" x2="510.50" y2="381.00" stroke="#6e8c4f" stroke-width="0.90"/>
<line x1="505.50" y1="398.00" x2="510.50" y2="398.00" stroke="#6e8c4f" stroke-width="0.90"/>
<line x1="595.30" y1="306.00" x2="595.30" y2="332.00" stroke="#6e8c4f" stroke-width="0.90"/>
<line x1="592.80" y1="306.00" x2="597.80" y2="306.00" stroke="#6e8c4f" stroke-width="0.90"/>
<line x1="592.80" y1="332.00" x2="597.80" y2="332.00" stroke="#6e8c4f" stroke-width="0.90"/>
<polyline points="478.8,396.5 508.0,375.7 537.1,359.3 566.2,314.6 595.3,316.9 623.8,314.1" fill="none" stroke="#6e8c4f" stroke-width="1.00"/>
<line x1="508.00" y1="369.00" x2="508.00" y2="381.00" stroke="#6e8c4f" stroke-width="0.90"/>
<line x1="505.50" y1="369.00" x2="510.50" y2="369.00" stroke="#6e8c4f" stroke-width="0.90"/>
<line x1="505.50" y1="381.00" x2="510.50" y2="381.00" stroke="#6e8c4f" stroke-width="0.90"/>
<polyline points="449.7,383.4 478.8,336.3 508.0,331.3 537.1,328.0 566.2,314.0 595.3,305.2 623.8,303.5" fill="none" stroke="#5b94d6" stroke-width="1.00"/>
<line x1="537.10" y1="322.00" x2="537.10" y2="338.00" stroke="#5b94d6" stroke-width="0.90"/>
<line x1="534.60" y1="322.00" x2="539.60" y2="322.00" stroke="#5b94d6" stroke-width="0.90"/>
<line x1="534.60" y1="338.00" x2="539.60" y2="338.00" stroke="#5b94d6" stroke-width="0.90"/>
<polyline points="449.7,378.7 478.8,332.7 508.0,323.8 537.1,325.2 566.2,316.9 595.3,296.9 623.8,310.0" fill="none" stroke="#e8383d" stroke-width="1.00"/>
<line x1="478.80" y1="318.00" x2="478.80" y2="345.00" stroke="#e8383d" stroke-width="0.90"/>
<line x1="476.30" y1="318.00" x2="481.30" y2="318.00" stroke="#e8383d" stroke-width="0.90"/>
<line x1="476.30" y1="345.00" x2="481.30" y2="345.00" stroke="#e8383d" stroke-width="0.90"/>
<line x1="566.20" y1="308.00" x2="566.20" y2="329.00" stroke="#e8383d" stroke-width="0.90"/>
<line x1="563.70" y1="308.00" x2="568.70" y2="308.00" stroke="#e8383d" stroke-width="0.90"/>
<line x1="563.70" y1="329.00" x2="568.70" y2="329.00" stroke="#e8383d" stroke-width="0.90"/>
<polyline points="449.7,328.8 478.8,325.2 508.0,311.3 537.1,315.5 566.2,298.8 595.3,298.8 623.8,304.4" fill="none" stroke="#5b94d6" stroke-width="1.00"/>
<line x1="449.70" y1="321.00" x2="449.70" y2="335.00" stroke="#5b94d6" stroke-width="0.90"/>
<line x1="447.20" y1="321.00" x2="452.20" y2="321.00" stroke="#5b94d6" stroke-width="0.90"/>
<line x1="447.20" y1="335.00" x2="452.20" y2="335.00" stroke="#5b94d6" stroke-width="0.90"/>
<line x1="566.20" y1="294.00" x2="566.20" y2="303.00" stroke="#5b94d6" stroke-width="0.90"/>
<line x1="563.70" y1="294.00" x2="568.70" y2="294.00" stroke="#5b94d6" stroke-width="0.90"/>
<line x1="563.70" y1="303.00" x2="568.70" y2="303.00" stroke="#5b94d6" stroke-width="0.90"/>
<polyline points="449.7,375.0 478.8,321.0 508.0,318.3 537.1,323.8 566.2,303.8 595.3,293.3 623.8,309.4" fill="none" stroke="#e8383d" stroke-width="1.00"/>
<line x1="449.70" y1="366.80" x2="449.70" y2="380.00" stroke="#e8383d" stroke-width="0.90"/>
<line x1="447.20" y1="366.80" x2="452.20" y2="366.80" stroke="#e8383d" stroke-width="0.90"/>
<line x1="447.20" y1="380.00" x2="452.20" y2="380.00" stroke="#e8383d" stroke-width="0.90"/>
<line x1="478.80" y1="315.00" x2="478.80" y2="354.00" stroke="#e8383d" stroke-width="0.90"/>
<line x1="476.30" y1="315.00" x2="481.30" y2="315.00" stroke="#e8383d" stroke-width="0.90"/>
<line x1="476.30" y1="354.00" x2="481.30" y2="354.00" stroke="#e8383d" stroke-width="0.90"/>
<line x1="595.30" y1="287.00" x2="595.30" y2="298.00" stroke="#e8383d" stroke-width="0.90"/>
<line x1="592.80" y1="287.00" x2="597.80" y2="287.00" stroke="#e8383d" stroke-width="0.90"/>
<line x1="592.80" y1="298.00" x2="597.80" y2="298.00" stroke="#e8383d" stroke-width="0.90"/>
<rect x="445.70" y="324.80" width="8.00" height="8.00" fill="#5b94d6" stroke="#2a2a2a" stroke-width="0.60"/>
<rect x="474.80" y="321.20" width="8.00" height="8.00" fill="#5b94d6" stroke="#2a2a2a" stroke-width="0.60"/>
<rect x="504.00" y="307.30" width="8.00" height="8.00" fill="#5b94d6" stroke="#2a2a2a" stroke-width="0.60"/>
<rect x="533.10" y="311.50" width="8.00" height="8.00" fill="#5b94d6" stroke="#2a2a2a" stroke-width="0.60"/>
<rect x="562.20" y="294.80" width="8.00" height="8.00" fill="#5b94d6" stroke="#2a2a2a" stroke-width="0.60"/>
<rect x="591.30" y="294.80" width="8.00" height="8.00" fill="#5b94d6" stroke="#2a2a2a" stroke-width="0.60"/>
<rect x="619.80" y="300.40" width="8.00" height="8.00" fill="#5b94d6" stroke="#2a2a2a" stroke-width="0.60"/>
<rect x="445.70" y="371.00" width="8.00" height="8.00" fill="#e8383d" stroke="#2a2a2a" stroke-width="0.60"/>
<rect x="474.80" y="317.00" width="8.00" height="8.00" fill="#e8383d" stroke="#2a2a2a" stroke-width="0.60"/>
<rect x="504.00" y="314.30" width="8.00" height="8.00" fill="#e8383d" stroke="#2a2a2a" stroke-width="0.60"/>
<rect x="533.10" y="319.80" width="8.00" height="8.00" fill="#e8383d" stroke="#2a2a2a" stroke-width="0.60"/>
<rect x="562.20" y="299.80" width="8.00" height="8.00" fill="#e8383d" stroke="#2a2a2a" stroke-width="0.60"/>
<rect x="591.30" y="289.30" width="8.00" height="8.00" fill="#e8383d" stroke="#2a2a2a" stroke-width="0.60"/>
<rect x="619.80" y="305.40" width="8.00" height="8.00" fill="#e8383d" stroke="#2a2a2a" stroke-width="0.60"/>
<rect x="504.00" y="385.50" width="8.00" height="8.00" fill="#6e8c4f" stroke="#2a2a2a" stroke-width="0.60"/>
<rect x="533.10" y="342.00" width="8.00" height="8.00" fill="#6e8c4f" stroke="#2a2a2a" stroke-width="0.60"/>
<rect x="562.20" y="315.10" width="8.00" height="8.00" fill="#6e8c4f" stroke="#2a2a2a" stroke-width="0.60"/>
<rect x="591.30" y="310.10" width="8.00" height="8.00" fill="#6e8c4f" stroke="#2a2a2a" stroke-width="0.60"/>
<rect x="619.80" y="310.10" width="8.00" height="8.00" fill="#6e8c4f" stroke="#2a2a2a" stroke-width="0.60"/>
<circle cx="449.70" cy="378.70" r="4.10" fill="#e8383d" stroke="#2a2a2a" stroke-width="0.60"/>
<circle cx="478.80" cy="332.70" r="4.10" fill="#e8383d" stroke="#2a2a2a" stroke-width="0.60"/>
<circle cx="508.00" cy="323.80" r="4.10" fill="#e8383d" stroke="#2a2a2a" stroke-width="0.60"/>
<circle cx="537.10" cy="325.20" r="4.10" fill="#e8383d" stroke="#2a2a2a" stroke-width="0.60"/>
<circle cx="566.20" cy="316.90" r="4.10" fill="#e8383d" stroke="#2a2a2a" stroke-width="0.60"/>
<circle cx="595.30" cy="296.90" r="4.10" fill="#e8383d" stroke="#2a2a2a" stroke-width="0.60"/>
<circle cx="623.80" cy="310.00" r="4.10" fill="#e8383d" stroke="#2a2a2a" stroke-width="0.60"/>
<circle cx="449.70" cy="383.40" r="4.10" fill="#5b94d6" stroke="#2a2a2a" stroke-width="0.60"/>
<circle cx="478.80" cy="336.30" r="4.10" fill="#5b94d6" stroke="#2a2a2a" stroke-width="0.60"/>
<circle cx="508.00" cy="331.30" r="4.10" fill="#5b94d6" stroke="#2a2a2a" stroke-width="0.60"/>
<circle cx="537.10" cy="328.00" r="4.10" fill="#5b94d6" stroke="#2a2a2a" stroke-width="0.60"/>
<circle cx="566.20" cy="314.00" r="4.10" fill="#5b94d6" stroke="#2a2a2a" stroke-width="0.60"/>
<circle cx="595.30" cy="305.20" r="4.10" fill="#5b94d6" stroke="#2a2a2a" stroke-width="0.60"/>
<circle cx="623.80" cy="303.50" r="4.10" fill="#5b94d6" stroke="#2a2a2a" stroke-width="0.60"/>
<circle cx="478.80" cy="396.50" r="4.10" fill="#6e8c4f" stroke="#2a2a2a" stroke-width="0.60"/>
<circle cx="508.00" cy="375.70" r="4.10" fill="#6e8c4f" stroke="#2a2a2a" stroke-width="0.60"/>
<circle cx="537.10" cy="359.30" r="4.10" fill="#6e8c4f" stroke="#2a2a2a" stroke-width="0.60"/>
<circle cx="566.20" cy="314.60" r="4.10" fill="#6e8c4f" stroke="#2a2a2a" stroke-width="0.60"/>
<circle cx="595.30" cy="316.90" r="4.10" fill="#6e8c4f" stroke="#2a2a2a" stroke-width="0.60"/>
<circle cx="623.80" cy="314.10" r="4.10" fill="#6e8c4f" stroke="#2a2a2a" stroke-width="0.60"/>
<rect x="389.00" y="418.20" width="8.80" height="8.80" fill="#7a3030" stroke="#222" stroke-width="0.60"/>
<circle cx="393.40" cy="422.60" r="3.70" fill="#6e8c4f" stroke="#2a2a2a" stroke-width="0.50"/>
<polygon points="378.7,440.5 622.7,440.5 626.2,443.1 622.7,445.6 378.7,445.6" fill="#e2e2e2" stroke="#3a3a3a" stroke-width="0.70"/>
<rect x="379.10" y="440.90" width="32.30" height="4.30" fill="#f2f2f2" stroke="none" stroke-width="1.00"/>
<polyline points="409.2,440.3 412.2,443.1 409.2,445.8" fill="none" stroke="#111" stroke-width="1.10"/>
<text x="373.20" y="457.31" font-size="10.90" text-anchor="start" fill="#231f20">Planktonic</text>
<text x="474.50" y="457.31" font-size="10.90" text-anchor="start" fill="#231f20">Biofilm (days)</text>
<text x="16.90" y="476.10" font-size="17.00" font-weight="bold" fill="#231f20">e</text>
<line x1="53.00" y1="580.76" x2="240.00" y2="580.76" stroke="#cfcfcf" stroke-width="1.10" stroke-dasharray="5 3.5"/>
<line x1="53.00" y1="607.53" x2="240.00" y2="607.53" stroke="#cfcfcf" stroke-width="1.10" stroke-dasharray="5 3.5"/>
<line x1="51.40" y1="484.50" x2="51.40" y2="616.00" stroke="#222" stroke-width="1.10"/>
<line x1="46.40" y1="491.54" x2="51.40" y2="491.54" stroke="#222" stroke-width="1.10"/>
<text x="45.00" y="496.26" font-size="11.20" text-anchor="end" fill="#231f20">40</text>
<line x1="46.40" y1="521.28" x2="51.40" y2="521.28" stroke="#222" stroke-width="1.10"/>
<text x="45.00" y="526.00" font-size="11.20" text-anchor="end" fill="#231f20">30</text>
<line x1="46.40" y1="551.02" x2="51.40" y2="551.02" stroke="#222" stroke-width="1.10"/>
<text x="45.00" y="555.74" font-size="11.20" text-anchor="end" fill="#231f20">20</text>
<line x1="46.40" y1="580.76" x2="51.40" y2="580.76" stroke="#222" stroke-width="1.10"/>
<text x="45.00" y="585.48" font-size="11.20" text-anchor="end" fill="#231f20">10</text>
<line x1="46.40" y1="607.53" x2="51.40" y2="607.53" stroke="#222" stroke-width="1.10"/>
<text x="45.00" y="612.25" font-size="11.20" text-anchor="end" fill="#231f20">1</text>
<text transform="translate(23.60 546.60) rotate(-90.00)" x="0" y="3.88" font-size="11.10" text-anchor="middle" fill="#231f20">Virus to microbe ratio</text>
<line x1="51.40" y1="611.20" x2="241.00" y2="611.20" stroke="#222" stroke-width="1.10"/>
<line x1="74.80" y1="611.20" x2="74.80" y2="615.00" stroke="#222" stroke-width="1.10"/>
<text x="74.80" y="626.98" font-size="10.80" text-anchor="middle" fill="#231f20">0</text>
<line x1="125.90" y1="611.20" x2="125.90" y2="615.00" stroke="#222" stroke-width="1.10"/>
<text x="125.90" y="626.98" font-size="10.80" text-anchor="middle" fill="#231f20">2</text>
<line x1="178.10" y1="611.20" x2="178.10" y2="615.00" stroke="#222" stroke-width="1.10"/>
<text x="178.10" y="626.98" font-size="10.80" text-anchor="middle" fill="#231f20">4</text>
<line x1="229.90" y1="611.20" x2="229.90" y2="615.00" stroke="#222" stroke-width="1.10"/>
<text x="229.90" y="626.98" font-size="10.80" text-anchor="middle" fill="#231f20">6</text>
<line x1="60.30" y1="498.50" x2="74.30" y2="498.50" stroke="#6e8c4f" stroke-width="1.10"/>
<circle cx="67.30" cy="498.50" r="3.90" fill="#6e8c4f" stroke="#2a2a2a" stroke-width="0.60"/>
<text x="77.6" y="501.80" font-size="9.4" fill="#231f20">MPAO1</text>
<line x1="60.30" y1="515.60" x2="74.30" y2="515.60" stroke="#e8383d" stroke-width="1.10"/>
<rect x="63.40" y="511.70" width="7.80" height="7.80" fill="#e8383d" stroke="#2a2a2a" stroke-width="0.60"/>
<text x="77.6" y="518.90" font-size="9.4" fill="#231f20">MPAO1 Δ<tspan font-style="italic">pfkA</tspan></text>
<line x1="60.30" y1="531.30" x2="74.30" y2="531.30" stroke="#5b94d6" stroke-width="1.10"/>
<polygon points="63.1,528.1 71.5,528.1 67.3,535.3" fill="#5b94d6" stroke="#2a2a2a" stroke-width="0.60" stroke-linejoin="round"/>
<text x="77.6" y="534.60" font-size="9.4" fill="#231f20">MPAO1 ΔKK<tspan font-size="5.6" dy="1.4" font-style="italic">MP</tspan></text>
<polyline points="74.8,605.7 125.9,601.3 178.1,602.0 229.9,598.4" fill="none" stroke="#6e8c4f" stroke-width="1.10"/>
<polyline points="74.8,605.0 125.9,605.7 178.1,569.5 229.9,528.7" fill="none" stroke="#e8383d" stroke-width="1.10"/>
<polyline points="74.8,607.0 125.9,606.0 178.1,585.6 229.9,549.7" fill="none" stroke="#5b94d6" stroke-width="1.10"/>
<line x1="178.10" y1="560.50" x2="178.10" y2="576.80" stroke="#e8383d" stroke-width="1.00"/>
<line x1="175.50" y1="560.50" x2="180.70" y2="560.50" stroke="#e8383d" stroke-width="1.00"/>
<line x1="175.50" y1="576.80" x2="180.70" y2="576.80" stroke="#e8383d" stroke-width="1.00"/>
<line x1="229.90" y1="501.00" x2="229.90" y2="544.00" stroke="#e8383d" stroke-width="1.00"/>
<line x1="227.30" y1="501.00" x2="232.50" y2="501.00" stroke="#e8383d" stroke-width="1.00"/>
<line x1="227.30" y1="544.00" x2="232.50" y2="544.00" stroke="#e8383d" stroke-width="1.00"/>
<line x1="229.90" y1="544.00" x2="229.90" y2="562.80" stroke="#5b94d6" stroke-width="1.00"/>
<line x1="227.30" y1="544.00" x2="232.50" y2="544.00" stroke="#5b94d6" stroke-width="1.00"/>
<line x1="227.30" y1="562.80" x2="232.50" y2="562.80" stroke="#5b94d6" stroke-width="1.00"/>
<line x1="229.90" y1="594.00" x2="229.90" y2="607.00" stroke="#9fb08a" stroke-width="1.00"/>
<line x1="227.30" y1="594.00" x2="232.50" y2="594.00" stroke="#9fb08a" stroke-width="1.00"/>
<line x1="227.30" y1="607.00" x2="232.50" y2="607.00" stroke="#9fb08a" stroke-width="1.00"/>
<line x1="125.90" y1="598.50" x2="125.90" y2="604.00" stroke="#6e8c4f" stroke-width="1.00"/>
<line x1="123.30" y1="598.50" x2="128.50" y2="598.50" stroke="#6e8c4f" stroke-width="1.00"/>
<line x1="123.30" y1="604.00" x2="128.50" y2="604.00" stroke="#6e8c4f" stroke-width="1.00"/>
<rect x="70.70" y="600.90" width="8.20" height="8.20" fill="#e8383d" stroke="#2a2a2a" stroke-width="0.60"/>
<rect x="121.80" y="601.60" width="8.20" height="8.20" fill="#e8383d" stroke="#2a2a2a" stroke-width="0.60"/>
<rect x="174.00" y="565.40" width="8.20" height="8.20" fill="#e8383d" stroke="#2a2a2a" stroke-width="0.60"/>
<rect x="225.80" y="524.60" width="8.20" height="8.20" fill="#e8383d" stroke="#2a2a2a" stroke-width="0.60"/>
<polygon points="70.5,603.8 79.1,603.8 74.8,611.1" fill="#5b94d6" stroke="#2a2a2a" stroke-width="0.60" stroke-linejoin="round"/>
<polygon points="121.6,602.8 130.2,602.8 125.9,610.1" fill="#5b94d6" stroke="#2a2a2a" stroke-width="0.60" stroke-linejoin="round"/>
<polygon points="173.8,582.4 182.4,582.4 178.1,589.7" fill="#5b94d6" stroke="#2a2a2a" stroke-width="0.60" stroke-linejoin="round"/>
<polygon points="225.6,546.5 234.2,546.5 229.9,553.8" fill="#5b94d6" stroke="#2a2a2a" stroke-width="0.60" stroke-linejoin="round"/>
<circle cx="74.80" cy="605.70" r="4.10" fill="#6e8c4f" stroke="#2a2a2a" stroke-width="0.60"/>
<circle cx="125.90" cy="601.30" r="4.10" fill="#6e8c4f" stroke="#2a2a2a" stroke-width="0.60"/>
<circle cx="178.10" cy="602.00" r="4.10" fill="#6e8c4f" stroke="#2a2a2a" stroke-width="0.60"/>
<circle cx="229.90" cy="598.40" r="4.10" fill="#6e8c4f" stroke="#2a2a2a" stroke-width="0.60"/>
<polygon points="47.4,631.2 233.7,631.2 237.2,634.0 233.7,636.7 47.4,636.7" fill="#e2e2e2" stroke="#3a3a3a" stroke-width="0.70"/>
<rect x="47.80" y="631.60" width="54.40" height="4.70" fill="#f2f2f2" stroke="none" stroke-width="1.00"/>
<polyline points="100.0,631.0 103.0,634.0 100.0,636.9" fill="none" stroke="#111" stroke-width="1.10"/>
<text x="49.00" y="649.62" font-size="10.90" text-anchor="start" fill="#231f20">Planktonic</text>
<text x="134.10" y="649.62" font-size="10.90" text-anchor="start" fill="#231f20">Biofilm (days)</text>
<text x="306.20" y="478.10" font-size="17.00" font-weight="bold" fill="#231f20">f</text>
<text x="338.10" y="488.64" font-size="10.40" text-anchor="start" fill="#231f20" font-weight="bold">MvaU</text>
<line x1="377.50" y1="484.30" x2="381.50" y2="484.30" stroke="#333" stroke-width="0.90"/>
<line x1="461.10" y1="484.30" x2="466.00" y2="484.30" stroke="#333" stroke-width="0.90"/>
<rect x="381.50" y="477.90" width="79.60" height="12.30" fill="#2e6ea6" stroke="#1d4a70" stroke-width="0.50"/>
<rect x="466.00" y="478.00" width="32.90" height="12.00" fill="#2e6ea6" stroke="#1d4a70" stroke-width="0.50"/>
<rect x="532.10" y="478.00" width="101.10" height="12.60" fill="#2e6ea6" stroke="#1d4a70" stroke-width="0.50"/>
<text x="421.30" y="487.80" font-size="10.00" text-anchor="middle" fill="#fff">α1</text>
<text x="482.50" y="487.80" font-size="10.00" text-anchor="middle" fill="#fff">α2</text>
<text x="582.60" y="488.11" font-size="10.30" text-anchor="middle" fill="#fff">DNA Binding Domain</text>
<polyline points="498.9,483.0 499.8,486.0 500.8,483.0 501.7,486.0 502.7,483.0 503.6,486.0 504.6,483.0 505.5,486.0 506.5,483.0 507.4,486.0 508.4,483.0 509.3,486.0 510.3,483.0 511.2,486.0 512.2,483.0 513.1,486.0 514.1,483.0 515.0,486.0 516.0,483.0 517.0,486.0 517.9,483.0 518.9,486.0 519.8,483.0 520.8,486.0 521.7,483.0 522.7,486.0 523.6,483.0 524.6,486.0 525.5,483.0 526.5,486.0 527.4,483.0 528.4,486.0 529.3,483.0 530.3,486.0 531.2,483.0 532.1,484.5" fill="none" stroke="#333" stroke-width="0.90"/>
<text x="513.30" y="496.85" font-size="8.70" text-anchor="middle" fill="#231f20">Linker</text>
<text x="382.80" y="475.26" font-size="9.60" text-anchor="middle" fill="#231f20">5</text>
<text x="455.00" y="475.26" font-size="9.60" text-anchor="middle" fill="#231f20">47</text>
<text x="468.20" y="475.26" font-size="9.60" text-anchor="middle" fill="#231f20">50</text>
<text x="501.40" y="475.26" font-size="9.60" text-anchor="middle" fill="#231f20">58</text>
<text x="535.00" y="475.26" font-size="9.60" text-anchor="middle" fill="#231f20">74</text>
<text x="631.60" y="475.26" font-size="9.60" text-anchor="middle" fill="#231f20">117</text>
<text x="445.00" y="509.59" font-size="9.40" text-anchor="middle" fill="#231f20">MvaU in phosphoproteomics</text>
<line x1="341.80" y1="514.50" x2="538.20" y2="514.50" stroke="#8a8a8a" stroke-width="1.20"/>
<text x="599.30" y="509.39" font-size="9.40" text-anchor="middle" fill="#231f20">Purified native MvaU</text>
<line x1="565.70" y1="514.30" x2="632.60" y2="514.30" stroke="#8a8a8a" stroke-width="1.20"/>
<rect x="341.30" y="517.40" width="10.96" height="11.48" fill="#fbe5e5" stroke="none" stroke-width="1.00"/>
<rect x="352.26" y="517.40" width="10.96" height="11.48" fill="#fbe5e5" stroke="none" stroke-width="1.00"/>
<rect x="407.06" y="517.40" width="10.96" height="11.48" fill="#fbe5e5" stroke="none" stroke-width="1.00"/>
<rect x="418.02" y="517.40" width="10.96" height="11.48" fill="#fbe5e5" stroke="none" stroke-width="1.00"/>
<rect x="428.98" y="517.40" width="10.96" height="11.48" fill="#fbe5e5" stroke="none" stroke-width="1.00"/>
<rect x="439.94" y="517.40" width="10.96" height="11.48" fill="#fbe5e5" stroke="none" stroke-width="1.00"/>
<rect x="450.90" y="517.40" width="10.96" height="11.48" fill="#fbe5e5" stroke="none" stroke-width="1.00"/>
<rect x="461.86" y="517.40" width="10.96" height="11.48" fill="#fbe5e5" stroke="none" stroke-width="1.00"/>
<rect x="472.82" y="517.40" width="10.96" height="11.48" fill="#fbe5e5" stroke="none" stroke-width="1.00"/>
<rect x="483.78" y="517.40" width="10.96" height="11.48" fill="#fbe5e5" stroke="none" stroke-width="1.00"/>
<rect x="494.74" y="517.40" width="10.96" height="11.48" fill="#fbe5e5" stroke="none" stroke-width="1.00"/>
<rect x="505.70" y="517.40" width="10.96" height="11.48" fill="#fbe5e5" stroke="none" stroke-width="1.00"/>
<rect x="516.66" y="517.40" width="10.96" height="11.48" fill="#fbe5e5" stroke="none" stroke-width="1.00"/>
<rect x="527.62" y="517.40" width="10.96" height="11.48" fill="#fbe5e5" stroke="none" stroke-width="1.00"/>
<rect x="374.18" y="528.88" width="10.96" height="11.48" fill="#f9d2d2" stroke="none" stroke-width="1.00"/>
<rect x="385.14" y="528.88" width="10.96" height="11.48" fill="#f8c6c7" stroke="none" stroke-width="1.00"/>
<rect x="396.10" y="528.88" width="10.96" height="11.48" fill="#f8c9ca" stroke="none" stroke-width="1.00"/>
<rect x="374.18" y="540.36" width="10.96" height="11.48" fill="#fdf6f6" stroke="none" stroke-width="1.00"/>
<rect x="385.14" y="540.36" width="10.96" height="11.48" fill="#f4aaab" stroke="none" stroke-width="1.00"/>
<rect x="396.10" y="540.36" width="10.96" height="11.48" fill="#f5b3b3" stroke="none" stroke-width="1.00"/>
<rect x="341.30" y="551.84" width="10.96" height="11.48" fill="#fefbfb" stroke="none" stroke-width="1.00"/>
<rect x="352.26" y="551.84" width="10.96" height="11.48" fill="#fefbfb" stroke="none" stroke-width="1.00"/>
<rect x="363.22" y="551.84" width="10.96" height="11.48" fill="#fefbfb" stroke="none" stroke-width="1.00"/>
<rect x="374.18" y="551.84" width="10.96" height="11.48" fill="#e42325" stroke="none" stroke-width="1.00"/>
<rect x="385.14" y="551.84" width="10.96" height="11.48" fill="#ec6162" stroke="none" stroke-width="1.00"/>
<rect x="396.10" y="551.84" width="10.96" height="11.48" fill="#e5292b" stroke="none" stroke-width="1.00"/>
<rect x="407.06" y="551.84" width="10.96" height="11.48" fill="#fefbfb" stroke="none" stroke-width="1.00"/>
<rect x="418.02" y="551.84" width="10.96" height="11.48" fill="#fefbfb" stroke="none" stroke-width="1.00"/>
<rect x="428.98" y="551.84" width="10.96" height="11.48" fill="#fefbfb" stroke="none" stroke-width="1.00"/>
<rect x="439.94" y="551.84" width="10.96" height="11.48" fill="#fefbfb" stroke="none" stroke-width="1.00"/>
<rect x="450.90" y="551.84" width="10.96" height="11.48" fill="#fefbfb" stroke="none" stroke-width="1.00"/>
<rect x="461.86" y="551.84" width="10.96" height="11.48" fill="#fefbfb" stroke="none" stroke-width="1.00"/>
<rect x="472.82" y="551.84" width="10.96" height="11.48" fill="#fefbfb" stroke="none" stroke-width="1.00"/>
<rect x="483.78" y="551.84" width="10.96" height="11.48" fill="#fefbfb" stroke="none" stroke-width="1.00"/>
<rect x="494.74" y="551.84" width="10.96" height="11.48" fill="#fefbfb" stroke="none" stroke-width="1.00"/>
<rect x="505.70" y="551.84" width="10.96" height="11.48" fill="#fefbfb" stroke="none" stroke-width="1.00"/>
<rect x="516.66" y="551.84" width="10.96" height="11.48" fill="#fefbfb" stroke="none" stroke-width="1.00"/>
<rect x="527.62" y="551.84" width="10.96" height="11.48" fill="#fefbfb" stroke="none" stroke-width="1.00"/>
<rect x="374.18" y="563.32" width="10.96" height="11.48" fill="#fce8e8" stroke="none" stroke-width="1.00"/>
<rect x="385.14" y="563.32" width="10.96" height="11.48" fill="#fcebeb" stroke="none" stroke-width="1.00"/>
<rect x="374.18" y="574.80" width="10.96" height="11.48" fill="#f7c1c1" stroke="none" stroke-width="1.00"/>
<rect x="385.14" y="574.80" width="10.96" height="11.48" fill="#f6bbbc" stroke="none" stroke-width="1.00"/>
<rect x="396.10" y="574.80" width="10.96" height="11.48" fill="#f7bebe" stroke="none" stroke-width="1.00"/>
<rect x="374.18" y="586.28" width="10.96" height="11.48" fill="#f18e8f" stroke="none" stroke-width="1.00"/>
<rect x="385.14" y="586.28" width="10.96" height="11.48" fill="#ef7d7e" stroke="none" stroke-width="1.00"/>
<rect x="396.10" y="586.28" width="10.96" height="11.48" fill="#f08889" stroke="none" stroke-width="1.00"/>
<rect x="374.18" y="597.76" width="10.96" height="11.48" fill="#fadddd" stroke="none" stroke-width="1.00"/>
<rect x="385.14" y="597.76" width="10.96" height="11.48" fill="#fadddd" stroke="none" stroke-width="1.00"/>
<rect x="396.10" y="597.76" width="10.96" height="11.48" fill="#fadddd" stroke="none" stroke-width="1.00"/>
<rect x="374.18" y="609.24" width="10.96" height="11.48" fill="#fbe2e3" stroke="none" stroke-width="1.00"/>
<rect x="385.14" y="609.24" width="10.96" height="11.48" fill="#fbe2e3" stroke="none" stroke-width="1.00"/>
<rect x="396.10" y="609.24" width="10.96" height="11.48" fill="#fbe5e5" stroke="none" stroke-width="1.00"/>
<rect x="374.18" y="620.72" width="10.96" height="11.48" fill="#fbe2e3" stroke="none" stroke-width="1.00"/>
<rect x="385.14" y="620.72" width="10.96" height="11.48" fill="#fbe2e3" stroke="none" stroke-width="1.00"/>
<rect x="396.10" y="620.72" width="10.96" height="11.48" fill="#fbe5e5" stroke="none" stroke-width="1.00"/>
<path d="M341.30 517.40H538.58M341.30 528.88H538.58M341.30 540.36H538.58M341.30 551.84H538.58M341.30 563.32H538.58M341.30 574.80H538.58M341.30 586.28H538.58M341.30 597.76H538.58M341.30 609.24H538.58M341.30 620.72H538.58M341.30 632.20H538.58M341.30 517.40V632.20M352.26 517.40V632.20M363.22 517.40V632.20M374.18 517.40V632.20M385.14 517.40V632.20M396.10 517.40V632.20M407.06 517.40V632.20M418.02 517.40V632.20M428.98 517.40V632.20M439.94 517.40V632.20M450.90 517.40V632.20M461.86 517.40V632.20M472.82 517.40V632.20M483.78 517.40V632.20M494.74 517.40V632.20M505.70 517.40V632.20M516.66 517.40V632.20M527.62 517.40V632.20M538.58 517.40V632.20" fill="none" stroke="#3a3a3a" stroke-width="0.75"/>
<path d="M341.30 517.40V632.20M374.18 517.40V632.20M407.06 517.40V632.20M439.94 517.40V632.20M472.82 517.40V632.20M505.70 517.40V632.20M538.58 517.40V632.20" fill="none" stroke="#555" stroke-width="1.00"/>
<line x1="341.10" y1="637.40" x2="372.00" y2="637.40" stroke="#333" stroke-width="0.90"/>
<text x="360.20" y="648.81" font-size="10.60" text-anchor="middle" fill="#231f20">Vector</text>
<line x1="374.70" y1="637.40" x2="405.60" y2="637.40" stroke="#333" stroke-width="0.90"/>
<text x="397.20" y="648.80" font-size="10.6" text-anchor="middle" fill="#231f20">KK<tspan font-size="6.4" dy="1.6">MP</tspan></text>
<line x1="408.20" y1="637.40" x2="439.10" y2="637.40" stroke="#333" stroke-width="0.90"/>
<text x="429.00" y="648.80" font-size="10.6" text-anchor="middle" fill="#231f20">KKP<tspan font-size="6.4" dy="1.6">MP</tspan></text>
<line x1="441.80" y1="637.40" x2="471.70" y2="637.40" stroke="#333" stroke-width="0.90"/>
<text x="459.30" y="648.81" font-size="10.60" text-anchor="middle" fill="#231f20">PfkA</text>
<line x1="474.40" y1="637.40" x2="504.60" y2="637.40" stroke="#333" stroke-width="0.90"/>
<text x="492.90" y="648.81" font-size="10.60" text-anchor="middle" fill="#231f20">PfkB</text>
<line x1="507.30" y1="637.40" x2="537.50" y2="637.40" stroke="#333" stroke-width="0.90"/>
<text x="524.80" y="648.81" font-size="10.60" text-anchor="middle" fill="#231f20">PfpC</text>
<defs><linearGradient id="cb" x1="0" y1="0" x2="0" y2="1"><stop offset="0" stop-color="#e41e20"/><stop offset="1" stop-color="#ffffff"/></linearGradient></defs>
<rect x="302.10" y="530.50" width="9.70" height="80.70" fill="url(#cb)" stroke="none" stroke-width="1.00"/>
<line x1="311.80" y1="530.50" x2="311.80" y2="611.20" stroke="#999" stroke-width="0.60"/>
<line x1="311.80" y1="530.50" x2="313.60" y2="530.50" stroke="#777" stroke-width="0.60"/>
<text x="314.40" y="533.72" font-size="9.20" text-anchor="start" fill="#231f20">8.00</text>
<line x1="311.80" y1="540.59" x2="313.60" y2="540.59" stroke="#777" stroke-width="0.60"/>
<text x="314.40" y="543.81" font-size="9.20" text-anchor="start" fill="#231f20">7.00</text>
<line x1="311.80" y1="550.67" x2="313.60" y2="550.67" stroke="#777" stroke-width="0.60"/>
<text x="314.40" y="553.89" font-size="9.20" text-anchor="start" fill="#231f20">6.00</text>
<line x1="311.80" y1="560.76" x2="313.60" y2="560.76" stroke="#777" stroke-width="0.60"/>
<text x="314.40" y="563.98" font-size="9.20" text-anchor="start" fill="#231f20">5.00</text>
<line x1="311.80" y1="570.85" x2="313.60" y2="570.85" stroke="#777" stroke-width="0.60"/>
<text x="314.40" y="574.07" font-size="9.20" text-anchor="start" fill="#231f20">4.00</text>
<line x1="311.80" y1="580.94" x2="313.60" y2="580.94" stroke="#777" stroke-width="0.60"/>
<text x="314.40" y="584.16" font-size="9.20" text-anchor="start" fill="#231f20">3.00</text>
<line x1="311.80" y1="591.02" x2="313.60" y2="591.02" stroke="#777" stroke-width="0.60"/>
<text x="314.40" y="594.25" font-size="9.20" text-anchor="start" fill="#231f20">2.00</text>
<line x1="311.80" y1="601.11" x2="313.60" y2="601.11" stroke="#777" stroke-width="0.60"/>
<text x="314.40" y="604.33" font-size="9.20" text-anchor="start" fill="#231f20">1.00</text>
<line x1="311.80" y1="611.20" x2="313.60" y2="611.20" stroke="#777" stroke-width="0.60"/>
<text x="314.40" y="614.42" font-size="9.20" text-anchor="start" fill="#231f20">0.00</text>
<line x1="302.10" y1="611.20" x2="311.80" y2="611.20" stroke="#999" stroke-width="0.80"/>
<text transform="translate(292.10 567.20) rotate(-90.00)" x="0" y="3.32" font-size="9.50" text-anchor="middle" fill="#231f20">Normalized abundance</text>
<rect x="577.73" y="517.40" width="11.03" height="11.48" fill="#6a6a6a" stroke="none" stroke-width="1.00"/>
<rect x="577.73" y="528.88" width="11.03" height="11.48" fill="#6a6a6a" stroke="none" stroke-width="1.00"/>
<rect x="577.73" y="574.80" width="11.03" height="11.48" fill="#6a6a6a" stroke="none" stroke-width="1.00"/>
<rect x="577.73" y="586.28" width="11.03" height="11.48" fill="#6a6a6a" stroke="none" stroke-width="1.00"/>
<rect x="577.73" y="597.76" width="11.03" height="11.48" fill="#6a6a6a" stroke="none" stroke-width="1.00"/>
<path d="M566.70 517.40H632.88M566.70 528.88H632.88M566.70 540.36H632.88M566.70 551.84H632.88M566.70 563.32H632.88M566.70 574.80H632.88M566.70 586.28H632.88M566.70 597.76H632.88M566.70 609.24H632.88M566.70 620.72H632.88M566.70 632.20H632.88M566.70 517.40V632.20M577.73 517.40V632.20M588.76 517.40V632.20M599.79 517.40V632.20M610.82 517.40V632.20M621.85 517.40V632.20M632.88 517.40V632.20" fill="none" stroke="#3a3a3a" stroke-width="0.75"/>
<text x="565.00" y="527.54" font-size="10.00" text-anchor="end" fill="#231f20">S2</text>
<text x="565.00" y="539.02" font-size="10.00" text-anchor="end" fill="#231f20">S26</text>
<text x="565.00" y="550.50" font-size="10.00" text-anchor="end" fill="#231f20">S28</text>
<text x="565.00" y="561.98" font-size="10.00" text-anchor="end" fill="#231f20">S29</text>
<text x="565.00" y="573.46" font-size="10.00" text-anchor="end" fill="#231f20">T50</text>
<text x="565.00" y="584.94" font-size="10.00" text-anchor="end" fill="#231f20">T65</text>
<text x="565.00" y="596.42" font-size="10.00" text-anchor="end" fill="#231f20">S67</text>
<text x="565.00" y="607.90" font-size="10.00" text-anchor="end" fill="#231f20">T91</text>
<text x="565.00" y="619.38" font-size="10.00" text-anchor="end" fill="#231f20">S108</text>
<text x="565.00" y="630.86" font-size="10.00" text-anchor="end" fill="#231f20">T110</text>
<text transform="translate(576.02 637.6) rotate(-58)" font-size="10.6" text-anchor="end" fill="#231f20">Vector</text>
<text transform="translate(587.05 637.6) rotate(-58)" font-size="10.6" text-anchor="end" fill="#231f20">KK<tspan font-size="6" dy="1.5">MP</tspan></text>
<text transform="translate(598.08 637.6) rotate(-58)" font-size="10.6" text-anchor="end" fill="#231f20">KKP<tspan font-size="6" dy="1.5">MP</tspan></text>
<text transform="translate(609.11 637.6) rotate(-58)" font-size="10.6" text-anchor="end" fill="#231f20">PfkA</text>
<text transform="translate(620.14 637.6) rotate(-58)" font-size="10.6" text-anchor="end" fill="#231f20">PfkB</text>
<text transform="translate(631.17 637.6) rotate(-58)" font-size="10.6" text-anchor="end" fill="#231f20">PfpC</text>
<rect x="636.50" y="609.50" width="9.30" height="9.20" fill="#fff" stroke="#333" stroke-width="0.70"/>
<rect x="636.50" y="622.60" width="9.30" height="9.40" fill="#6a6a6a" stroke="#333" stroke-width="0.70"/>
<text x="646.60" y="617.98" font-size="10.80" text-anchor="start" fill="#231f20">Absent</text>
<text x="646.60" y="630.98" font-size="10.80" text-anchor="start" fill="#231f20">Present</text>
<text x="16.6" y="673.6" font-size="17" font-weight="bold" fill="#231f20">g</text>
<circle cx="123.60" cy="669.90" r="3.70" fill="#fff" stroke="#111" stroke-width="0.90"/>
<text x="135.30" y="673.26" font-size="9.60" text-anchor="start" fill="#231f20">Day 2</text>
<rect x="195.80" y="666.20" width="7.40" height="7.40" fill="#fff" stroke="#111" stroke-width="0.90"/>
<text x="212.20" y="672.96" font-size="9.60" text-anchor="start" fill="#231f20">Day 6</text>
<line x1="54.50" y1="696.40" x2="54.50" y2="794.10" stroke="#222" stroke-width="1.00"/>
<line x1="50.10" y1="696.40" x2="54.50" y2="696.40" stroke="#222" stroke-width="1.00"/>
<text x="38.95" y="701.78" font-size="10.80" text-anchor="end" fill="#231f20">10</text>
<text x="39.15" y="697.24" font-size="7.60" fill="#231f20">12</text>
<line x1="50.10" y1="716.00" x2="54.50" y2="716.00" stroke="#222" stroke-width="1.00"/>
<text x="38.95" y="721.38" font-size="10.80" text-anchor="end" fill="#231f20">10</text>
<text x="39.15" y="716.84" font-size="7.60" fill="#231f20">10</text>
<line x1="50.10" y1="735.60" x2="54.50" y2="735.60" stroke="#222" stroke-width="1.00"/>
<text x="43.17" y="740.98" font-size="10.80" text-anchor="end" fill="#231f20">10</text>
<text x="43.37" y="736.44" font-size="7.60" fill="#231f20">8</text>
<line x1="50.10" y1="755.30" x2="54.50" y2="755.30" stroke="#222" stroke-width="1.00"/>
<text x="43.17" y="760.68" font-size="10.80" text-anchor="end" fill="#231f20">10</text>
<text x="43.37" y="756.14" font-size="7.60" fill="#231f20">6</text>
<line x1="50.10" y1="774.60" x2="54.50" y2="774.60" stroke="#222" stroke-width="1.00"/>
<text x="43.17" y="779.98" font-size="10.80" text-anchor="end" fill="#231f20">10</text>
<text x="43.37" y="775.44" font-size="7.60" fill="#231f20">4</text>
<line x1="50.10" y1="794.10" x2="54.50" y2="794.10" stroke="#222" stroke-width="1.00"/>
<text x="43.17" y="799.48" font-size="10.80" text-anchor="end" fill="#231f20">10</text>
<text x="43.37" y="794.94" font-size="7.60" fill="#231f20">2</text>
<line x1="54.50" y1="794.20" x2="201.40" y2="794.20" stroke="#222" stroke-width="1.00"/>
<line x1="93.50" y1="794.20" x2="93.50" y2="797.60" stroke="#222" stroke-width="1.00"/>
<line x1="161.40" y1="794.20" x2="161.40" y2="797.60" stroke="#222" stroke-width="1.00"/>
<rect x="66.50" y="767.00" width="21.00" height="27.20" fill="#6b8a4e" stroke="#1e1e1e" stroke-width="0.80"/>
<rect x="100.20" y="710.70" width="21.10" height="83.50" fill="#6b8a4e" stroke="#1e1e1e" stroke-width="0.80"/>
<rect x="133.60" y="777.80" width="21.50" height="16.40" fill="#a6bbc4" stroke="#1e1e1e" stroke-width="0.80"/>
<rect x="167.30" y="721.30" width="21.30" height="72.90" fill="#a6bbc4" stroke="#1e1e1e" stroke-width="0.80"/>
<circle cx="69.70" cy="765.90" r="3.20" fill="none" stroke="#111" stroke-width="0.85"/>
<circle cx="76.60" cy="765.90" r="3.20" fill="none" stroke="#111" stroke-width="0.85"/>
<circle cx="84.00" cy="765.90" r="3.20" fill="none" stroke="#111" stroke-width="0.85"/>
<line x1="110.70" y1="707.20" x2="110.70" y2="719.00" stroke="#111" stroke-width="0.80"/>
<line x1="107.20" y1="707.20" x2="114.20" y2="707.20" stroke="#111" stroke-width="0.80"/>
<line x1="107.20" y1="719.00" x2="114.20" y2="719.00" stroke="#111" stroke-width="0.80"/>
<rect x="101.05" y="704.15" width="6.90" height="6.90" fill="none" stroke="#111" stroke-width="0.85"/>
<rect x="112.75" y="705.15" width="6.90" height="6.90" fill="none" stroke="#111" stroke-width="0.85"/>
<rect x="107.25" y="728.35" width="6.90" height="6.90" fill="none" stroke="#111" stroke-width="0.85"/>
<line x1="144.40" y1="774.50" x2="144.40" y2="781.50" stroke="#111" stroke-width="0.80"/>
<line x1="140.90" y1="774.50" x2="147.90" y2="774.50" stroke="#111" stroke-width="0.80"/>
<line x1="140.90" y1="781.50" x2="147.90" y2="781.50" stroke="#111" stroke-width="0.80"/>
<circle cx="137.50" cy="775.50" r="3.20" fill="none" stroke="#111" stroke-width="0.85"/>
<circle cx="144.50" cy="777.60" r="3.20" fill="none" stroke="#111" stroke-width="0.85"/>
<circle cx="151.00" cy="782.00" r="3.20" fill="none" stroke="#111" stroke-width="0.85"/>
<line x1="178.00" y1="718.00" x2="178.00" y2="722.50" stroke="#111" stroke-width="0.80"/>
<line x1="174.50" y1="718.00" x2="181.50" y2="718.00" stroke="#111" stroke-width="0.80"/>
<line x1="174.50" y1="722.50" x2="181.50" y2="722.50" stroke="#111" stroke-width="0.80"/>
<rect x="167.55" y="713.15" width="6.90" height="6.90" fill="none" stroke="#111" stroke-width="0.85"/>
<rect x="174.15" y="721.05" width="6.90" height="6.90" fill="none" stroke="#111" stroke-width="0.85"/>
<rect x="181.25" y="723.55" width="6.90" height="6.90" fill="none" stroke="#111" stroke-width="0.85"/>
<polyline points="76.3,689.5 76.3,687.4 148.1,687.4 148.1,689.5" fill="none" stroke="#555" stroke-width="0.80"/>
<text x="114.30" y="685.60" font-size="9.6" text-anchor="middle" fill="#231f20"><tspan font-style="italic">P</tspan> &lt;0.0001</text>
<text x="93.20" y="807.98" font-size="10.80" text-anchor="middle" fill="#231f20">MvaU</text>
<text x="161" y="808.00" font-size="10.8" text-anchor="middle" fill="#231f20">MvaU<tspan font-size="6.8" dy="-4.2">S67D</tspan></text>
<text transform="translate(22.30 743.00) rotate(-90.00)" x="0" y="3.78" font-size="10.80" text-anchor="middle" fill="#231f20">PFU/ml (Pf4)</text>
<line x1="254.50" y1="690.10" x2="254.50" y2="793.30" stroke="#222" stroke-width="1.00"/>
<line x1="250.10" y1="690.10" x2="254.50" y2="690.10" stroke="#222" stroke-width="1.00"/>
<text x="237.95" y="698.48" font-size="10.80" text-anchor="end" fill="#231f20">10</text>
<text x="238.15" y="693.94" font-size="7.60" fill="#231f20">12</text>
<line x1="250.10" y1="710.60" x2="254.50" y2="710.60" stroke="#222" stroke-width="1.00"/>
<text x="237.95" y="718.38" font-size="10.80" text-anchor="end" fill="#231f20">10</text>
<text x="238.15" y="713.84" font-size="7.60" fill="#231f20">10</text>
<line x1="250.10" y1="731.20" x2="254.50" y2="731.20" stroke="#222" stroke-width="1.00"/>
<text x="242.17" y="738.98" font-size="10.80" text-anchor="end" fill="#231f20">10</text>
<text x="242.37" y="734.44" font-size="7.60" fill="#231f20">8</text>
<line x1="250.10" y1="752.00" x2="254.50" y2="752.00" stroke="#222" stroke-width="1.00"/>
<text x="242.17" y="759.48" font-size="10.80" text-anchor="end" fill="#231f20">10</text>
<text x="242.37" y="754.94" font-size="7.60" fill="#231f20">6</text>
<line x1="250.10" y1="772.60" x2="254.50" y2="772.60" stroke="#222" stroke-width="1.00"/>
<text x="242.17" y="780.28" font-size="10.80" text-anchor="end" fill="#231f20">10</text>
<text x="242.37" y="775.74" font-size="7.60" fill="#231f20">4</text>
<line x1="250.10" y1="793.30" x2="254.50" y2="793.30" stroke="#222" stroke-width="1.00"/>
<text x="242.17" y="797.28" font-size="10.80" text-anchor="end" fill="#231f20">10</text>
<text x="242.37" y="792.74" font-size="7.60" fill="#231f20">2</text>
<line x1="254.50" y1="793.50" x2="410.30" y2="793.50" stroke="#222" stroke-width="1.00"/>
<line x1="295.10" y1="793.50" x2="295.10" y2="797.00" stroke="#222" stroke-width="1.00"/>
<line x1="372.00" y1="793.50" x2="372.00" y2="797.00" stroke="#222" stroke-width="1.00"/>
<rect x="266.50" y="777.90" width="22.40" height="15.60" fill="#6b8a4e" stroke="#1e1e1e" stroke-width="0.80"/>
<rect x="302.10" y="705.60" width="22.50" height="87.90" fill="#6b8a4e" stroke="#1e1e1e" stroke-width="0.80"/>
<rect x="338.10" y="788.70" width="22.50" height="4.80" fill="#a6bbc4" stroke="#1e1e1e" stroke-width="0.80"/>
<rect x="374.00" y="750.20" width="22.50" height="43.30" fill="#a6bbc4" stroke="#1e1e1e" stroke-width="0.80"/>
<circle cx="270.60" cy="774.90" r="3.20" fill="none" stroke="#111" stroke-width="0.85"/>
<circle cx="277.10" cy="778.20" r="3.20" fill="none" stroke="#111" stroke-width="0.85"/>
<circle cx="285.30" cy="778.70" r="3.20" fill="none" stroke="#111" stroke-width="0.85"/>
<line x1="313.40" y1="703.50" x2="313.40" y2="708.00" stroke="#111" stroke-width="0.80"/>
<line x1="309.90" y1="703.50" x2="316.90" y2="703.50" stroke="#111" stroke-width="0.80"/>
<line x1="309.90" y1="708.00" x2="316.90" y2="708.00" stroke="#111" stroke-width="0.80"/>
<rect x="303.05" y="699.15" width="6.90" height="6.90" fill="none" stroke="#111" stroke-width="0.85"/>
<rect x="310.05" y="701.05" width="6.90" height="6.90" fill="none" stroke="#111" stroke-width="0.85"/>
<rect x="317.05" y="705.55" width="6.90" height="6.90" fill="none" stroke="#111" stroke-width="0.85"/>
<circle cx="341.80" cy="785.00" r="3.20" fill="none" stroke="#111" stroke-width="0.85"/>
<circle cx="349.00" cy="789.00" r="3.20" fill="none" stroke="#111" stroke-width="0.85"/>
<circle cx="356.50" cy="789.50" r="3.20" fill="none" stroke="#111" stroke-width="0.85"/>
<line x1="385.30" y1="745.50" x2="385.30" y2="752.50" stroke="#111" stroke-width="0.80"/>
<line x1="381.80" y1="745.50" x2="388.80" y2="745.50" stroke="#111" stroke-width="0.80"/>
<line x1="381.80" y1="752.50" x2="388.80" y2="752.50" stroke="#111" stroke-width="0.80"/>
<rect x="375.55" y="747.55" width="6.90" height="6.90" fill="none" stroke="#111" stroke-width="0.85"/>
<rect x="382.05" y="741.05" width="6.90" height="6.90" fill="none" stroke="#111" stroke-width="0.85"/>
<rect x="388.55" y="753.55" width="6.90" height="6.90" fill="none" stroke="#111" stroke-width="0.85"/>
<polyline points="277.0,697.7 277.0,695.6 348.4,695.6 348.4,697.7" fill="none" stroke="#555" stroke-width="0.80"/>
<text x="315.00" y="693.50" font-size="9.6" text-anchor="middle" fill="#231f20"><tspan font-style="italic">P</tspan> =0.0205</text>
<polyline points="311.4,681.6 311.4,679.5 383.0,679.5 383.0,681.6" fill="none" stroke="#555" stroke-width="0.80"/>
<text x="349.30" y="677.50" font-size="9.6" text-anchor="middle" fill="#231f20"><tspan font-style="italic">P</tspan> =0.0322</text>
<text x="294.70" y="808.58" font-size="10.80" text-anchor="middle" fill="#231f20">MvaU</text>
<text x="371.8" y="808.60" font-size="10.8" text-anchor="middle" fill="#231f20">MvaU<tspan font-size="6.8" dy="-4.2">S67D</tspan></text>
<text transform="translate(220.60 741.80) rotate(-90.00)" x="0" y="3.71" font-size="10.60" text-anchor="middle" fill="#231f20" font-weight="bold">PFU/ml (Pf6)</text>
<defs><radialGradient id="gA" cx="0.5" cy="0.4" r="0.6"><stop offset="0" stop-color="#f6c2ab"/><stop offset="1" stop-color="#e0806a"/></radialGradient><radialGradient id="gB" cx="0.5" cy="0.4" r="0.6"><stop offset="0" stop-color="#d9a3b1"/><stop offset="1" stop-color="#9c5468"/></radialGradient><radialGradient id="gC" cx="0.5" cy="0.45" r="0.6"><stop offset="0" stop-color="#b8c8bf"/><stop offset="1" stop-color="#3f5a4e"/></radialGradient><marker id="ah" viewBox="0 0 10 10" refX="8" refY="5" markerWidth="4" markerHeight="4" orient="auto"><path d="M0 0L10 5L0 10z" fill="#111"/></marker></defs>
<text x="422.90" y="677.70" font-size="17.00" font-weight="bold" fill="#231f20">h</text>
<text x="433.90" y="707.18" font-size="10.80" text-anchor="start" fill="#231f20" font-weight="bold">Planktonic</text>
<text x="436.80" y="773.18" font-size="10.80" text-anchor="start" fill="#231f20" font-weight="bold">Biofilm</text>
<ellipse cx="530.4" cy="685.6" rx="14.8" ry="6.4" fill="url(#gA)" stroke="#b05a46" stroke-width="0.6"/>
<text x="530.40" y="688.61" font-size="8.60" text-anchor="middle" fill="#3a2a2a">PfkA</text>
<ellipse cx="530.0" cy="699.5" rx="10.5" ry="5.3" fill="url(#gB)" stroke="#6e3444" stroke-width="0.6"/>
<text x="530.00" y="702.23" font-size="7.80" text-anchor="middle" fill="#3a2a2a">PfkB</text>
<path d="M528.8 717.5 C531.4 714.9 535.2 713.3 538.3 714.9 C540.4 716.7 540.0 725.1 534.8 728.0 C531.4 729.3 526.2 729.3 522.8 728.0 C517.6 725.1 517.2 716.7 519.3 714.9 C522.3 713.3 526.2 714.9 528.8 717.5 Z" fill="url(#gC)" stroke="#2e3f37" stroke-width="0.60"/>
<text x="528.80" y="725.80" font-size="8.00" text-anchor="middle" fill="#2a3a33">PfpC</text>
<path d="M511 718.3 C494 717 490 692 511 690" fill="none" stroke="#333" stroke-width="0.60"/>
<line x1="511.00" y1="684.00" x2="511.00" y2="696.40" stroke="#333" stroke-width="0.80"/>
<ellipse cx="528" cy="748" rx="15.6" ry="6.9" fill="url(#gA)" stroke="#b05a46" stroke-width="0.6"/>
<text x="528.00" y="751.22" font-size="9.20" text-anchor="middle" fill="#3a2a2a">PfkA</text>
<ellipse cx="528" cy="764.7" rx="16.9" ry="7.5" fill="url(#gB)" stroke="#6e3444" stroke-width="0.6"/>
<text x="528.00" y="767.99" font-size="9.40" text-anchor="middle" fill="#3a2a2a">PfkB</text>
<path d="M528.0 779.4 C532.3 775.0 538.7 772.5 543.8 775.0 C547.3 778.1 546.6 792.2 538.0 797.1 C532.3 799.1 523.7 799.1 518.0 797.1 C509.4 792.2 508.7 778.1 512.2 775.0 C517.3 772.5 523.7 775.0 528.0 779.4 Z" fill="url(#gC)" stroke="#2e3f37" stroke-width="0.60"/>
<text x="528.00" y="791.36" font-size="9.60" text-anchor="middle" fill="#1e2a25">PfpC</text>
<text x="529.40" y="810.65" font-size="11.00" text-anchor="middle" fill="#231f20">High PfpC</text>
<path d="M502 782.7 C482 781 481 757 502 755.5" fill="none" stroke="#111" stroke-width="2.40"/>
<line x1="503.40" y1="749.00" x2="503.40" y2="761.20" stroke="#111" stroke-width="2.60"/>
<line x1="550.70" y1="697.20" x2="574.00" y2="697.20" stroke="#111" stroke-width="3.00"/>
<polygon points="573.0,692.6 581.5,697.2 573.0,701.8" fill="#111" stroke="none" stroke-width="1.00"/>
<text x="590.20" y="699.85" font-size="11.00" text-anchor="middle" fill="#231f20">+</text>
<circle cx="599.80" cy="697.40" r="4.30" fill="#e23a48" stroke="#5a1a20" stroke-width="0.60"/>
<text x="600.30" y="700.61" font-size="8.60" text-anchor="middle" fill="#3a0a0a">P</text>
<text x="598.20" y="680.18" font-size="10.80" text-anchor="middle" fill="#231f20">MvaU</text>
<path d="M600 684.5 C608 690 609 703 602.5 709.5" fill="none" stroke="#111" stroke-width="2.70"/>
<polygon points="599.0,707.5 605.5,710.5 600.5,714.5" fill="#111" stroke="none" stroke-width="1.00"/>
<text x="598.20" y="723.68" font-size="10.80" text-anchor="middle" fill="#231f20">MvaU-P</text>
<line x1="624.80" y1="719.70" x2="651.70" y2="719.70" stroke="#111" stroke-width="0.90"/>
<line x1="651.70" y1="714.20" x2="651.70" y2="724.40" stroke="#111" stroke-width="1.00"/>
<text x="656.50" y="715.77" font-size="10.50" text-anchor="start" fill="#231f20">Pf4</text>
<text x="656.50" y="729.47" font-size="10.50" text-anchor="start" fill="#231f20">Pf6</text>
<line x1="547.00" y1="756.10" x2="577.00" y2="756.10" stroke="#111" stroke-width="0.90" stroke-dasharray="2.6 1.6"/>
<polyline points="573.5,752.6 577.5,756.1 573.5,759.6" fill="none" stroke="#111" stroke-width="0.90"/>
<text x="587.20" y="759.45" font-size="11.00" text-anchor="middle" fill="#231f20">+</text>
<circle cx="595.10" cy="756.50" r="4.30" fill="#e23a48" stroke="#5a1a20" stroke-width="0.60"/>
<text x="595.60" y="759.71" font-size="8.60" text-anchor="middle" fill="#3a0a0a">P</text>
<text x="592.40" y="743.98" font-size="10.80" text-anchor="middle" fill="#231f20">MvaU</text>
<path d="M594.5 746 C600 752 600 762 595 769" fill="none" stroke="#111" stroke-width="0.90" stroke-dasharray="1.4 1.2"/>
<polygon points="592.5,767.5 596.8,769.2 593.2,772.8" fill="#111" stroke="none" stroke-width="1.00"/>
<text x="590.00" y="784.78" font-size="10.80" text-anchor="middle" fill="#231f20">MvaU-P</text>
<line x1="616.60" y1="780.70" x2="644.50" y2="780.70" stroke="#111" stroke-width="0.90" stroke-dasharray="1.6 1.4"/>
<line x1="645.20" y1="774.50" x2="645.20" y2="785.20" stroke="#111" stroke-width="0.90" stroke-dasharray="1.4 1.4"/>
<text x="651.70" y="779.17" font-size="10.50" text-anchor="start" fill="#231f20">Pf4</text>
<text x="651.70" y="792.07" font-size="10.50" text-anchor="start" fill="#231f20">Pf6</text>
</svg></body></html>
